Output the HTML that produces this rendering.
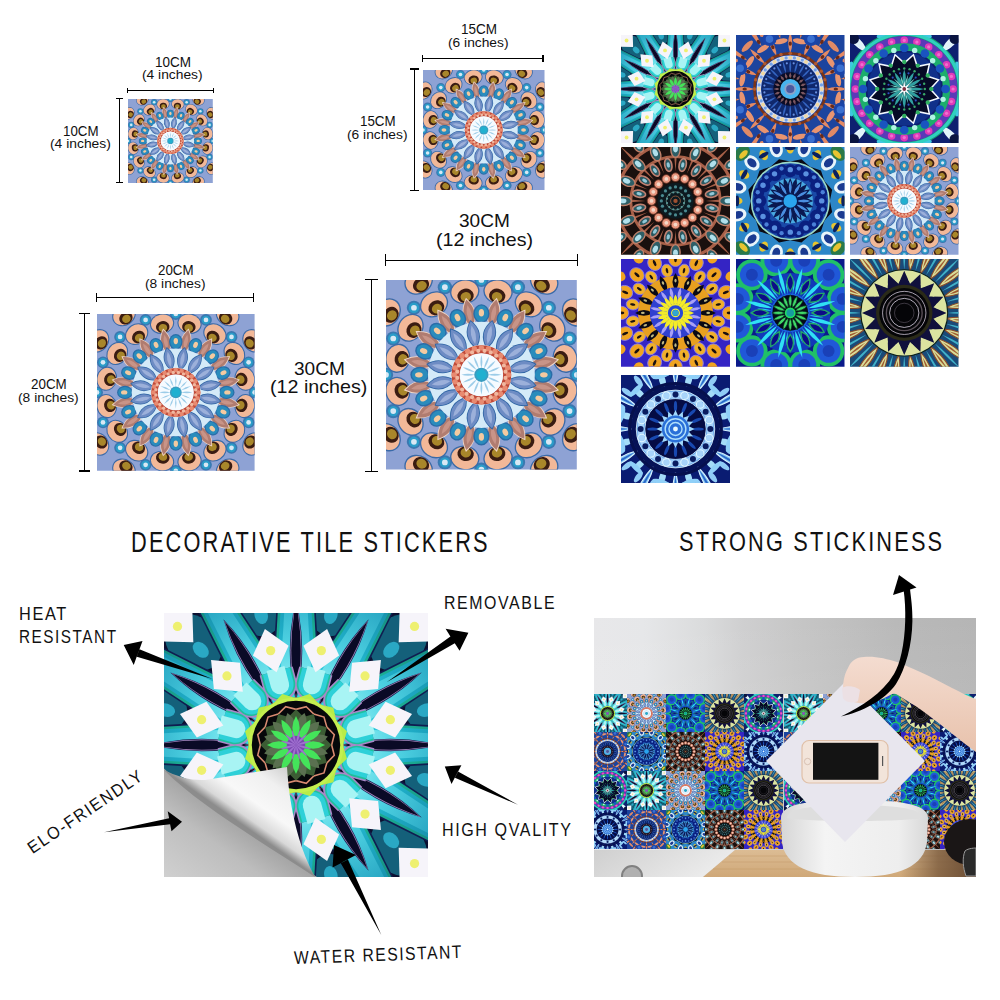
<!DOCTYPE html><html><head><meta charset="utf-8"><style>
*{margin:0;padding:0;box-sizing:border-box}
html,body{width:1000px;height:1000px;background:#fff;overflow:hidden}
body{position:relative;font-family:"Liberation Sans",sans-serif;color:#111}
.a{position:absolute}
svg.t{position:absolute;overflow:hidden;display:block}
.h{position:absolute;height:1.4px;background:#000}
.v{position:absolute;width:1.4px;background:#000}
.tx{position:absolute;white-space:nowrap;line-height:1;text-align:center}
</style></head><body>
<svg width="0" height="0" style="position:absolute"><defs><radialGradient id="gBgreen" gradientUnits="userSpaceOnUse" cx="0" cy="0" r="1.5"><stop offset="0.3" stop-color="#22c8a0"/><stop offset="0.6" stop-color="#1aa890"/><stop offset="1" stop-color="#147a78"/></radialGradient><radialGradient id="gBcyan" gradientUnits="userSpaceOnUse" cx="0" cy="0" r="1.5"><stop offset="0.3" stop-color="#34d4e4"/><stop offset="0.6" stop-color="#1eaac4"/><stop offset="1" stop-color="#15809c"/></radialGradient><radialGradient id="gBlight" gradientUnits="userSpaceOnUse" cx="0" cy="0" r="1.5"><stop offset="0.25" stop-color="#a0f4f6"/><stop offset="0.5" stop-color="#50d4e4"/><stop offset="0.8" stop-color="#2aa8c4"/><stop offset="1" stop-color="#1a8aa8"/></radialGradient><symbol id="mA" viewBox="-1 -1 2 2" overflow="hidden"><rect x="-1.5" y="-1.5" width="3" height="3" fill="#8ea2d4"/><circle cx="0" cy="-1" r="0.075" fill="#3a78b0"/><circle cx="0.383" cy="-0.924" r="0.075" fill="#3a78b0"/><circle cx="0.707" cy="-0.707" r="0.075" fill="#3a78b0"/><circle cx="0.924" cy="-0.383" r="0.075" fill="#3a78b0"/><circle cx="1" cy="0" r="0.075" fill="#3a78b0"/><circle cx="0.924" cy="0.383" r="0.075" fill="#3a78b0"/><circle cx="0.707" cy="0.707" r="0.075" fill="#3a78b0"/><circle cx="0.383" cy="0.924" r="0.075" fill="#3a78b0"/><circle cx="0" cy="1" r="0.075" fill="#3a78b0"/><circle cx="-0.383" cy="0.924" r="0.075" fill="#3a78b0"/><circle cx="-0.707" cy="0.707" r="0.075" fill="#3a78b0"/><circle cx="-0.924" cy="0.383" r="0.075" fill="#3a78b0"/><circle cx="-1" cy="0" r="0.075" fill="#3a78b0"/><circle cx="-0.924" cy="-0.383" r="0.075" fill="#3a78b0"/><circle cx="-0.707" cy="-0.707" r="0.075" fill="#3a78b0"/><circle cx="-0.383" cy="-0.924" r="0.075" fill="#3a78b0"/><circle cx="0" cy="-1" r="0.055" fill="#2a9cc8"/><circle cx="0.383" cy="-0.924" r="0.055" fill="#2a9cc8"/><circle cx="0.707" cy="-0.707" r="0.055" fill="#2a9cc8"/><circle cx="0.924" cy="-0.383" r="0.055" fill="#2a9cc8"/><circle cx="1" cy="0" r="0.055" fill="#2a9cc8"/><circle cx="0.924" cy="0.383" r="0.055" fill="#2a9cc8"/><circle cx="0.707" cy="0.707" r="0.055" fill="#2a9cc8"/><circle cx="0.383" cy="0.924" r="0.055" fill="#2a9cc8"/><circle cx="0" cy="1" r="0.055" fill="#2a9cc8"/><circle cx="-0.383" cy="0.924" r="0.055" fill="#2a9cc8"/><circle cx="-0.707" cy="0.707" r="0.055" fill="#2a9cc8"/><circle cx="-0.924" cy="0.383" r="0.055" fill="#2a9cc8"/><circle cx="-1" cy="0" r="0.055" fill="#2a9cc8"/><circle cx="-0.924" cy="-0.383" r="0.055" fill="#2a9cc8"/><circle cx="-0.707" cy="-0.707" r="0.055" fill="#2a9cc8"/><circle cx="-0.383" cy="-0.924" r="0.055" fill="#2a9cc8"/><circle cx="0" cy="-1" r="0.03" fill="#d8e8f4"/><circle cx="0.383" cy="-0.924" r="0.03" fill="#d8e8f4"/><circle cx="0.707" cy="-0.707" r="0.03" fill="#d8e8f4"/><circle cx="0.924" cy="-0.383" r="0.03" fill="#d8e8f4"/><circle cx="1" cy="0" r="0.03" fill="#d8e8f4"/><circle cx="0.924" cy="0.383" r="0.03" fill="#d8e8f4"/><circle cx="0.707" cy="0.707" r="0.03" fill="#d8e8f4"/><circle cx="0.383" cy="0.924" r="0.03" fill="#d8e8f4"/><circle cx="0" cy="1" r="0.03" fill="#d8e8f4"/><circle cx="-0.383" cy="0.924" r="0.03" fill="#d8e8f4"/><circle cx="-0.707" cy="0.707" r="0.03" fill="#d8e8f4"/><circle cx="-0.924" cy="0.383" r="0.03" fill="#d8e8f4"/><circle cx="-1" cy="0" r="0.03" fill="#d8e8f4"/><circle cx="-0.924" cy="-0.383" r="0.03" fill="#d8e8f4"/><circle cx="-0.707" cy="-0.707" r="0.03" fill="#d8e8f4"/><circle cx="-0.383" cy="-0.924" r="0.03" fill="#d8e8f4"/><g transform="rotate(-78.75)"><ellipse cx="1.184" cy="0" rx="0.133" ry="0.157" fill="#3a6aa8"/></g><g transform="rotate(-56.25)"><ellipse cx="1.184" cy="0" rx="0.133" ry="0.157" fill="#3a6aa8"/></g><g transform="rotate(-33.75)"><ellipse cx="1.184" cy="0" rx="0.133" ry="0.157" fill="#3a6aa8"/></g><g transform="rotate(-11.25)"><ellipse cx="1.184" cy="0" rx="0.133" ry="0.157" fill="#3a6aa8"/></g><g transform="rotate(11.25)"><ellipse cx="1.184" cy="0" rx="0.133" ry="0.157" fill="#3a6aa8"/></g><g transform="rotate(33.75)"><ellipse cx="1.184" cy="0" rx="0.133" ry="0.157" fill="#3a6aa8"/></g><g transform="rotate(56.25)"><ellipse cx="1.184" cy="0" rx="0.133" ry="0.157" fill="#3a6aa8"/></g><g transform="rotate(78.75)"><ellipse cx="1.184" cy="0" rx="0.133" ry="0.157" fill="#3a6aa8"/></g><g transform="rotate(101.25)"><ellipse cx="1.184" cy="0" rx="0.133" ry="0.157" fill="#3a6aa8"/></g><g transform="rotate(123.75)"><ellipse cx="1.184" cy="0" rx="0.133" ry="0.157" fill="#3a6aa8"/></g><g transform="rotate(146.25)"><ellipse cx="1.184" cy="0" rx="0.133" ry="0.157" fill="#3a6aa8"/></g><g transform="rotate(168.75)"><ellipse cx="1.184" cy="0" rx="0.133" ry="0.157" fill="#3a6aa8"/></g><g transform="rotate(191.25)"><ellipse cx="1.184" cy="0" rx="0.133" ry="0.157" fill="#3a6aa8"/></g><g transform="rotate(213.75)"><ellipse cx="1.184" cy="0" rx="0.133" ry="0.157" fill="#3a6aa8"/></g><g transform="rotate(236.25)"><ellipse cx="1.184" cy="0" rx="0.133" ry="0.157" fill="#3a6aa8"/></g><g transform="rotate(258.75)"><ellipse cx="1.184" cy="0" rx="0.133" ry="0.157" fill="#3a6aa8"/></g><g transform="rotate(-78.75)"><ellipse cx="1.184" cy="0" rx="0.119" ry="0.143" fill="#f2b898"/></g><g transform="rotate(-56.25)"><ellipse cx="1.184" cy="0" rx="0.119" ry="0.143" fill="#f2b898"/></g><g transform="rotate(-33.75)"><ellipse cx="1.184" cy="0" rx="0.119" ry="0.143" fill="#f2b898"/></g><g transform="rotate(-11.25)"><ellipse cx="1.184" cy="0" rx="0.119" ry="0.143" fill="#f2b898"/></g><g transform="rotate(11.25)"><ellipse cx="1.184" cy="0" rx="0.119" ry="0.143" fill="#f2b898"/></g><g transform="rotate(33.75)"><ellipse cx="1.184" cy="0" rx="0.119" ry="0.143" fill="#f2b898"/></g><g transform="rotate(56.25)"><ellipse cx="1.184" cy="0" rx="0.119" ry="0.143" fill="#f2b898"/></g><g transform="rotate(78.75)"><ellipse cx="1.184" cy="0" rx="0.119" ry="0.143" fill="#f2b898"/></g><g transform="rotate(101.25)"><ellipse cx="1.184" cy="0" rx="0.119" ry="0.143" fill="#f2b898"/></g><g transform="rotate(123.75)"><ellipse cx="1.184" cy="0" rx="0.119" ry="0.143" fill="#f2b898"/></g><g transform="rotate(146.25)"><ellipse cx="1.184" cy="0" rx="0.119" ry="0.143" fill="#f2b898"/></g><g transform="rotate(168.75)"><ellipse cx="1.184" cy="0" rx="0.119" ry="0.143" fill="#f2b898"/></g><g transform="rotate(191.25)"><ellipse cx="1.184" cy="0" rx="0.119" ry="0.143" fill="#f2b898"/></g><g transform="rotate(213.75)"><ellipse cx="1.184" cy="0" rx="0.119" ry="0.143" fill="#f2b898"/></g><g transform="rotate(236.25)"><ellipse cx="1.184" cy="0" rx="0.119" ry="0.143" fill="#f2b898"/></g><g transform="rotate(258.75)"><ellipse cx="1.184" cy="0" rx="0.119" ry="0.143" fill="#f2b898"/></g><g transform="rotate(-78.75)"><ellipse cx="1.139" cy="0" rx="0.077" ry="0.087" fill="#3a1c12"/></g><g transform="rotate(-56.25)"><ellipse cx="1.139" cy="0" rx="0.077" ry="0.087" fill="#3a1c12"/></g><g transform="rotate(-33.75)"><ellipse cx="1.139" cy="0" rx="0.077" ry="0.087" fill="#3a1c12"/></g><g transform="rotate(-11.25)"><ellipse cx="1.139" cy="0" rx="0.077" ry="0.087" fill="#3a1c12"/></g><g transform="rotate(11.25)"><ellipse cx="1.139" cy="0" rx="0.077" ry="0.087" fill="#3a1c12"/></g><g transform="rotate(33.75)"><ellipse cx="1.139" cy="0" rx="0.077" ry="0.087" fill="#3a1c12"/></g><g transform="rotate(56.25)"><ellipse cx="1.139" cy="0" rx="0.077" ry="0.087" fill="#3a1c12"/></g><g transform="rotate(78.75)"><ellipse cx="1.139" cy="0" rx="0.077" ry="0.087" fill="#3a1c12"/></g><g transform="rotate(101.25)"><ellipse cx="1.139" cy="0" rx="0.077" ry="0.087" fill="#3a1c12"/></g><g transform="rotate(123.75)"><ellipse cx="1.139" cy="0" rx="0.077" ry="0.087" fill="#3a1c12"/></g><g transform="rotate(146.25)"><ellipse cx="1.139" cy="0" rx="0.077" ry="0.087" fill="#3a1c12"/></g><g transform="rotate(168.75)"><ellipse cx="1.139" cy="0" rx="0.077" ry="0.087" fill="#3a1c12"/></g><g transform="rotate(191.25)"><ellipse cx="1.139" cy="0" rx="0.077" ry="0.087" fill="#3a1c12"/></g><g transform="rotate(213.75)"><ellipse cx="1.139" cy="0" rx="0.077" ry="0.087" fill="#3a1c12"/></g><g transform="rotate(236.25)"><ellipse cx="1.139" cy="0" rx="0.077" ry="0.087" fill="#3a1c12"/></g><g transform="rotate(258.75)"><ellipse cx="1.139" cy="0" rx="0.077" ry="0.087" fill="#3a1c12"/></g><g transform="rotate(-78.75)"><ellipse cx="1.128" cy="0" rx="0.05" ry="0.056" fill="#a8862a"/></g><g transform="rotate(-56.25)"><ellipse cx="1.128" cy="0" rx="0.05" ry="0.056" fill="#a8862a"/></g><g transform="rotate(-33.75)"><ellipse cx="1.128" cy="0" rx="0.05" ry="0.056" fill="#a8862a"/></g><g transform="rotate(-11.25)"><ellipse cx="1.128" cy="0" rx="0.05" ry="0.056" fill="#a8862a"/></g><g transform="rotate(11.25)"><ellipse cx="1.128" cy="0" rx="0.05" ry="0.056" fill="#a8862a"/></g><g transform="rotate(33.75)"><ellipse cx="1.128" cy="0" rx="0.05" ry="0.056" fill="#a8862a"/></g><g transform="rotate(56.25)"><ellipse cx="1.128" cy="0" rx="0.05" ry="0.056" fill="#a8862a"/></g><g transform="rotate(78.75)"><ellipse cx="1.128" cy="0" rx="0.05" ry="0.056" fill="#a8862a"/></g><g transform="rotate(101.25)"><ellipse cx="1.128" cy="0" rx="0.05" ry="0.056" fill="#a8862a"/></g><g transform="rotate(123.75)"><ellipse cx="1.128" cy="0" rx="0.05" ry="0.056" fill="#a8862a"/></g><g transform="rotate(146.25)"><ellipse cx="1.128" cy="0" rx="0.05" ry="0.056" fill="#a8862a"/></g><g transform="rotate(168.75)"><ellipse cx="1.128" cy="0" rx="0.05" ry="0.056" fill="#a8862a"/></g><g transform="rotate(191.25)"><ellipse cx="1.128" cy="0" rx="0.05" ry="0.056" fill="#a8862a"/></g><g transform="rotate(213.75)"><ellipse cx="1.128" cy="0" rx="0.05" ry="0.056" fill="#a8862a"/></g><g transform="rotate(236.25)"><ellipse cx="1.128" cy="0" rx="0.05" ry="0.056" fill="#a8862a"/></g><g transform="rotate(258.75)"><ellipse cx="1.128" cy="0" rx="0.05" ry="0.056" fill="#a8862a"/></g><g transform="rotate(-78.75)"><ellipse cx="0.894" cy="0" rx="0.131" ry="0.155" fill="#3a6aa8"/></g><g transform="rotate(-56.25)"><ellipse cx="0.894" cy="0" rx="0.131" ry="0.155" fill="#3a6aa8"/></g><g transform="rotate(-33.75)"><ellipse cx="0.894" cy="0" rx="0.131" ry="0.155" fill="#3a6aa8"/></g><g transform="rotate(-11.25)"><ellipse cx="0.894" cy="0" rx="0.131" ry="0.155" fill="#3a6aa8"/></g><g transform="rotate(11.25)"><ellipse cx="0.894" cy="0" rx="0.131" ry="0.155" fill="#3a6aa8"/></g><g transform="rotate(33.75)"><ellipse cx="0.894" cy="0" rx="0.131" ry="0.155" fill="#3a6aa8"/></g><g transform="rotate(56.25)"><ellipse cx="0.894" cy="0" rx="0.131" ry="0.155" fill="#3a6aa8"/></g><g transform="rotate(78.75)"><ellipse cx="0.894" cy="0" rx="0.131" ry="0.155" fill="#3a6aa8"/></g><g transform="rotate(101.25)"><ellipse cx="0.894" cy="0" rx="0.131" ry="0.155" fill="#3a6aa8"/></g><g transform="rotate(123.75)"><ellipse cx="0.894" cy="0" rx="0.131" ry="0.155" fill="#3a6aa8"/></g><g transform="rotate(146.25)"><ellipse cx="0.894" cy="0" rx="0.131" ry="0.155" fill="#3a6aa8"/></g><g transform="rotate(168.75)"><ellipse cx="0.894" cy="0" rx="0.131" ry="0.155" fill="#3a6aa8"/></g><g transform="rotate(191.25)"><ellipse cx="0.894" cy="0" rx="0.131" ry="0.155" fill="#3a6aa8"/></g><g transform="rotate(213.75)"><ellipse cx="0.894" cy="0" rx="0.131" ry="0.155" fill="#3a6aa8"/></g><g transform="rotate(236.25)"><ellipse cx="0.894" cy="0" rx="0.131" ry="0.155" fill="#3a6aa8"/></g><g transform="rotate(258.75)"><ellipse cx="0.894" cy="0" rx="0.131" ry="0.155" fill="#3a6aa8"/></g><g transform="rotate(-78.75)"><ellipse cx="0.894" cy="0" rx="0.117" ry="0.141" fill="#f2b898"/></g><g transform="rotate(-56.25)"><ellipse cx="0.894" cy="0" rx="0.117" ry="0.141" fill="#f2b898"/></g><g transform="rotate(-33.75)"><ellipse cx="0.894" cy="0" rx="0.117" ry="0.141" fill="#f2b898"/></g><g transform="rotate(-11.25)"><ellipse cx="0.894" cy="0" rx="0.117" ry="0.141" fill="#f2b898"/></g><g transform="rotate(11.25)"><ellipse cx="0.894" cy="0" rx="0.117" ry="0.141" fill="#f2b898"/></g><g transform="rotate(33.75)"><ellipse cx="0.894" cy="0" rx="0.117" ry="0.141" fill="#f2b898"/></g><g transform="rotate(56.25)"><ellipse cx="0.894" cy="0" rx="0.117" ry="0.141" fill="#f2b898"/></g><g transform="rotate(78.75)"><ellipse cx="0.894" cy="0" rx="0.117" ry="0.141" fill="#f2b898"/></g><g transform="rotate(101.25)"><ellipse cx="0.894" cy="0" rx="0.117" ry="0.141" fill="#f2b898"/></g><g transform="rotate(123.75)"><ellipse cx="0.894" cy="0" rx="0.117" ry="0.141" fill="#f2b898"/></g><g transform="rotate(146.25)"><ellipse cx="0.894" cy="0" rx="0.117" ry="0.141" fill="#f2b898"/></g><g transform="rotate(168.75)"><ellipse cx="0.894" cy="0" rx="0.117" ry="0.141" fill="#f2b898"/></g><g transform="rotate(191.25)"><ellipse cx="0.894" cy="0" rx="0.117" ry="0.141" fill="#f2b898"/></g><g transform="rotate(213.75)"><ellipse cx="0.894" cy="0" rx="0.117" ry="0.141" fill="#f2b898"/></g><g transform="rotate(236.25)"><ellipse cx="0.894" cy="0" rx="0.117" ry="0.141" fill="#f2b898"/></g><g transform="rotate(258.75)"><ellipse cx="0.894" cy="0" rx="0.117" ry="0.141" fill="#f2b898"/></g><g transform="rotate(-78.75)"><ellipse cx="0.85" cy="0" rx="0.076" ry="0.086" fill="#3a1c12"/></g><g transform="rotate(-56.25)"><ellipse cx="0.85" cy="0" rx="0.076" ry="0.086" fill="#3a1c12"/></g><g transform="rotate(-33.75)"><ellipse cx="0.85" cy="0" rx="0.076" ry="0.086" fill="#3a1c12"/></g><g transform="rotate(-11.25)"><ellipse cx="0.85" cy="0" rx="0.076" ry="0.086" fill="#3a1c12"/></g><g transform="rotate(11.25)"><ellipse cx="0.85" cy="0" rx="0.076" ry="0.086" fill="#3a1c12"/></g><g transform="rotate(33.75)"><ellipse cx="0.85" cy="0" rx="0.076" ry="0.086" fill="#3a1c12"/></g><g transform="rotate(56.25)"><ellipse cx="0.85" cy="0" rx="0.076" ry="0.086" fill="#3a1c12"/></g><g transform="rotate(78.75)"><ellipse cx="0.85" cy="0" rx="0.076" ry="0.086" fill="#3a1c12"/></g><g transform="rotate(101.25)"><ellipse cx="0.85" cy="0" rx="0.076" ry="0.086" fill="#3a1c12"/></g><g transform="rotate(123.75)"><ellipse cx="0.85" cy="0" rx="0.076" ry="0.086" fill="#3a1c12"/></g><g transform="rotate(146.25)"><ellipse cx="0.85" cy="0" rx="0.076" ry="0.086" fill="#3a1c12"/></g><g transform="rotate(168.75)"><ellipse cx="0.85" cy="0" rx="0.076" ry="0.086" fill="#3a1c12"/></g><g transform="rotate(191.25)"><ellipse cx="0.85" cy="0" rx="0.076" ry="0.086" fill="#3a1c12"/></g><g transform="rotate(213.75)"><ellipse cx="0.85" cy="0" rx="0.076" ry="0.086" fill="#3a1c12"/></g><g transform="rotate(236.25)"><ellipse cx="0.85" cy="0" rx="0.076" ry="0.086" fill="#3a1c12"/></g><g transform="rotate(258.75)"><ellipse cx="0.85" cy="0" rx="0.076" ry="0.086" fill="#3a1c12"/></g><g transform="rotate(-78.75)"><ellipse cx="0.839" cy="0" rx="0.05" ry="0.055" fill="#a8862a"/></g><g transform="rotate(-56.25)"><ellipse cx="0.839" cy="0" rx="0.05" ry="0.055" fill="#a8862a"/></g><g transform="rotate(-33.75)"><ellipse cx="0.839" cy="0" rx="0.05" ry="0.055" fill="#a8862a"/></g><g transform="rotate(-11.25)"><ellipse cx="0.839" cy="0" rx="0.05" ry="0.055" fill="#a8862a"/></g><g transform="rotate(11.25)"><ellipse cx="0.839" cy="0" rx="0.05" ry="0.055" fill="#a8862a"/></g><g transform="rotate(33.75)"><ellipse cx="0.839" cy="0" rx="0.05" ry="0.055" fill="#a8862a"/></g><g transform="rotate(56.25)"><ellipse cx="0.839" cy="0" rx="0.05" ry="0.055" fill="#a8862a"/></g><g transform="rotate(78.75)"><ellipse cx="0.839" cy="0" rx="0.05" ry="0.055" fill="#a8862a"/></g><g transform="rotate(101.25)"><ellipse cx="0.839" cy="0" rx="0.05" ry="0.055" fill="#a8862a"/></g><g transform="rotate(123.75)"><ellipse cx="0.839" cy="0" rx="0.05" ry="0.055" fill="#a8862a"/></g><g transform="rotate(146.25)"><ellipse cx="0.839" cy="0" rx="0.05" ry="0.055" fill="#a8862a"/></g><g transform="rotate(168.75)"><ellipse cx="0.839" cy="0" rx="0.05" ry="0.055" fill="#a8862a"/></g><g transform="rotate(191.25)"><ellipse cx="0.839" cy="0" rx="0.05" ry="0.055" fill="#a8862a"/></g><g transform="rotate(213.75)"><ellipse cx="0.839" cy="0" rx="0.05" ry="0.055" fill="#a8862a"/></g><g transform="rotate(236.25)"><ellipse cx="0.839" cy="0" rx="0.05" ry="0.055" fill="#a8862a"/></g><g transform="rotate(258.75)"><ellipse cx="0.839" cy="0" rx="0.05" ry="0.055" fill="#a8862a"/></g><g transform="rotate(-78.75)"><path d="M0.49 0Q0.66 0.13 0.83 0Q0.66 -0.13 0.49 0Z" fill="#f2d8c8"/></g><g transform="rotate(-56.25)"><path d="M0.49 0Q0.66 0.13 0.83 0Q0.66 -0.13 0.49 0Z" fill="#f2d8c8"/></g><g transform="rotate(-33.75)"><path d="M0.49 0Q0.66 0.13 0.83 0Q0.66 -0.13 0.49 0Z" fill="#f2d8c8"/></g><g transform="rotate(-11.25)"><path d="M0.49 0Q0.66 0.13 0.83 0Q0.66 -0.13 0.49 0Z" fill="#f2d8c8"/></g><g transform="rotate(11.25)"><path d="M0.49 0Q0.66 0.13 0.83 0Q0.66 -0.13 0.49 0Z" fill="#f2d8c8"/></g><g transform="rotate(33.75)"><path d="M0.49 0Q0.66 0.13 0.83 0Q0.66 -0.13 0.49 0Z" fill="#f2d8c8"/></g><g transform="rotate(56.25)"><path d="M0.49 0Q0.66 0.13 0.83 0Q0.66 -0.13 0.49 0Z" fill="#f2d8c8"/></g><g transform="rotate(78.75)"><path d="M0.49 0Q0.66 0.13 0.83 0Q0.66 -0.13 0.49 0Z" fill="#f2d8c8"/></g><g transform="rotate(101.25)"><path d="M0.49 0Q0.66 0.13 0.83 0Q0.66 -0.13 0.49 0Z" fill="#f2d8c8"/></g><g transform="rotate(123.75)"><path d="M0.49 0Q0.66 0.13 0.83 0Q0.66 -0.13 0.49 0Z" fill="#f2d8c8"/></g><g transform="rotate(146.25)"><path d="M0.49 0Q0.66 0.13 0.83 0Q0.66 -0.13 0.49 0Z" fill="#f2d8c8"/></g><g transform="rotate(168.75)"><path d="M0.49 0Q0.66 0.13 0.83 0Q0.66 -0.13 0.49 0Z" fill="#f2d8c8"/></g><g transform="rotate(191.25)"><path d="M0.49 0Q0.66 0.13 0.83 0Q0.66 -0.13 0.49 0Z" fill="#f2d8c8"/></g><g transform="rotate(213.75)"><path d="M0.49 0Q0.66 0.13 0.83 0Q0.66 -0.13 0.49 0Z" fill="#f2d8c8"/></g><g transform="rotate(236.25)"><path d="M0.49 0Q0.66 0.13 0.83 0Q0.66 -0.13 0.49 0Z" fill="#f2d8c8"/></g><g transform="rotate(258.75)"><path d="M0.49 0Q0.66 0.13 0.83 0Q0.66 -0.13 0.49 0Z" fill="#f2d8c8"/></g><g transform="rotate(-78.75)"><path d="M0.51 0Q0.66 0.115 0.81 0Q0.66 -0.115 0.51 0Z" fill="#b07c70"/></g><g transform="rotate(-56.25)"><path d="M0.51 0Q0.66 0.115 0.81 0Q0.66 -0.115 0.51 0Z" fill="#b07c70"/></g><g transform="rotate(-33.75)"><path d="M0.51 0Q0.66 0.115 0.81 0Q0.66 -0.115 0.51 0Z" fill="#b07c70"/></g><g transform="rotate(-11.25)"><path d="M0.51 0Q0.66 0.115 0.81 0Q0.66 -0.115 0.51 0Z" fill="#b07c70"/></g><g transform="rotate(11.25)"><path d="M0.51 0Q0.66 0.115 0.81 0Q0.66 -0.115 0.51 0Z" fill="#b07c70"/></g><g transform="rotate(33.75)"><path d="M0.51 0Q0.66 0.115 0.81 0Q0.66 -0.115 0.51 0Z" fill="#b07c70"/></g><g transform="rotate(56.25)"><path d="M0.51 0Q0.66 0.115 0.81 0Q0.66 -0.115 0.51 0Z" fill="#b07c70"/></g><g transform="rotate(78.75)"><path d="M0.51 0Q0.66 0.115 0.81 0Q0.66 -0.115 0.51 0Z" fill="#b07c70"/></g><g transform="rotate(101.25)"><path d="M0.51 0Q0.66 0.115 0.81 0Q0.66 -0.115 0.51 0Z" fill="#b07c70"/></g><g transform="rotate(123.75)"><path d="M0.51 0Q0.66 0.115 0.81 0Q0.66 -0.115 0.51 0Z" fill="#b07c70"/></g><g transform="rotate(146.25)"><path d="M0.51 0Q0.66 0.115 0.81 0Q0.66 -0.115 0.51 0Z" fill="#b07c70"/></g><g transform="rotate(168.75)"><path d="M0.51 0Q0.66 0.115 0.81 0Q0.66 -0.115 0.51 0Z" fill="#b07c70"/></g><g transform="rotate(191.25)"><path d="M0.51 0Q0.66 0.115 0.81 0Q0.66 -0.115 0.51 0Z" fill="#b07c70"/></g><g transform="rotate(213.75)"><path d="M0.51 0Q0.66 0.115 0.81 0Q0.66 -0.115 0.51 0Z" fill="#b07c70"/></g><g transform="rotate(236.25)"><path d="M0.51 0Q0.66 0.115 0.81 0Q0.66 -0.115 0.51 0Z" fill="#b07c70"/></g><g transform="rotate(258.75)"><path d="M0.51 0Q0.66 0.115 0.81 0Q0.66 -0.115 0.51 0Z" fill="#b07c70"/></g><g transform="rotate(-78.75)"><path d="M0.56 0Q0.655 0.05 0.75 0Q0.655 -0.05 0.56 0Z" fill="#c89488"/></g><g transform="rotate(-56.25)"><path d="M0.56 0Q0.655 0.05 0.75 0Q0.655 -0.05 0.56 0Z" fill="#c89488"/></g><g transform="rotate(-33.75)"><path d="M0.56 0Q0.655 0.05 0.75 0Q0.655 -0.05 0.56 0Z" fill="#c89488"/></g><g transform="rotate(-11.25)"><path d="M0.56 0Q0.655 0.05 0.75 0Q0.655 -0.05 0.56 0Z" fill="#c89488"/></g><g transform="rotate(11.25)"><path d="M0.56 0Q0.655 0.05 0.75 0Q0.655 -0.05 0.56 0Z" fill="#c89488"/></g><g transform="rotate(33.75)"><path d="M0.56 0Q0.655 0.05 0.75 0Q0.655 -0.05 0.56 0Z" fill="#c89488"/></g><g transform="rotate(56.25)"><path d="M0.56 0Q0.655 0.05 0.75 0Q0.655 -0.05 0.56 0Z" fill="#c89488"/></g><g transform="rotate(78.75)"><path d="M0.56 0Q0.655 0.05 0.75 0Q0.655 -0.05 0.56 0Z" fill="#c89488"/></g><g transform="rotate(101.25)"><path d="M0.56 0Q0.655 0.05 0.75 0Q0.655 -0.05 0.56 0Z" fill="#c89488"/></g><g transform="rotate(123.75)"><path d="M0.56 0Q0.655 0.05 0.75 0Q0.655 -0.05 0.56 0Z" fill="#c89488"/></g><g transform="rotate(146.25)"><path d="M0.56 0Q0.655 0.05 0.75 0Q0.655 -0.05 0.56 0Z" fill="#c89488"/></g><g transform="rotate(168.75)"><path d="M0.56 0Q0.655 0.05 0.75 0Q0.655 -0.05 0.56 0Z" fill="#c89488"/></g><g transform="rotate(191.25)"><path d="M0.56 0Q0.655 0.05 0.75 0Q0.655 -0.05 0.56 0Z" fill="#c89488"/></g><g transform="rotate(213.75)"><path d="M0.56 0Q0.655 0.05 0.75 0Q0.655 -0.05 0.56 0Z" fill="#c89488"/></g><g transform="rotate(236.25)"><path d="M0.56 0Q0.655 0.05 0.75 0Q0.655 -0.05 0.56 0Z" fill="#c89488"/></g><g transform="rotate(258.75)"><path d="M0.56 0Q0.655 0.05 0.75 0Q0.655 -0.05 0.56 0Z" fill="#c89488"/></g><g transform="rotate(-90)"><ellipse cx="0.645" cy="0" rx="0.1" ry="0.085" fill="#2a6ca8"/></g><g transform="rotate(-67.5)"><ellipse cx="0.645" cy="0" rx="0.1" ry="0.085" fill="#2a6ca8"/></g><g transform="rotate(-45)"><ellipse cx="0.645" cy="0" rx="0.1" ry="0.085" fill="#2a6ca8"/></g><g transform="rotate(-22.5)"><ellipse cx="0.645" cy="0" rx="0.1" ry="0.085" fill="#2a6ca8"/></g><g transform="rotate(0)"><ellipse cx="0.645" cy="0" rx="0.1" ry="0.085" fill="#2a6ca8"/></g><g transform="rotate(22.5)"><ellipse cx="0.645" cy="0" rx="0.1" ry="0.085" fill="#2a6ca8"/></g><g transform="rotate(45)"><ellipse cx="0.645" cy="0" rx="0.1" ry="0.085" fill="#2a6ca8"/></g><g transform="rotate(67.5)"><ellipse cx="0.645" cy="0" rx="0.1" ry="0.085" fill="#2a6ca8"/></g><g transform="rotate(90)"><ellipse cx="0.645" cy="0" rx="0.1" ry="0.085" fill="#2a6ca8"/></g><g transform="rotate(112.5)"><ellipse cx="0.645" cy="0" rx="0.1" ry="0.085" fill="#2a6ca8"/></g><g transform="rotate(135)"><ellipse cx="0.645" cy="0" rx="0.1" ry="0.085" fill="#2a6ca8"/></g><g transform="rotate(157.5)"><ellipse cx="0.645" cy="0" rx="0.1" ry="0.085" fill="#2a6ca8"/></g><g transform="rotate(180)"><ellipse cx="0.645" cy="0" rx="0.1" ry="0.085" fill="#2a6ca8"/></g><g transform="rotate(202.5)"><ellipse cx="0.645" cy="0" rx="0.1" ry="0.085" fill="#2a6ca8"/></g><g transform="rotate(225)"><ellipse cx="0.645" cy="0" rx="0.1" ry="0.085" fill="#2a6ca8"/></g><g transform="rotate(247.5)"><ellipse cx="0.645" cy="0" rx="0.1" ry="0.085" fill="#2a6ca8"/></g><g transform="rotate(-90)"><ellipse cx="0.645" cy="0" rx="0.085" ry="0.07" fill="#2a8cbc"/></g><g transform="rotate(-67.5)"><ellipse cx="0.645" cy="0" rx="0.085" ry="0.07" fill="#2a8cbc"/></g><g transform="rotate(-45)"><ellipse cx="0.645" cy="0" rx="0.085" ry="0.07" fill="#2a8cbc"/></g><g transform="rotate(-22.5)"><ellipse cx="0.645" cy="0" rx="0.085" ry="0.07" fill="#2a8cbc"/></g><g transform="rotate(0)"><ellipse cx="0.645" cy="0" rx="0.085" ry="0.07" fill="#2a8cbc"/></g><g transform="rotate(22.5)"><ellipse cx="0.645" cy="0" rx="0.085" ry="0.07" fill="#2a8cbc"/></g><g transform="rotate(45)"><ellipse cx="0.645" cy="0" rx="0.085" ry="0.07" fill="#2a8cbc"/></g><g transform="rotate(67.5)"><ellipse cx="0.645" cy="0" rx="0.085" ry="0.07" fill="#2a8cbc"/></g><g transform="rotate(90)"><ellipse cx="0.645" cy="0" rx="0.085" ry="0.07" fill="#2a8cbc"/></g><g transform="rotate(112.5)"><ellipse cx="0.645" cy="0" rx="0.085" ry="0.07" fill="#2a8cbc"/></g><g transform="rotate(135)"><ellipse cx="0.645" cy="0" rx="0.085" ry="0.07" fill="#2a8cbc"/></g><g transform="rotate(157.5)"><ellipse cx="0.645" cy="0" rx="0.085" ry="0.07" fill="#2a8cbc"/></g><g transform="rotate(180)"><ellipse cx="0.645" cy="0" rx="0.085" ry="0.07" fill="#2a8cbc"/></g><g transform="rotate(202.5)"><ellipse cx="0.645" cy="0" rx="0.085" ry="0.07" fill="#2a8cbc"/></g><g transform="rotate(225)"><ellipse cx="0.645" cy="0" rx="0.085" ry="0.07" fill="#2a8cbc"/></g><g transform="rotate(247.5)"><ellipse cx="0.645" cy="0" rx="0.085" ry="0.07" fill="#2a8cbc"/></g><g transform="rotate(-90)"><ellipse cx="0.655" cy="0" rx="0.04" ry="0.028" fill="#f4caa0"/></g><g transform="rotate(-67.5)"><ellipse cx="0.655" cy="0" rx="0.04" ry="0.028" fill="#f4caa0"/></g><g transform="rotate(-45)"><ellipse cx="0.655" cy="0" rx="0.04" ry="0.028" fill="#f4caa0"/></g><g transform="rotate(-22.5)"><ellipse cx="0.655" cy="0" rx="0.04" ry="0.028" fill="#f4caa0"/></g><g transform="rotate(0)"><ellipse cx="0.655" cy="0" rx="0.04" ry="0.028" fill="#f4caa0"/></g><g transform="rotate(22.5)"><ellipse cx="0.655" cy="0" rx="0.04" ry="0.028" fill="#f4caa0"/></g><g transform="rotate(45)"><ellipse cx="0.655" cy="0" rx="0.04" ry="0.028" fill="#f4caa0"/></g><g transform="rotate(67.5)"><ellipse cx="0.655" cy="0" rx="0.04" ry="0.028" fill="#f4caa0"/></g><g transform="rotate(90)"><ellipse cx="0.655" cy="0" rx="0.04" ry="0.028" fill="#f4caa0"/></g><g transform="rotate(112.5)"><ellipse cx="0.655" cy="0" rx="0.04" ry="0.028" fill="#f4caa0"/></g><g transform="rotate(135)"><ellipse cx="0.655" cy="0" rx="0.04" ry="0.028" fill="#f4caa0"/></g><g transform="rotate(157.5)"><ellipse cx="0.655" cy="0" rx="0.04" ry="0.028" fill="#f4caa0"/></g><g transform="rotate(180)"><ellipse cx="0.655" cy="0" rx="0.04" ry="0.028" fill="#f4caa0"/></g><g transform="rotate(202.5)"><ellipse cx="0.655" cy="0" rx="0.04" ry="0.028" fill="#f4caa0"/></g><g transform="rotate(225)"><ellipse cx="0.655" cy="0" rx="0.04" ry="0.028" fill="#f4caa0"/></g><g transform="rotate(247.5)"><ellipse cx="0.655" cy="0" rx="0.04" ry="0.028" fill="#f4caa0"/></g><circle r="0.56" fill="#d4eaf8"/><g transform="rotate(-78.75)"><path d="M0.28 0Q0.435 0.135 0.59 0Q0.435 -0.135 0.28 0Z" fill="#2e64a4"/></g><g transform="rotate(-56.25)"><path d="M0.28 0Q0.435 0.135 0.59 0Q0.435 -0.135 0.28 0Z" fill="#2e64a4"/></g><g transform="rotate(-33.75)"><path d="M0.28 0Q0.435 0.135 0.59 0Q0.435 -0.135 0.28 0Z" fill="#2e64a4"/></g><g transform="rotate(-11.25)"><path d="M0.28 0Q0.435 0.135 0.59 0Q0.435 -0.135 0.28 0Z" fill="#2e64a4"/></g><g transform="rotate(11.25)"><path d="M0.28 0Q0.435 0.135 0.59 0Q0.435 -0.135 0.28 0Z" fill="#2e64a4"/></g><g transform="rotate(33.75)"><path d="M0.28 0Q0.435 0.135 0.59 0Q0.435 -0.135 0.28 0Z" fill="#2e64a4"/></g><g transform="rotate(56.25)"><path d="M0.28 0Q0.435 0.135 0.59 0Q0.435 -0.135 0.28 0Z" fill="#2e64a4"/></g><g transform="rotate(78.75)"><path d="M0.28 0Q0.435 0.135 0.59 0Q0.435 -0.135 0.28 0Z" fill="#2e64a4"/></g><g transform="rotate(101.25)"><path d="M0.28 0Q0.435 0.135 0.59 0Q0.435 -0.135 0.28 0Z" fill="#2e64a4"/></g><g transform="rotate(123.75)"><path d="M0.28 0Q0.435 0.135 0.59 0Q0.435 -0.135 0.28 0Z" fill="#2e64a4"/></g><g transform="rotate(146.25)"><path d="M0.28 0Q0.435 0.135 0.59 0Q0.435 -0.135 0.28 0Z" fill="#2e64a4"/></g><g transform="rotate(168.75)"><path d="M0.28 0Q0.435 0.135 0.59 0Q0.435 -0.135 0.28 0Z" fill="#2e64a4"/></g><g transform="rotate(191.25)"><path d="M0.28 0Q0.435 0.135 0.59 0Q0.435 -0.135 0.28 0Z" fill="#2e64a4"/></g><g transform="rotate(213.75)"><path d="M0.28 0Q0.435 0.135 0.59 0Q0.435 -0.135 0.28 0Z" fill="#2e64a4"/></g><g transform="rotate(236.25)"><path d="M0.28 0Q0.435 0.135 0.59 0Q0.435 -0.135 0.28 0Z" fill="#2e64a4"/></g><g transform="rotate(258.75)"><path d="M0.28 0Q0.435 0.135 0.59 0Q0.435 -0.135 0.28 0Z" fill="#2e64a4"/></g><g transform="rotate(-78.75)"><path d="M0.295 0Q0.435 0.118 0.575 0Q0.435 -0.118 0.295 0Z" fill="#6e8cc4"/></g><g transform="rotate(-56.25)"><path d="M0.295 0Q0.435 0.118 0.575 0Q0.435 -0.118 0.295 0Z" fill="#6e8cc4"/></g><g transform="rotate(-33.75)"><path d="M0.295 0Q0.435 0.118 0.575 0Q0.435 -0.118 0.295 0Z" fill="#6e8cc4"/></g><g transform="rotate(-11.25)"><path d="M0.295 0Q0.435 0.118 0.575 0Q0.435 -0.118 0.295 0Z" fill="#6e8cc4"/></g><g transform="rotate(11.25)"><path d="M0.295 0Q0.435 0.118 0.575 0Q0.435 -0.118 0.295 0Z" fill="#6e8cc4"/></g><g transform="rotate(33.75)"><path d="M0.295 0Q0.435 0.118 0.575 0Q0.435 -0.118 0.295 0Z" fill="#6e8cc4"/></g><g transform="rotate(56.25)"><path d="M0.295 0Q0.435 0.118 0.575 0Q0.435 -0.118 0.295 0Z" fill="#6e8cc4"/></g><g transform="rotate(78.75)"><path d="M0.295 0Q0.435 0.118 0.575 0Q0.435 -0.118 0.295 0Z" fill="#6e8cc4"/></g><g transform="rotate(101.25)"><path d="M0.295 0Q0.435 0.118 0.575 0Q0.435 -0.118 0.295 0Z" fill="#6e8cc4"/></g><g transform="rotate(123.75)"><path d="M0.295 0Q0.435 0.118 0.575 0Q0.435 -0.118 0.295 0Z" fill="#6e8cc4"/></g><g transform="rotate(146.25)"><path d="M0.295 0Q0.435 0.118 0.575 0Q0.435 -0.118 0.295 0Z" fill="#6e8cc4"/></g><g transform="rotate(168.75)"><path d="M0.295 0Q0.435 0.118 0.575 0Q0.435 -0.118 0.295 0Z" fill="#6e8cc4"/></g><g transform="rotate(191.25)"><path d="M0.295 0Q0.435 0.118 0.575 0Q0.435 -0.118 0.295 0Z" fill="#6e8cc4"/></g><g transform="rotate(213.75)"><path d="M0.295 0Q0.435 0.118 0.575 0Q0.435 -0.118 0.295 0Z" fill="#6e8cc4"/></g><g transform="rotate(236.25)"><path d="M0.295 0Q0.435 0.118 0.575 0Q0.435 -0.118 0.295 0Z" fill="#6e8cc4"/></g><g transform="rotate(258.75)"><path d="M0.295 0Q0.435 0.118 0.575 0Q0.435 -0.118 0.295 0Z" fill="#6e8cc4"/></g><g transform="rotate(-78.75)"><path d="M0.33 0Q0.43 0.05 0.53 0Q0.43 -0.05 0.33 0Z" fill="#9cb0da"/></g><g transform="rotate(-56.25)"><path d="M0.33 0Q0.43 0.05 0.53 0Q0.43 -0.05 0.33 0Z" fill="#9cb0da"/></g><g transform="rotate(-33.75)"><path d="M0.33 0Q0.43 0.05 0.53 0Q0.43 -0.05 0.33 0Z" fill="#9cb0da"/></g><g transform="rotate(-11.25)"><path d="M0.33 0Q0.43 0.05 0.53 0Q0.43 -0.05 0.33 0Z" fill="#9cb0da"/></g><g transform="rotate(11.25)"><path d="M0.33 0Q0.43 0.05 0.53 0Q0.43 -0.05 0.33 0Z" fill="#9cb0da"/></g><g transform="rotate(33.75)"><path d="M0.33 0Q0.43 0.05 0.53 0Q0.43 -0.05 0.33 0Z" fill="#9cb0da"/></g><g transform="rotate(56.25)"><path d="M0.33 0Q0.43 0.05 0.53 0Q0.43 -0.05 0.33 0Z" fill="#9cb0da"/></g><g transform="rotate(78.75)"><path d="M0.33 0Q0.43 0.05 0.53 0Q0.43 -0.05 0.33 0Z" fill="#9cb0da"/></g><g transform="rotate(101.25)"><path d="M0.33 0Q0.43 0.05 0.53 0Q0.43 -0.05 0.33 0Z" fill="#9cb0da"/></g><g transform="rotate(123.75)"><path d="M0.33 0Q0.43 0.05 0.53 0Q0.43 -0.05 0.33 0Z" fill="#9cb0da"/></g><g transform="rotate(146.25)"><path d="M0.33 0Q0.43 0.05 0.53 0Q0.43 -0.05 0.33 0Z" fill="#9cb0da"/></g><g transform="rotate(168.75)"><path d="M0.33 0Q0.43 0.05 0.53 0Q0.43 -0.05 0.33 0Z" fill="#9cb0da"/></g><g transform="rotate(191.25)"><path d="M0.33 0Q0.43 0.05 0.53 0Q0.43 -0.05 0.33 0Z" fill="#9cb0da"/></g><g transform="rotate(213.75)"><path d="M0.33 0Q0.43 0.05 0.53 0Q0.43 -0.05 0.33 0Z" fill="#9cb0da"/></g><g transform="rotate(236.25)"><path d="M0.33 0Q0.43 0.05 0.53 0Q0.43 -0.05 0.33 0Z" fill="#9cb0da"/></g><g transform="rotate(258.75)"><path d="M0.33 0Q0.43 0.05 0.53 0Q0.43 -0.05 0.33 0Z" fill="#9cb0da"/></g><circle r="0.315" fill="#e8f4fc"/><circle r="0.27" fill="none" stroke="#c04a38" stroke-width="0.085"/><circle cx="0" cy="-0.285" r="0.028" fill="#e88a70"/><circle cx="0.074" cy="-0.275" r="0.028" fill="#e88a70"/><circle cx="0.143" cy="-0.247" r="0.028" fill="#e88a70"/><circle cx="0.202" cy="-0.202" r="0.028" fill="#e88a70"/><circle cx="0.247" cy="-0.142" r="0.028" fill="#e88a70"/><circle cx="0.275" cy="-0.074" r="0.028" fill="#e88a70"/><circle cx="0.285" cy="0" r="0.028" fill="#e88a70"/><circle cx="0.275" cy="0.074" r="0.028" fill="#e88a70"/><circle cx="0.247" cy="0.142" r="0.028" fill="#e88a70"/><circle cx="0.202" cy="0.202" r="0.028" fill="#e88a70"/><circle cx="0.143" cy="0.247" r="0.028" fill="#e88a70"/><circle cx="0.074" cy="0.275" r="0.028" fill="#e88a70"/><circle cx="0" cy="0.285" r="0.028" fill="#e88a70"/><circle cx="-0.074" cy="0.275" r="0.028" fill="#e88a70"/><circle cx="-0.142" cy="0.247" r="0.028" fill="#e88a70"/><circle cx="-0.202" cy="0.202" r="0.028" fill="#e88a70"/><circle cx="-0.247" cy="0.142" r="0.028" fill="#e88a70"/><circle cx="-0.275" cy="0.074" r="0.028" fill="#e88a70"/><circle cx="-0.285" cy="0" r="0.028" fill="#e88a70"/><circle cx="-0.275" cy="-0.074" r="0.028" fill="#e88a70"/><circle cx="-0.247" cy="-0.143" r="0.028" fill="#e88a70"/><circle cx="-0.202" cy="-0.202" r="0.028" fill="#e88a70"/><circle cx="-0.143" cy="-0.247" r="0.028" fill="#e88a70"/><circle cx="-0.074" cy="-0.275" r="0.028" fill="#e88a70"/><circle cx="0.033" cy="-0.253" r="0.022" fill="#f0b8a0"/><circle cx="0.098" cy="-0.236" r="0.022" fill="#f0b8a0"/><circle cx="0.155" cy="-0.202" r="0.022" fill="#f0b8a0"/><circle cx="0.202" cy="-0.155" r="0.022" fill="#f0b8a0"/><circle cx="0.236" cy="-0.098" r="0.022" fill="#f0b8a0"/><circle cx="0.253" cy="-0.033" r="0.022" fill="#f0b8a0"/><circle cx="0.253" cy="0.033" r="0.022" fill="#f0b8a0"/><circle cx="0.236" cy="0.098" r="0.022" fill="#f0b8a0"/><circle cx="0.202" cy="0.155" r="0.022" fill="#f0b8a0"/><circle cx="0.155" cy="0.202" r="0.022" fill="#f0b8a0"/><circle cx="0.098" cy="0.236" r="0.022" fill="#f0b8a0"/><circle cx="0.033" cy="0.253" r="0.022" fill="#f0b8a0"/><circle cx="-0.033" cy="0.253" r="0.022" fill="#f0b8a0"/><circle cx="-0.098" cy="0.236" r="0.022" fill="#f0b8a0"/><circle cx="-0.155" cy="0.202" r="0.022" fill="#f0b8a0"/><circle cx="-0.202" cy="0.155" r="0.022" fill="#f0b8a0"/><circle cx="-0.236" cy="0.098" r="0.022" fill="#f0b8a0"/><circle cx="-0.253" cy="0.033" r="0.022" fill="#f0b8a0"/><circle cx="-0.253" cy="-0.033" r="0.022" fill="#f0b8a0"/><circle cx="-0.236" cy="-0.098" r="0.022" fill="#f0b8a0"/><circle cx="-0.202" cy="-0.155" r="0.022" fill="#f0b8a0"/><circle cx="-0.155" cy="-0.202" r="0.022" fill="#f0b8a0"/><circle cx="-0.098" cy="-0.236" r="0.022" fill="#f0b8a0"/><circle cx="-0.033" cy="-0.253" r="0.022" fill="#f0b8a0"/><circle r="0.225" fill="#f6fbff"/><g transform="rotate(-90)"><path d="M0.07 0Q0.14 0.02 0.21 0Q0.14 -0.02 0.07 0Z" fill="#9ccce8"/></g><g transform="rotate(-67.5)"><path d="M0.07 0Q0.14 0.02 0.21 0Q0.14 -0.02 0.07 0Z" fill="#9ccce8"/></g><g transform="rotate(-45)"><path d="M0.07 0Q0.14 0.02 0.21 0Q0.14 -0.02 0.07 0Z" fill="#9ccce8"/></g><g transform="rotate(-22.5)"><path d="M0.07 0Q0.14 0.02 0.21 0Q0.14 -0.02 0.07 0Z" fill="#9ccce8"/></g><g transform="rotate(0)"><path d="M0.07 0Q0.14 0.02 0.21 0Q0.14 -0.02 0.07 0Z" fill="#9ccce8"/></g><g transform="rotate(22.5)"><path d="M0.07 0Q0.14 0.02 0.21 0Q0.14 -0.02 0.07 0Z" fill="#9ccce8"/></g><g transform="rotate(45)"><path d="M0.07 0Q0.14 0.02 0.21 0Q0.14 -0.02 0.07 0Z" fill="#9ccce8"/></g><g transform="rotate(67.5)"><path d="M0.07 0Q0.14 0.02 0.21 0Q0.14 -0.02 0.07 0Z" fill="#9ccce8"/></g><g transform="rotate(90)"><path d="M0.07 0Q0.14 0.02 0.21 0Q0.14 -0.02 0.07 0Z" fill="#9ccce8"/></g><g transform="rotate(112.5)"><path d="M0.07 0Q0.14 0.02 0.21 0Q0.14 -0.02 0.07 0Z" fill="#9ccce8"/></g><g transform="rotate(135)"><path d="M0.07 0Q0.14 0.02 0.21 0Q0.14 -0.02 0.07 0Z" fill="#9ccce8"/></g><g transform="rotate(157.5)"><path d="M0.07 0Q0.14 0.02 0.21 0Q0.14 -0.02 0.07 0Z" fill="#9ccce8"/></g><g transform="rotate(180)"><path d="M0.07 0Q0.14 0.02 0.21 0Q0.14 -0.02 0.07 0Z" fill="#9ccce8"/></g><g transform="rotate(202.5)"><path d="M0.07 0Q0.14 0.02 0.21 0Q0.14 -0.02 0.07 0Z" fill="#9ccce8"/></g><g transform="rotate(225)"><path d="M0.07 0Q0.14 0.02 0.21 0Q0.14 -0.02 0.07 0Z" fill="#9ccce8"/></g><g transform="rotate(247.5)"><path d="M0.07 0Q0.14 0.02 0.21 0Q0.14 -0.02 0.07 0Z" fill="#9ccce8"/></g><circle r="0.075" fill="#3a9cc0"/><circle r="0.055" fill="#20b0d0"/></symbol><symbol id="mB" viewBox="-1 -1 2 2" overflow="hidden"><rect x="-1.5" y="-1.5" width="3" height="3" fill="#0c1030"/><g transform="rotate(-75)"><ellipse cx="1.1" cy="0" rx="0.24" ry="0.19" fill="#14607a"/></g><g transform="rotate(-45)"><ellipse cx="1.1" cy="0" rx="0.24" ry="0.19" fill="#14607a"/></g><g transform="rotate(-15)"><ellipse cx="1.1" cy="0" rx="0.24" ry="0.19" fill="#14607a"/></g><g transform="rotate(15)"><ellipse cx="1.1" cy="0" rx="0.24" ry="0.19" fill="#14607a"/></g><g transform="rotate(45)"><ellipse cx="1.1" cy="0" rx="0.24" ry="0.19" fill="#14607a"/></g><g transform="rotate(75)"><ellipse cx="1.1" cy="0" rx="0.24" ry="0.19" fill="#14607a"/></g><g transform="rotate(105)"><ellipse cx="1.1" cy="0" rx="0.24" ry="0.19" fill="#14607a"/></g><g transform="rotate(135)"><ellipse cx="1.1" cy="0" rx="0.24" ry="0.19" fill="#14607a"/></g><g transform="rotate(165)"><ellipse cx="1.1" cy="0" rx="0.24" ry="0.19" fill="#14607a"/></g><g transform="rotate(195)"><ellipse cx="1.1" cy="0" rx="0.24" ry="0.19" fill="#14607a"/></g><g transform="rotate(225)"><ellipse cx="1.1" cy="0" rx="0.24" ry="0.19" fill="#14607a"/></g><g transform="rotate(255)"><ellipse cx="1.1" cy="0" rx="0.24" ry="0.19" fill="#14607a"/></g><g transform="rotate(-75)"><ellipse cx="1.02" cy="0" rx="0.07" ry="0.05" fill="#2aa8c4"/></g><g transform="rotate(-45)"><ellipse cx="1.02" cy="0" rx="0.07" ry="0.05" fill="#2aa8c4"/></g><g transform="rotate(-15)"><ellipse cx="1.02" cy="0" rx="0.07" ry="0.05" fill="#2aa8c4"/></g><g transform="rotate(15)"><ellipse cx="1.02" cy="0" rx="0.07" ry="0.05" fill="#2aa8c4"/></g><g transform="rotate(45)"><ellipse cx="1.02" cy="0" rx="0.07" ry="0.05" fill="#2aa8c4"/></g><g transform="rotate(75)"><ellipse cx="1.02" cy="0" rx="0.07" ry="0.05" fill="#2aa8c4"/></g><g transform="rotate(105)"><ellipse cx="1.02" cy="0" rx="0.07" ry="0.05" fill="#2aa8c4"/></g><g transform="rotate(135)"><ellipse cx="1.02" cy="0" rx="0.07" ry="0.05" fill="#2aa8c4"/></g><g transform="rotate(165)"><ellipse cx="1.02" cy="0" rx="0.07" ry="0.05" fill="#2aa8c4"/></g><g transform="rotate(195)"><ellipse cx="1.02" cy="0" rx="0.07" ry="0.05" fill="#2aa8c4"/></g><g transform="rotate(225)"><ellipse cx="1.02" cy="0" rx="0.07" ry="0.05" fill="#2aa8c4"/></g><g transform="rotate(255)"><ellipse cx="1.02" cy="0" rx="0.07" ry="0.05" fill="#2aa8c4"/></g><g transform="rotate(-75)"><ellipse cx="1.2" cy="0" rx="0.06" ry="0.05" fill="#2aa8c4"/></g><g transform="rotate(-45)"><ellipse cx="1.2" cy="0" rx="0.06" ry="0.05" fill="#2aa8c4"/></g><g transform="rotate(-15)"><ellipse cx="1.2" cy="0" rx="0.06" ry="0.05" fill="#2aa8c4"/></g><g transform="rotate(15)"><ellipse cx="1.2" cy="0" rx="0.06" ry="0.05" fill="#2aa8c4"/></g><g transform="rotate(45)"><ellipse cx="1.2" cy="0" rx="0.06" ry="0.05" fill="#2aa8c4"/></g><g transform="rotate(75)"><ellipse cx="1.2" cy="0" rx="0.06" ry="0.05" fill="#2aa8c4"/></g><g transform="rotate(105)"><ellipse cx="1.2" cy="0" rx="0.06" ry="0.05" fill="#2aa8c4"/></g><g transform="rotate(135)"><ellipse cx="1.2" cy="0" rx="0.06" ry="0.05" fill="#2aa8c4"/></g><g transform="rotate(165)"><ellipse cx="1.2" cy="0" rx="0.06" ry="0.05" fill="#2aa8c4"/></g><g transform="rotate(195)"><ellipse cx="1.2" cy="0" rx="0.06" ry="0.05" fill="#2aa8c4"/></g><g transform="rotate(225)"><ellipse cx="1.2" cy="0" rx="0.06" ry="0.05" fill="#2aa8c4"/></g><g transform="rotate(255)"><ellipse cx="1.2" cy="0" rx="0.06" ry="0.05" fill="#2aa8c4"/></g><g transform="rotate(-90)"><polygon points="0.36,-0.19 1.5,-0.12 1.5,0.12 0.36,0.19" fill="#101c50"/></g><g transform="rotate(-60)"><polygon points="0.36,-0.19 1.5,-0.12 1.5,0.12 0.36,0.19" fill="#101c50"/></g><g transform="rotate(-30)"><polygon points="0.36,-0.19 1.5,-0.12 1.5,0.12 0.36,0.19" fill="#101c50"/></g><g transform="rotate(0)"><polygon points="0.36,-0.19 1.5,-0.12 1.5,0.12 0.36,0.19" fill="#101c50"/></g><g transform="rotate(30)"><polygon points="0.36,-0.19 1.5,-0.12 1.5,0.12 0.36,0.19" fill="#101c50"/></g><g transform="rotate(60)"><polygon points="0.36,-0.19 1.5,-0.12 1.5,0.12 0.36,0.19" fill="#101c50"/></g><g transform="rotate(90)"><polygon points="0.36,-0.19 1.5,-0.12 1.5,0.12 0.36,0.19" fill="#101c50"/></g><g transform="rotate(120)"><polygon points="0.36,-0.19 1.5,-0.12 1.5,0.12 0.36,0.19" fill="#101c50"/></g><g transform="rotate(150)"><polygon points="0.36,-0.19 1.5,-0.12 1.5,0.12 0.36,0.19" fill="#101c50"/></g><g transform="rotate(180)"><polygon points="0.36,-0.19 1.5,-0.12 1.5,0.12 0.36,0.19" fill="#101c50"/></g><g transform="rotate(210)"><polygon points="0.36,-0.19 1.5,-0.12 1.5,0.12 0.36,0.19" fill="#101c50"/></g><g transform="rotate(240)"><polygon points="0.36,-0.19 1.5,-0.12 1.5,0.12 0.36,0.19" fill="#101c50"/></g><g transform="rotate(-90)"><polygon points="0.36,-0.175 1.5,-0.11 1.5,0.11 0.36,0.175" fill="url(#gBgreen)"/></g><g transform="rotate(-60)"><polygon points="0.36,-0.175 1.5,-0.11 1.5,0.11 0.36,0.175" fill="url(#gBgreen)"/></g><g transform="rotate(-30)"><polygon points="0.36,-0.175 1.5,-0.11 1.5,0.11 0.36,0.175" fill="url(#gBgreen)"/></g><g transform="rotate(0)"><polygon points="0.36,-0.175 1.5,-0.11 1.5,0.11 0.36,0.175" fill="url(#gBgreen)"/></g><g transform="rotate(30)"><polygon points="0.36,-0.175 1.5,-0.11 1.5,0.11 0.36,0.175" fill="url(#gBgreen)"/></g><g transform="rotate(60)"><polygon points="0.36,-0.175 1.5,-0.11 1.5,0.11 0.36,0.175" fill="url(#gBgreen)"/></g><g transform="rotate(90)"><polygon points="0.36,-0.175 1.5,-0.11 1.5,0.11 0.36,0.175" fill="url(#gBgreen)"/></g><g transform="rotate(120)"><polygon points="0.36,-0.175 1.5,-0.11 1.5,0.11 0.36,0.175" fill="url(#gBgreen)"/></g><g transform="rotate(150)"><polygon points="0.36,-0.175 1.5,-0.11 1.5,0.11 0.36,0.175" fill="url(#gBgreen)"/></g><g transform="rotate(180)"><polygon points="0.36,-0.175 1.5,-0.11 1.5,0.11 0.36,0.175" fill="url(#gBgreen)"/></g><g transform="rotate(210)"><polygon points="0.36,-0.175 1.5,-0.11 1.5,0.11 0.36,0.175" fill="url(#gBgreen)"/></g><g transform="rotate(240)"><polygon points="0.36,-0.175 1.5,-0.11 1.5,0.11 0.36,0.175" fill="url(#gBgreen)"/></g><g transform="rotate(-90)"><polygon points="0.36,-0.155 1.5,-0.09 1.5,0.09 0.36,0.155" fill="url(#gBcyan)"/></g><g transform="rotate(-60)"><polygon points="0.36,-0.155 1.5,-0.09 1.5,0.09 0.36,0.155" fill="url(#gBcyan)"/></g><g transform="rotate(-30)"><polygon points="0.36,-0.155 1.5,-0.09 1.5,0.09 0.36,0.155" fill="url(#gBcyan)"/></g><g transform="rotate(0)"><polygon points="0.36,-0.155 1.5,-0.09 1.5,0.09 0.36,0.155" fill="url(#gBcyan)"/></g><g transform="rotate(30)"><polygon points="0.36,-0.155 1.5,-0.09 1.5,0.09 0.36,0.155" fill="url(#gBcyan)"/></g><g transform="rotate(60)"><polygon points="0.36,-0.155 1.5,-0.09 1.5,0.09 0.36,0.155" fill="url(#gBcyan)"/></g><g transform="rotate(90)"><polygon points="0.36,-0.155 1.5,-0.09 1.5,0.09 0.36,0.155" fill="url(#gBcyan)"/></g><g transform="rotate(120)"><polygon points="0.36,-0.155 1.5,-0.09 1.5,0.09 0.36,0.155" fill="url(#gBcyan)"/></g><g transform="rotate(150)"><polygon points="0.36,-0.155 1.5,-0.09 1.5,0.09 0.36,0.155" fill="url(#gBcyan)"/></g><g transform="rotate(180)"><polygon points="0.36,-0.155 1.5,-0.09 1.5,0.09 0.36,0.155" fill="url(#gBcyan)"/></g><g transform="rotate(210)"><polygon points="0.36,-0.155 1.5,-0.09 1.5,0.09 0.36,0.155" fill="url(#gBcyan)"/></g><g transform="rotate(240)"><polygon points="0.36,-0.155 1.5,-0.09 1.5,0.09 0.36,0.155" fill="url(#gBcyan)"/></g><g transform="rotate(-90)"><polygon points="0.4,-0.125 1.5,-0.06 1.5,0.06 0.4,0.125" fill="url(#gBlight)"/></g><g transform="rotate(-60)"><polygon points="0.4,-0.125 1.5,-0.06 1.5,0.06 0.4,0.125" fill="url(#gBlight)"/></g><g transform="rotate(-30)"><polygon points="0.4,-0.125 1.5,-0.06 1.5,0.06 0.4,0.125" fill="url(#gBlight)"/></g><g transform="rotate(0)"><polygon points="0.4,-0.125 1.5,-0.06 1.5,0.06 0.4,0.125" fill="url(#gBlight)"/></g><g transform="rotate(30)"><polygon points="0.4,-0.125 1.5,-0.06 1.5,0.06 0.4,0.125" fill="url(#gBlight)"/></g><g transform="rotate(60)"><polygon points="0.4,-0.125 1.5,-0.06 1.5,0.06 0.4,0.125" fill="url(#gBlight)"/></g><g transform="rotate(90)"><polygon points="0.4,-0.125 1.5,-0.06 1.5,0.06 0.4,0.125" fill="url(#gBlight)"/></g><g transform="rotate(120)"><polygon points="0.4,-0.125 1.5,-0.06 1.5,0.06 0.4,0.125" fill="url(#gBlight)"/></g><g transform="rotate(150)"><polygon points="0.4,-0.125 1.5,-0.06 1.5,0.06 0.4,0.125" fill="url(#gBlight)"/></g><g transform="rotate(180)"><polygon points="0.4,-0.125 1.5,-0.06 1.5,0.06 0.4,0.125" fill="url(#gBlight)"/></g><g transform="rotate(210)"><polygon points="0.4,-0.125 1.5,-0.06 1.5,0.06 0.4,0.125" fill="url(#gBlight)"/></g><g transform="rotate(240)"><polygon points="0.4,-0.125 1.5,-0.06 1.5,0.06 0.4,0.125" fill="url(#gBlight)"/></g><g transform="rotate(-90)"><path d="M0.33 0Q0.715 0.095 1.1 0Q0.715 -0.095 0.33 0Z" fill="#1a2450"/></g><g transform="rotate(-60)"><path d="M0.33 0Q0.715 0.095 1.1 0Q0.715 -0.095 0.33 0Z" fill="#1a2450"/></g><g transform="rotate(-30)"><path d="M0.33 0Q0.715 0.095 1.1 0Q0.715 -0.095 0.33 0Z" fill="#1a2450"/></g><g transform="rotate(0)"><path d="M0.33 0Q0.715 0.095 1.1 0Q0.715 -0.095 0.33 0Z" fill="#1a2450"/></g><g transform="rotate(30)"><path d="M0.33 0Q0.715 0.095 1.1 0Q0.715 -0.095 0.33 0Z" fill="#1a2450"/></g><g transform="rotate(60)"><path d="M0.33 0Q0.715 0.095 1.1 0Q0.715 -0.095 0.33 0Z" fill="#1a2450"/></g><g transform="rotate(90)"><path d="M0.33 0Q0.715 0.095 1.1 0Q0.715 -0.095 0.33 0Z" fill="#1a2450"/></g><g transform="rotate(120)"><path d="M0.33 0Q0.715 0.095 1.1 0Q0.715 -0.095 0.33 0Z" fill="#1a2450"/></g><g transform="rotate(150)"><path d="M0.33 0Q0.715 0.095 1.1 0Q0.715 -0.095 0.33 0Z" fill="#1a2450"/></g><g transform="rotate(180)"><path d="M0.33 0Q0.715 0.095 1.1 0Q0.715 -0.095 0.33 0Z" fill="#1a2450"/></g><g transform="rotate(210)"><path d="M0.33 0Q0.715 0.095 1.1 0Q0.715 -0.095 0.33 0Z" fill="#1a2450"/></g><g transform="rotate(240)"><path d="M0.33 0Q0.715 0.095 1.1 0Q0.715 -0.095 0.33 0Z" fill="#1a2450"/></g><g transform="rotate(-90)"><path d="M0.34 0Q0.715 0.083 1.09 0Q0.715 -0.083 0.34 0Z" fill="#a888c0"/></g><g transform="rotate(-60)"><path d="M0.34 0Q0.715 0.083 1.09 0Q0.715 -0.083 0.34 0Z" fill="#a888c0"/></g><g transform="rotate(-30)"><path d="M0.34 0Q0.715 0.083 1.09 0Q0.715 -0.083 0.34 0Z" fill="#a888c0"/></g><g transform="rotate(0)"><path d="M0.34 0Q0.715 0.083 1.09 0Q0.715 -0.083 0.34 0Z" fill="#a888c0"/></g><g transform="rotate(30)"><path d="M0.34 0Q0.715 0.083 1.09 0Q0.715 -0.083 0.34 0Z" fill="#a888c0"/></g><g transform="rotate(60)"><path d="M0.34 0Q0.715 0.083 1.09 0Q0.715 -0.083 0.34 0Z" fill="#a888c0"/></g><g transform="rotate(90)"><path d="M0.34 0Q0.715 0.083 1.09 0Q0.715 -0.083 0.34 0Z" fill="#a888c0"/></g><g transform="rotate(120)"><path d="M0.34 0Q0.715 0.083 1.09 0Q0.715 -0.083 0.34 0Z" fill="#a888c0"/></g><g transform="rotate(150)"><path d="M0.34 0Q0.715 0.083 1.09 0Q0.715 -0.083 0.34 0Z" fill="#a888c0"/></g><g transform="rotate(180)"><path d="M0.34 0Q0.715 0.083 1.09 0Q0.715 -0.083 0.34 0Z" fill="#a888c0"/></g><g transform="rotate(210)"><path d="M0.34 0Q0.715 0.083 1.09 0Q0.715 -0.083 0.34 0Z" fill="#a888c0"/></g><g transform="rotate(240)"><path d="M0.34 0Q0.715 0.083 1.09 0Q0.715 -0.083 0.34 0Z" fill="#a888c0"/></g><g transform="rotate(-90)"><path d="M0.35 0Q0.715 0.072 1.08 0Q0.715 -0.072 0.35 0Z" fill="#0a0a26"/></g><g transform="rotate(-60)"><path d="M0.35 0Q0.715 0.072 1.08 0Q0.715 -0.072 0.35 0Z" fill="#0a0a26"/></g><g transform="rotate(-30)"><path d="M0.35 0Q0.715 0.072 1.08 0Q0.715 -0.072 0.35 0Z" fill="#0a0a26"/></g><g transform="rotate(0)"><path d="M0.35 0Q0.715 0.072 1.08 0Q0.715 -0.072 0.35 0Z" fill="#0a0a26"/></g><g transform="rotate(30)"><path d="M0.35 0Q0.715 0.072 1.08 0Q0.715 -0.072 0.35 0Z" fill="#0a0a26"/></g><g transform="rotate(60)"><path d="M0.35 0Q0.715 0.072 1.08 0Q0.715 -0.072 0.35 0Z" fill="#0a0a26"/></g><g transform="rotate(90)"><path d="M0.35 0Q0.715 0.072 1.08 0Q0.715 -0.072 0.35 0Z" fill="#0a0a26"/></g><g transform="rotate(120)"><path d="M0.35 0Q0.715 0.072 1.08 0Q0.715 -0.072 0.35 0Z" fill="#0a0a26"/></g><g transform="rotate(150)"><path d="M0.35 0Q0.715 0.072 1.08 0Q0.715 -0.072 0.35 0Z" fill="#0a0a26"/></g><g transform="rotate(180)"><path d="M0.35 0Q0.715 0.072 1.08 0Q0.715 -0.072 0.35 0Z" fill="#0a0a26"/></g><g transform="rotate(210)"><path d="M0.35 0Q0.715 0.072 1.08 0Q0.715 -0.072 0.35 0Z" fill="#0a0a26"/></g><g transform="rotate(240)"><path d="M0.35 0Q0.715 0.072 1.08 0Q0.715 -0.072 0.35 0Z" fill="#0a0a26"/></g><g transform="rotate(-75)"><path d="M0.58 -0.13 L0.475 -0.13 A0.13 0.13 0 0 0 0.475 0.13 L0.58 0.13 Z" fill="#a888c8"/></g><g transform="rotate(-45)"><path d="M0.58 -0.13 L0.475 -0.13 A0.13 0.13 0 0 0 0.475 0.13 L0.58 0.13 Z" fill="#a888c8"/></g><g transform="rotate(-15)"><path d="M0.58 -0.13 L0.475 -0.13 A0.13 0.13 0 0 0 0.475 0.13 L0.58 0.13 Z" fill="#a888c8"/></g><g transform="rotate(15)"><path d="M0.58 -0.13 L0.475 -0.13 A0.13 0.13 0 0 0 0.475 0.13 L0.58 0.13 Z" fill="#a888c8"/></g><g transform="rotate(45)"><path d="M0.58 -0.13 L0.475 -0.13 A0.13 0.13 0 0 0 0.475 0.13 L0.58 0.13 Z" fill="#a888c8"/></g><g transform="rotate(75)"><path d="M0.58 -0.13 L0.475 -0.13 A0.13 0.13 0 0 0 0.475 0.13 L0.58 0.13 Z" fill="#a888c8"/></g><g transform="rotate(105)"><path d="M0.58 -0.13 L0.475 -0.13 A0.13 0.13 0 0 0 0.475 0.13 L0.58 0.13 Z" fill="#a888c8"/></g><g transform="rotate(135)"><path d="M0.58 -0.13 L0.475 -0.13 A0.13 0.13 0 0 0 0.475 0.13 L0.58 0.13 Z" fill="#a888c8"/></g><g transform="rotate(165)"><path d="M0.58 -0.13 L0.475 -0.13 A0.13 0.13 0 0 0 0.475 0.13 L0.58 0.13 Z" fill="#a888c8"/></g><g transform="rotate(195)"><path d="M0.58 -0.13 L0.475 -0.13 A0.13 0.13 0 0 0 0.475 0.13 L0.58 0.13 Z" fill="#a888c8"/></g><g transform="rotate(225)"><path d="M0.58 -0.13 L0.475 -0.13 A0.13 0.13 0 0 0 0.475 0.13 L0.58 0.13 Z" fill="#a888c8"/></g><g transform="rotate(255)"><path d="M0.58 -0.13 L0.475 -0.13 A0.13 0.13 0 0 0 0.475 0.13 L0.58 0.13 Z" fill="#a888c8"/></g><g transform="rotate(-75)"><path d="M0.58 -0.118 L0.478 -0.118 A0.118 0.118 0 0 0 0.478 0.118 L0.58 0.118 Z" fill="#1fbf9c"/></g><g transform="rotate(-45)"><path d="M0.58 -0.118 L0.478 -0.118 A0.118 0.118 0 0 0 0.478 0.118 L0.58 0.118 Z" fill="#1fbf9c"/></g><g transform="rotate(-15)"><path d="M0.58 -0.118 L0.478 -0.118 A0.118 0.118 0 0 0 0.478 0.118 L0.58 0.118 Z" fill="#1fbf9c"/></g><g transform="rotate(15)"><path d="M0.58 -0.118 L0.478 -0.118 A0.118 0.118 0 0 0 0.478 0.118 L0.58 0.118 Z" fill="#1fbf9c"/></g><g transform="rotate(45)"><path d="M0.58 -0.118 L0.478 -0.118 A0.118 0.118 0 0 0 0.478 0.118 L0.58 0.118 Z" fill="#1fbf9c"/></g><g transform="rotate(75)"><path d="M0.58 -0.118 L0.478 -0.118 A0.118 0.118 0 0 0 0.478 0.118 L0.58 0.118 Z" fill="#1fbf9c"/></g><g transform="rotate(105)"><path d="M0.58 -0.118 L0.478 -0.118 A0.118 0.118 0 0 0 0.478 0.118 L0.58 0.118 Z" fill="#1fbf9c"/></g><g transform="rotate(135)"><path d="M0.58 -0.118 L0.478 -0.118 A0.118 0.118 0 0 0 0.478 0.118 L0.58 0.118 Z" fill="#1fbf9c"/></g><g transform="rotate(165)"><path d="M0.58 -0.118 L0.478 -0.118 A0.118 0.118 0 0 0 0.478 0.118 L0.58 0.118 Z" fill="#1fbf9c"/></g><g transform="rotate(195)"><path d="M0.58 -0.118 L0.478 -0.118 A0.118 0.118 0 0 0 0.478 0.118 L0.58 0.118 Z" fill="#1fbf9c"/></g><g transform="rotate(225)"><path d="M0.58 -0.118 L0.478 -0.118 A0.118 0.118 0 0 0 0.478 0.118 L0.58 0.118 Z" fill="#1fbf9c"/></g><g transform="rotate(255)"><path d="M0.58 -0.118 L0.478 -0.118 A0.118 0.118 0 0 0 0.478 0.118 L0.58 0.118 Z" fill="#1fbf9c"/></g><g transform="rotate(-75)"><path d="M0.58 -0.105 L0.475 -0.105 A0.105 0.105 0 0 0 0.475 0.105 L0.58 0.105 Z" fill="#2ed0d8"/></g><g transform="rotate(-45)"><path d="M0.58 -0.105 L0.475 -0.105 A0.105 0.105 0 0 0 0.475 0.105 L0.58 0.105 Z" fill="#2ed0d8"/></g><g transform="rotate(-15)"><path d="M0.58 -0.105 L0.475 -0.105 A0.105 0.105 0 0 0 0.475 0.105 L0.58 0.105 Z" fill="#2ed0d8"/></g><g transform="rotate(15)"><path d="M0.58 -0.105 L0.475 -0.105 A0.105 0.105 0 0 0 0.475 0.105 L0.58 0.105 Z" fill="#2ed0d8"/></g><g transform="rotate(45)"><path d="M0.58 -0.105 L0.475 -0.105 A0.105 0.105 0 0 0 0.475 0.105 L0.58 0.105 Z" fill="#2ed0d8"/></g><g transform="rotate(75)"><path d="M0.58 -0.105 L0.475 -0.105 A0.105 0.105 0 0 0 0.475 0.105 L0.58 0.105 Z" fill="#2ed0d8"/></g><g transform="rotate(105)"><path d="M0.58 -0.105 L0.475 -0.105 A0.105 0.105 0 0 0 0.475 0.105 L0.58 0.105 Z" fill="#2ed0d8"/></g><g transform="rotate(135)"><path d="M0.58 -0.105 L0.475 -0.105 A0.105 0.105 0 0 0 0.475 0.105 L0.58 0.105 Z" fill="#2ed0d8"/></g><g transform="rotate(165)"><path d="M0.58 -0.105 L0.475 -0.105 A0.105 0.105 0 0 0 0.475 0.105 L0.58 0.105 Z" fill="#2ed0d8"/></g><g transform="rotate(195)"><path d="M0.58 -0.105 L0.475 -0.105 A0.105 0.105 0 0 0 0.475 0.105 L0.58 0.105 Z" fill="#2ed0d8"/></g><g transform="rotate(225)"><path d="M0.58 -0.105 L0.475 -0.105 A0.105 0.105 0 0 0 0.475 0.105 L0.58 0.105 Z" fill="#2ed0d8"/></g><g transform="rotate(255)"><path d="M0.58 -0.105 L0.475 -0.105 A0.105 0.105 0 0 0 0.475 0.105 L0.58 0.105 Z" fill="#2ed0d8"/></g><g transform="rotate(-75)"><path d="M0.6 -0.07 L0.47 -0.07 A0.07 0.07 0 0 0 0.47 0.07 L0.6 0.07 Z" fill="#a8f4f4"/></g><g transform="rotate(-45)"><path d="M0.6 -0.07 L0.47 -0.07 A0.07 0.07 0 0 0 0.47 0.07 L0.6 0.07 Z" fill="#a8f4f4"/></g><g transform="rotate(-15)"><path d="M0.6 -0.07 L0.47 -0.07 A0.07 0.07 0 0 0 0.47 0.07 L0.6 0.07 Z" fill="#a8f4f4"/></g><g transform="rotate(15)"><path d="M0.6 -0.07 L0.47 -0.07 A0.07 0.07 0 0 0 0.47 0.07 L0.6 0.07 Z" fill="#a8f4f4"/></g><g transform="rotate(45)"><path d="M0.6 -0.07 L0.47 -0.07 A0.07 0.07 0 0 0 0.47 0.07 L0.6 0.07 Z" fill="#a8f4f4"/></g><g transform="rotate(75)"><path d="M0.6 -0.07 L0.47 -0.07 A0.07 0.07 0 0 0 0.47 0.07 L0.6 0.07 Z" fill="#a8f4f4"/></g><g transform="rotate(105)"><path d="M0.6 -0.07 L0.47 -0.07 A0.07 0.07 0 0 0 0.47 0.07 L0.6 0.07 Z" fill="#a8f4f4"/></g><g transform="rotate(135)"><path d="M0.6 -0.07 L0.47 -0.07 A0.07 0.07 0 0 0 0.47 0.07 L0.6 0.07 Z" fill="#a8f4f4"/></g><g transform="rotate(165)"><path d="M0.6 -0.07 L0.47 -0.07 A0.07 0.07 0 0 0 0.47 0.07 L0.6 0.07 Z" fill="#a8f4f4"/></g><g transform="rotate(195)"><path d="M0.6 -0.07 L0.47 -0.07 A0.07 0.07 0 0 0 0.47 0.07 L0.6 0.07 Z" fill="#a8f4f4"/></g><g transform="rotate(225)"><path d="M0.6 -0.07 L0.47 -0.07 A0.07 0.07 0 0 0 0.47 0.07 L0.6 0.07 Z" fill="#a8f4f4"/></g><g transform="rotate(255)"><path d="M0.6 -0.07 L0.47 -0.07 A0.07 0.07 0 0 0 0.47 0.07 L0.6 0.07 Z" fill="#a8f4f4"/></g><g transform="rotate(-75)"><polygon points="0.57,0 0.74,0.14 0.91,0 0.74,-0.14" fill="#f6f4fa"/></g><g transform="rotate(-45)"><polygon points="0.57,0 0.74,0.14 0.91,0 0.74,-0.14" fill="#f6f4fa"/></g><g transform="rotate(-15)"><polygon points="0.57,0 0.74,0.14 0.91,0 0.74,-0.14" fill="#f6f4fa"/></g><g transform="rotate(15)"><polygon points="0.57,0 0.74,0.14 0.91,0 0.74,-0.14" fill="#f6f4fa"/></g><g transform="rotate(45)"><polygon points="0.57,0 0.74,0.14 0.91,0 0.74,-0.14" fill="#f6f4fa"/></g><g transform="rotate(75)"><polygon points="0.57,0 0.74,0.14 0.91,0 0.74,-0.14" fill="#f6f4fa"/></g><g transform="rotate(105)"><polygon points="0.57,0 0.74,0.14 0.91,0 0.74,-0.14" fill="#f6f4fa"/></g><g transform="rotate(135)"><polygon points="0.57,0 0.74,0.14 0.91,0 0.74,-0.14" fill="#f6f4fa"/></g><g transform="rotate(165)"><polygon points="0.57,0 0.74,0.14 0.91,0 0.74,-0.14" fill="#f6f4fa"/></g><g transform="rotate(195)"><polygon points="0.57,0 0.74,0.14 0.91,0 0.74,-0.14" fill="#f6f4fa"/></g><g transform="rotate(225)"><polygon points="0.57,0 0.74,0.14 0.91,0 0.74,-0.14" fill="#f6f4fa"/></g><g transform="rotate(255)"><polygon points="0.57,0 0.74,0.14 0.91,0 0.74,-0.14" fill="#f6f4fa"/></g><g transform="rotate(-75)"><polygon points="1.1,0 1.27,0.16 1.44,0 1.27,-0.16" fill="#f6f4fa"/></g><g transform="rotate(-45)"><polygon points="1.1,0 1.27,0.16 1.44,0 1.27,-0.16" fill="#f6f4fa"/></g><g transform="rotate(-15)"><polygon points="1.1,0 1.27,0.16 1.44,0 1.27,-0.16" fill="#f6f4fa"/></g><g transform="rotate(15)"><polygon points="1.1,0 1.27,0.16 1.44,0 1.27,-0.16" fill="#f6f4fa"/></g><g transform="rotate(45)"><polygon points="1.1,0 1.27,0.16 1.44,0 1.27,-0.16" fill="#f6f4fa"/></g><g transform="rotate(75)"><polygon points="1.1,0 1.27,0.16 1.44,0 1.27,-0.16" fill="#f6f4fa"/></g><g transform="rotate(105)"><polygon points="1.1,0 1.27,0.16 1.44,0 1.27,-0.16" fill="#f6f4fa"/></g><g transform="rotate(135)"><polygon points="1.1,0 1.27,0.16 1.44,0 1.27,-0.16" fill="#f6f4fa"/></g><g transform="rotate(165)"><polygon points="1.1,0 1.27,0.16 1.44,0 1.27,-0.16" fill="#f6f4fa"/></g><g transform="rotate(195)"><polygon points="1.1,0 1.27,0.16 1.44,0 1.27,-0.16" fill="#f6f4fa"/></g><g transform="rotate(225)"><polygon points="1.1,0 1.27,0.16 1.44,0 1.27,-0.16" fill="#f6f4fa"/></g><g transform="rotate(255)"><polygon points="1.1,0 1.27,0.16 1.44,0 1.27,-0.16" fill="#f6f4fa"/></g><circle cx="0.192" cy="-0.715" r="0.035" fill="#eef070"/><circle cx="0.523" cy="-0.523" r="0.035" fill="#eef070"/><circle cx="0.715" cy="-0.192" r="0.035" fill="#eef070"/><circle cx="0.715" cy="0.192" r="0.035" fill="#eef070"/><circle cx="0.523" cy="0.523" r="0.035" fill="#eef070"/><circle cx="0.192" cy="0.715" r="0.035" fill="#eef070"/><circle cx="-0.192" cy="0.715" r="0.035" fill="#eef070"/><circle cx="-0.523" cy="0.523" r="0.035" fill="#eef070"/><circle cx="-0.715" cy="0.192" r="0.035" fill="#eef070"/><circle cx="-0.715" cy="-0.192" r="0.035" fill="#eef070"/><circle cx="-0.523" cy="-0.523" r="0.035" fill="#eef070"/><circle cx="-0.192" cy="-0.715" r="0.035" fill="#eef070"/><circle cx="0.329" cy="-1.227" r="0.035" fill="#eef070"/><circle cx="0.898" cy="-0.898" r="0.035" fill="#eef070"/><circle cx="1.227" cy="-0.329" r="0.035" fill="#eef070"/><circle cx="1.227" cy="0.329" r="0.035" fill="#eef070"/><circle cx="0.898" cy="0.898" r="0.035" fill="#eef070"/><circle cx="0.329" cy="1.227" r="0.035" fill="#eef070"/><circle cx="-0.329" cy="1.227" r="0.035" fill="#eef070"/><circle cx="-0.898" cy="0.898" r="0.035" fill="#eef070"/><circle cx="-1.227" cy="0.329" r="0.035" fill="#eef070"/><circle cx="-1.227" cy="-0.329" r="0.035" fill="#eef070"/><circle cx="-0.898" cy="-0.898" r="0.035" fill="#eef070"/><circle cx="-0.329" cy="-1.227" r="0.035" fill="#eef070"/><polygon points="0.104,-0.386 0.178,-0.307 0.283,-0.283 0.307,-0.177 0.386,-0.104 0.355,0 0.386,0.104 0.307,0.177 0.283,0.283 0.178,0.307 0.104,0.386 0,0.355 -0.104,0.386 -0.177,0.307 -0.283,0.283 -0.307,0.177 -0.386,0.104 -0.355,0 -0.386,-0.104 -0.307,-0.178 -0.283,-0.283 -0.178,-0.307 -0.104,-0.386 -0,-0.355" fill="#b8ec48"/><circle r="0.36" fill="#c4f050"/><circle r="0.335" fill="#06080a"/><polygon points="0.078,-0.29 0.135,-0.234 0.212,-0.212 0.234,-0.135 0.29,-0.078 0.27,0 0.29,0.078 0.234,0.135 0.212,0.212 0.135,0.234 0.078,0.29 0,0.27 -0.078,0.29 -0.135,0.234 -0.212,0.212 -0.234,0.135 -0.29,0.078 -0.27,0 -0.29,-0.078 -0.234,-0.135 -0.212,-0.212 -0.135,-0.234 -0.078,-0.29 -0,-0.27" fill="none" stroke="#d88a70" stroke-width="0.012"/><polygon points="0,-0.27 0.057,-0.213 0.135,-0.234 0.156,-0.156 0.234,-0.135 0.213,-0.057 0.27,0 0.213,0.057 0.234,0.135 0.156,0.156 0.135,0.234 0.057,0.213 0,0.27 -0.057,0.213 -0.135,0.234 -0.156,0.156 -0.234,0.135 -0.213,0.057 -0.27,0 -0.213,-0.057 -0.234,-0.135 -0.156,-0.156 -0.135,-0.234 -0.057,-0.213" fill="#3c5c34"/><g transform="rotate(-75)"><path d="M0.08 0Q0.165 0.07 0.25 0Q0.165 -0.07 0.08 0Z" fill="#5a7050"/></g><g transform="rotate(-45)"><path d="M0.08 0Q0.165 0.07 0.25 0Q0.165 -0.07 0.08 0Z" fill="#5a7050"/></g><g transform="rotate(-15)"><path d="M0.08 0Q0.165 0.07 0.25 0Q0.165 -0.07 0.08 0Z" fill="#5a7050"/></g><g transform="rotate(15)"><path d="M0.08 0Q0.165 0.07 0.25 0Q0.165 -0.07 0.08 0Z" fill="#5a7050"/></g><g transform="rotate(45)"><path d="M0.08 0Q0.165 0.07 0.25 0Q0.165 -0.07 0.08 0Z" fill="#5a7050"/></g><g transform="rotate(75)"><path d="M0.08 0Q0.165 0.07 0.25 0Q0.165 -0.07 0.08 0Z" fill="#5a7050"/></g><g transform="rotate(105)"><path d="M0.08 0Q0.165 0.07 0.25 0Q0.165 -0.07 0.08 0Z" fill="#5a7050"/></g><g transform="rotate(135)"><path d="M0.08 0Q0.165 0.07 0.25 0Q0.165 -0.07 0.08 0Z" fill="#5a7050"/></g><g transform="rotate(165)"><path d="M0.08 0Q0.165 0.07 0.25 0Q0.165 -0.07 0.08 0Z" fill="#5a7050"/></g><g transform="rotate(195)"><path d="M0.08 0Q0.165 0.07 0.25 0Q0.165 -0.07 0.08 0Z" fill="#5a7050"/></g><g transform="rotate(225)"><path d="M0.08 0Q0.165 0.07 0.25 0Q0.165 -0.07 0.08 0Z" fill="#5a7050"/></g><g transform="rotate(255)"><path d="M0.08 0Q0.165 0.07 0.25 0Q0.165 -0.07 0.08 0Z" fill="#5a7050"/></g><g transform="rotate(-90)"><path d="M0.04 0Q0.13 0.055 0.22 0Q0.13 -0.055 0.04 0Z" fill="#44e45a"/></g><g transform="rotate(-60)"><path d="M0.04 0Q0.13 0.055 0.22 0Q0.13 -0.055 0.04 0Z" fill="#44e45a"/></g><g transform="rotate(-30)"><path d="M0.04 0Q0.13 0.055 0.22 0Q0.13 -0.055 0.04 0Z" fill="#44e45a"/></g><g transform="rotate(0)"><path d="M0.04 0Q0.13 0.055 0.22 0Q0.13 -0.055 0.04 0Z" fill="#44e45a"/></g><g transform="rotate(30)"><path d="M0.04 0Q0.13 0.055 0.22 0Q0.13 -0.055 0.04 0Z" fill="#44e45a"/></g><g transform="rotate(60)"><path d="M0.04 0Q0.13 0.055 0.22 0Q0.13 -0.055 0.04 0Z" fill="#44e45a"/></g><g transform="rotate(90)"><path d="M0.04 0Q0.13 0.055 0.22 0Q0.13 -0.055 0.04 0Z" fill="#44e45a"/></g><g transform="rotate(120)"><path d="M0.04 0Q0.13 0.055 0.22 0Q0.13 -0.055 0.04 0Z" fill="#44e45a"/></g><g transform="rotate(150)"><path d="M0.04 0Q0.13 0.055 0.22 0Q0.13 -0.055 0.04 0Z" fill="#44e45a"/></g><g transform="rotate(180)"><path d="M0.04 0Q0.13 0.055 0.22 0Q0.13 -0.055 0.04 0Z" fill="#44e45a"/></g><g transform="rotate(210)"><path d="M0.04 0Q0.13 0.055 0.22 0Q0.13 -0.055 0.04 0Z" fill="#44e45a"/></g><g transform="rotate(240)"><path d="M0.04 0Q0.13 0.055 0.22 0Q0.13 -0.055 0.04 0Z" fill="#44e45a"/></g><circle r="0.07" fill="#7a48b0"/><g transform="rotate(-75)"><path d="M0 0Q0.06 0.015 0.12 0Q0.06 -0.015 0 0Z" fill="#a070d0"/></g><g transform="rotate(-45)"><path d="M0 0Q0.06 0.015 0.12 0Q0.06 -0.015 0 0Z" fill="#a070d0"/></g><g transform="rotate(-15)"><path d="M0 0Q0.06 0.015 0.12 0Q0.06 -0.015 0 0Z" fill="#a070d0"/></g><g transform="rotate(15)"><path d="M0 0Q0.06 0.015 0.12 0Q0.06 -0.015 0 0Z" fill="#a070d0"/></g><g transform="rotate(45)"><path d="M0 0Q0.06 0.015 0.12 0Q0.06 -0.015 0 0Z" fill="#a070d0"/></g><g transform="rotate(75)"><path d="M0 0Q0.06 0.015 0.12 0Q0.06 -0.015 0 0Z" fill="#a070d0"/></g><g transform="rotate(105)"><path d="M0 0Q0.06 0.015 0.12 0Q0.06 -0.015 0 0Z" fill="#a070d0"/></g><g transform="rotate(135)"><path d="M0 0Q0.06 0.015 0.12 0Q0.06 -0.015 0 0Z" fill="#a070d0"/></g><g transform="rotate(165)"><path d="M0 0Q0.06 0.015 0.12 0Q0.06 -0.015 0 0Z" fill="#a070d0"/></g><g transform="rotate(195)"><path d="M0 0Q0.06 0.015 0.12 0Q0.06 -0.015 0 0Z" fill="#a070d0"/></g><g transform="rotate(225)"><path d="M0 0Q0.06 0.015 0.12 0Q0.06 -0.015 0 0Z" fill="#a070d0"/></g><g transform="rotate(255)"><path d="M0 0Q0.06 0.015 0.12 0Q0.06 -0.015 0 0Z" fill="#a070d0"/></g></symbol><symbol id="mC" viewBox="-1 -1 2 2" overflow="hidden"><rect x="-1.5" y="-1.5" width="3" height="3" fill="#1c449e"/><g transform="rotate(-90)"><path d="M0.66 0Q0.855 0.075 1.05 0Q0.855 -0.075 0.66 0Z" fill="#e48a64"/></g><g transform="rotate(-67.5)"><path d="M0.66 0Q0.855 0.075 1.05 0Q0.855 -0.075 0.66 0Z" fill="#e48a64"/></g><g transform="rotate(-45)"><path d="M0.66 0Q0.855 0.075 1.05 0Q0.855 -0.075 0.66 0Z" fill="#e48a64"/></g><g transform="rotate(-22.5)"><path d="M0.66 0Q0.855 0.075 1.05 0Q0.855 -0.075 0.66 0Z" fill="#e48a64"/></g><g transform="rotate(0)"><path d="M0.66 0Q0.855 0.075 1.05 0Q0.855 -0.075 0.66 0Z" fill="#e48a64"/></g><g transform="rotate(22.5)"><path d="M0.66 0Q0.855 0.075 1.05 0Q0.855 -0.075 0.66 0Z" fill="#e48a64"/></g><g transform="rotate(45)"><path d="M0.66 0Q0.855 0.075 1.05 0Q0.855 -0.075 0.66 0Z" fill="#e48a64"/></g><g transform="rotate(67.5)"><path d="M0.66 0Q0.855 0.075 1.05 0Q0.855 -0.075 0.66 0Z" fill="#e48a64"/></g><g transform="rotate(90)"><path d="M0.66 0Q0.855 0.075 1.05 0Q0.855 -0.075 0.66 0Z" fill="#e48a64"/></g><g transform="rotate(112.5)"><path d="M0.66 0Q0.855 0.075 1.05 0Q0.855 -0.075 0.66 0Z" fill="#e48a64"/></g><g transform="rotate(135)"><path d="M0.66 0Q0.855 0.075 1.05 0Q0.855 -0.075 0.66 0Z" fill="#e48a64"/></g><g transform="rotate(157.5)"><path d="M0.66 0Q0.855 0.075 1.05 0Q0.855 -0.075 0.66 0Z" fill="#e48a64"/></g><g transform="rotate(180)"><path d="M0.66 0Q0.855 0.075 1.05 0Q0.855 -0.075 0.66 0Z" fill="#e48a64"/></g><g transform="rotate(202.5)"><path d="M0.66 0Q0.855 0.075 1.05 0Q0.855 -0.075 0.66 0Z" fill="#e48a64"/></g><g transform="rotate(225)"><path d="M0.66 0Q0.855 0.075 1.05 0Q0.855 -0.075 0.66 0Z" fill="#e48a64"/></g><g transform="rotate(247.5)"><path d="M0.66 0Q0.855 0.075 1.05 0Q0.855 -0.075 0.66 0Z" fill="#e48a64"/></g><g transform="rotate(-78.75)"><path d="M0.95 0Q1.2 0.075 1.45 0Q1.2 -0.075 0.95 0Z" fill="#e48a64"/></g><g transform="rotate(-56.25)"><path d="M0.95 0Q1.2 0.075 1.45 0Q1.2 -0.075 0.95 0Z" fill="#e48a64"/></g><g transform="rotate(-33.75)"><path d="M0.95 0Q1.2 0.075 1.45 0Q1.2 -0.075 0.95 0Z" fill="#e48a64"/></g><g transform="rotate(-11.25)"><path d="M0.95 0Q1.2 0.075 1.45 0Q1.2 -0.075 0.95 0Z" fill="#e48a64"/></g><g transform="rotate(11.25)"><path d="M0.95 0Q1.2 0.075 1.45 0Q1.2 -0.075 0.95 0Z" fill="#e48a64"/></g><g transform="rotate(33.75)"><path d="M0.95 0Q1.2 0.075 1.45 0Q1.2 -0.075 0.95 0Z" fill="#e48a64"/></g><g transform="rotate(56.25)"><path d="M0.95 0Q1.2 0.075 1.45 0Q1.2 -0.075 0.95 0Z" fill="#e48a64"/></g><g transform="rotate(78.75)"><path d="M0.95 0Q1.2 0.075 1.45 0Q1.2 -0.075 0.95 0Z" fill="#e48a64"/></g><g transform="rotate(101.25)"><path d="M0.95 0Q1.2 0.075 1.45 0Q1.2 -0.075 0.95 0Z" fill="#e48a64"/></g><g transform="rotate(123.75)"><path d="M0.95 0Q1.2 0.075 1.45 0Q1.2 -0.075 0.95 0Z" fill="#e48a64"/></g><g transform="rotate(146.25)"><path d="M0.95 0Q1.2 0.075 1.45 0Q1.2 -0.075 0.95 0Z" fill="#e48a64"/></g><g transform="rotate(168.75)"><path d="M0.95 0Q1.2 0.075 1.45 0Q1.2 -0.075 0.95 0Z" fill="#e48a64"/></g><g transform="rotate(191.25)"><path d="M0.95 0Q1.2 0.075 1.45 0Q1.2 -0.075 0.95 0Z" fill="#e48a64"/></g><g transform="rotate(213.75)"><path d="M0.95 0Q1.2 0.075 1.45 0Q1.2 -0.075 0.95 0Z" fill="#e48a64"/></g><g transform="rotate(236.25)"><path d="M0.95 0Q1.2 0.075 1.45 0Q1.2 -0.075 0.95 0Z" fill="#e48a64"/></g><g transform="rotate(258.75)"><path d="M0.95 0Q1.2 0.075 1.45 0Q1.2 -0.075 0.95 0Z" fill="#e48a64"/></g><g transform="rotate(-78.75)"><ellipse cx="0.9" cy="0" rx="0.05" ry="0.13" fill="#e89470"/></g><g transform="rotate(-56.25)"><ellipse cx="0.9" cy="0" rx="0.05" ry="0.13" fill="#e89470"/></g><g transform="rotate(-33.75)"><ellipse cx="0.9" cy="0" rx="0.05" ry="0.13" fill="#e89470"/></g><g transform="rotate(-11.25)"><ellipse cx="0.9" cy="0" rx="0.05" ry="0.13" fill="#e89470"/></g><g transform="rotate(11.25)"><ellipse cx="0.9" cy="0" rx="0.05" ry="0.13" fill="#e89470"/></g><g transform="rotate(33.75)"><ellipse cx="0.9" cy="0" rx="0.05" ry="0.13" fill="#e89470"/></g><g transform="rotate(56.25)"><ellipse cx="0.9" cy="0" rx="0.05" ry="0.13" fill="#e89470"/></g><g transform="rotate(78.75)"><ellipse cx="0.9" cy="0" rx="0.05" ry="0.13" fill="#e89470"/></g><g transform="rotate(101.25)"><ellipse cx="0.9" cy="0" rx="0.05" ry="0.13" fill="#e89470"/></g><g transform="rotate(123.75)"><ellipse cx="0.9" cy="0" rx="0.05" ry="0.13" fill="#e89470"/></g><g transform="rotate(146.25)"><ellipse cx="0.9" cy="0" rx="0.05" ry="0.13" fill="#e89470"/></g><g transform="rotate(168.75)"><ellipse cx="0.9" cy="0" rx="0.05" ry="0.13" fill="#e89470"/></g><g transform="rotate(191.25)"><ellipse cx="0.9" cy="0" rx="0.05" ry="0.13" fill="#e89470"/></g><g transform="rotate(213.75)"><ellipse cx="0.9" cy="0" rx="0.05" ry="0.13" fill="#e89470"/></g><g transform="rotate(236.25)"><ellipse cx="0.9" cy="0" rx="0.05" ry="0.13" fill="#e89470"/></g><g transform="rotate(258.75)"><ellipse cx="0.9" cy="0" rx="0.05" ry="0.13" fill="#e89470"/></g><g transform="rotate(-90)"><ellipse cx="1.12" cy="0" rx="0.05" ry="0.14" fill="#e08a66"/></g><g transform="rotate(-67.5)"><ellipse cx="1.12" cy="0" rx="0.05" ry="0.14" fill="#e08a66"/></g><g transform="rotate(-45)"><ellipse cx="1.12" cy="0" rx="0.05" ry="0.14" fill="#e08a66"/></g><g transform="rotate(-22.5)"><ellipse cx="1.12" cy="0" rx="0.05" ry="0.14" fill="#e08a66"/></g><g transform="rotate(0)"><ellipse cx="1.12" cy="0" rx="0.05" ry="0.14" fill="#e08a66"/></g><g transform="rotate(22.5)"><ellipse cx="1.12" cy="0" rx="0.05" ry="0.14" fill="#e08a66"/></g><g transform="rotate(45)"><ellipse cx="1.12" cy="0" rx="0.05" ry="0.14" fill="#e08a66"/></g><g transform="rotate(67.5)"><ellipse cx="1.12" cy="0" rx="0.05" ry="0.14" fill="#e08a66"/></g><g transform="rotate(90)"><ellipse cx="1.12" cy="0" rx="0.05" ry="0.14" fill="#e08a66"/></g><g transform="rotate(112.5)"><ellipse cx="1.12" cy="0" rx="0.05" ry="0.14" fill="#e08a66"/></g><g transform="rotate(135)"><ellipse cx="1.12" cy="0" rx="0.05" ry="0.14" fill="#e08a66"/></g><g transform="rotate(157.5)"><ellipse cx="1.12" cy="0" rx="0.05" ry="0.14" fill="#e08a66"/></g><g transform="rotate(180)"><ellipse cx="1.12" cy="0" rx="0.05" ry="0.14" fill="#e08a66"/></g><g transform="rotate(202.5)"><ellipse cx="1.12" cy="0" rx="0.05" ry="0.14" fill="#e08a66"/></g><g transform="rotate(225)"><ellipse cx="1.12" cy="0" rx="0.05" ry="0.14" fill="#e08a66"/></g><g transform="rotate(247.5)"><ellipse cx="1.12" cy="0" rx="0.05" ry="0.14" fill="#e08a66"/></g><g transform="rotate(-90)"><ellipse cx="0.84" cy="0" rx="0.04" ry="0.03" fill="#6a2a18"/></g><g transform="rotate(-67.5)"><ellipse cx="0.84" cy="0" rx="0.04" ry="0.03" fill="#6a2a18"/></g><g transform="rotate(-45)"><ellipse cx="0.84" cy="0" rx="0.04" ry="0.03" fill="#6a2a18"/></g><g transform="rotate(-22.5)"><ellipse cx="0.84" cy="0" rx="0.04" ry="0.03" fill="#6a2a18"/></g><g transform="rotate(0)"><ellipse cx="0.84" cy="0" rx="0.04" ry="0.03" fill="#6a2a18"/></g><g transform="rotate(22.5)"><ellipse cx="0.84" cy="0" rx="0.04" ry="0.03" fill="#6a2a18"/></g><g transform="rotate(45)"><ellipse cx="0.84" cy="0" rx="0.04" ry="0.03" fill="#6a2a18"/></g><g transform="rotate(67.5)"><ellipse cx="0.84" cy="0" rx="0.04" ry="0.03" fill="#6a2a18"/></g><g transform="rotate(90)"><ellipse cx="0.84" cy="0" rx="0.04" ry="0.03" fill="#6a2a18"/></g><g transform="rotate(112.5)"><ellipse cx="0.84" cy="0" rx="0.04" ry="0.03" fill="#6a2a18"/></g><g transform="rotate(135)"><ellipse cx="0.84" cy="0" rx="0.04" ry="0.03" fill="#6a2a18"/></g><g transform="rotate(157.5)"><ellipse cx="0.84" cy="0" rx="0.04" ry="0.03" fill="#6a2a18"/></g><g transform="rotate(180)"><ellipse cx="0.84" cy="0" rx="0.04" ry="0.03" fill="#6a2a18"/></g><g transform="rotate(202.5)"><ellipse cx="0.84" cy="0" rx="0.04" ry="0.03" fill="#6a2a18"/></g><g transform="rotate(225)"><ellipse cx="0.84" cy="0" rx="0.04" ry="0.03" fill="#6a2a18"/></g><g transform="rotate(247.5)"><ellipse cx="0.84" cy="0" rx="0.04" ry="0.03" fill="#6a2a18"/></g><g transform="rotate(-78.75)"><ellipse cx="1.05" cy="0" rx="0.04" ry="0.03" fill="#6a2a18"/></g><g transform="rotate(-56.25)"><ellipse cx="1.05" cy="0" rx="0.04" ry="0.03" fill="#6a2a18"/></g><g transform="rotate(-33.75)"><ellipse cx="1.05" cy="0" rx="0.04" ry="0.03" fill="#6a2a18"/></g><g transform="rotate(-11.25)"><ellipse cx="1.05" cy="0" rx="0.04" ry="0.03" fill="#6a2a18"/></g><g transform="rotate(11.25)"><ellipse cx="1.05" cy="0" rx="0.04" ry="0.03" fill="#6a2a18"/></g><g transform="rotate(33.75)"><ellipse cx="1.05" cy="0" rx="0.04" ry="0.03" fill="#6a2a18"/></g><g transform="rotate(56.25)"><ellipse cx="1.05" cy="0" rx="0.04" ry="0.03" fill="#6a2a18"/></g><g transform="rotate(78.75)"><ellipse cx="1.05" cy="0" rx="0.04" ry="0.03" fill="#6a2a18"/></g><g transform="rotate(101.25)"><ellipse cx="1.05" cy="0" rx="0.04" ry="0.03" fill="#6a2a18"/></g><g transform="rotate(123.75)"><ellipse cx="1.05" cy="0" rx="0.04" ry="0.03" fill="#6a2a18"/></g><g transform="rotate(146.25)"><ellipse cx="1.05" cy="0" rx="0.04" ry="0.03" fill="#6a2a18"/></g><g transform="rotate(168.75)"><ellipse cx="1.05" cy="0" rx="0.04" ry="0.03" fill="#6a2a18"/></g><g transform="rotate(191.25)"><ellipse cx="1.05" cy="0" rx="0.04" ry="0.03" fill="#6a2a18"/></g><g transform="rotate(213.75)"><ellipse cx="1.05" cy="0" rx="0.04" ry="0.03" fill="#6a2a18"/></g><g transform="rotate(236.25)"><ellipse cx="1.05" cy="0" rx="0.04" ry="0.03" fill="#6a2a18"/></g><g transform="rotate(258.75)"><ellipse cx="1.05" cy="0" rx="0.04" ry="0.03" fill="#6a2a18"/></g><circle cx="0.383" cy="-0.924" r="0.13" fill="#1a44a8"/><circle cx="0.924" cy="-0.383" r="0.13" fill="#1a44a8"/><circle cx="0.924" cy="0.383" r="0.13" fill="#1a44a8"/><circle cx="0.383" cy="0.924" r="0.13" fill="#1a44a8"/><circle cx="-0.383" cy="0.924" r="0.13" fill="#1a44a8"/><circle cx="-0.924" cy="0.383" r="0.13" fill="#1a44a8"/><circle cx="-0.924" cy="-0.383" r="0.13" fill="#1a44a8"/><circle cx="-0.383" cy="-0.924" r="0.13" fill="#1a44a8"/><circle cx="0.383" cy="-0.924" r="0.07" fill="#3a70d0"/><circle cx="0.924" cy="-0.383" r="0.07" fill="#3a70d0"/><circle cx="0.924" cy="0.383" r="0.07" fill="#3a70d0"/><circle cx="0.383" cy="0.924" r="0.07" fill="#3a70d0"/><circle cx="-0.383" cy="0.924" r="0.07" fill="#3a70d0"/><circle cx="-0.924" cy="0.383" r="0.07" fill="#3a70d0"/><circle cx="-0.924" cy="-0.383" r="0.07" fill="#3a70d0"/><circle cx="-0.383" cy="-0.924" r="0.07" fill="#3a70d0"/><circle r="0.66" fill="none" stroke="#7a3418" stroke-width="0.05"/><circle cx="0" cy="-0.66" r="0.032" fill="#b05a30"/><circle cx="0.171" cy="-0.638" r="0.032" fill="#b05a30"/><circle cx="0.33" cy="-0.572" r="0.032" fill="#b05a30"/><circle cx="0.467" cy="-0.467" r="0.032" fill="#b05a30"/><circle cx="0.572" cy="-0.33" r="0.032" fill="#b05a30"/><circle cx="0.638" cy="-0.171" r="0.032" fill="#b05a30"/><circle cx="0.66" cy="0" r="0.032" fill="#b05a30"/><circle cx="0.638" cy="0.171" r="0.032" fill="#b05a30"/><circle cx="0.572" cy="0.33" r="0.032" fill="#b05a30"/><circle cx="0.467" cy="0.467" r="0.032" fill="#b05a30"/><circle cx="0.33" cy="0.572" r="0.032" fill="#b05a30"/><circle cx="0.171" cy="0.638" r="0.032" fill="#b05a30"/><circle cx="0" cy="0.66" r="0.032" fill="#b05a30"/><circle cx="-0.171" cy="0.638" r="0.032" fill="#b05a30"/><circle cx="-0.33" cy="0.572" r="0.032" fill="#b05a30"/><circle cx="-0.467" cy="0.467" r="0.032" fill="#b05a30"/><circle cx="-0.572" cy="0.33" r="0.032" fill="#b05a30"/><circle cx="-0.638" cy="0.171" r="0.032" fill="#b05a30"/><circle cx="-0.66" cy="0" r="0.032" fill="#b05a30"/><circle cx="-0.638" cy="-0.171" r="0.032" fill="#b05a30"/><circle cx="-0.572" cy="-0.33" r="0.032" fill="#b05a30"/><circle cx="-0.467" cy="-0.467" r="0.032" fill="#b05a30"/><circle cx="-0.33" cy="-0.572" r="0.032" fill="#b05a30"/><circle cx="-0.171" cy="-0.638" r="0.032" fill="#b05a30"/><circle r="0.58" fill="none" stroke="#d8dcf0" stroke-width="0.08"/><circle cx="0" cy="-0.58" r="0.035" fill="#f0d8a0"/><circle cx="0.15" cy="-0.56" r="0.035" fill="#f0d8a0"/><circle cx="0.29" cy="-0.502" r="0.035" fill="#f0d8a0"/><circle cx="0.41" cy="-0.41" r="0.035" fill="#f0d8a0"/><circle cx="0.502" cy="-0.29" r="0.035" fill="#f0d8a0"/><circle cx="0.56" cy="-0.15" r="0.035" fill="#f0d8a0"/><circle cx="0.58" cy="0" r="0.035" fill="#f0d8a0"/><circle cx="0.56" cy="0.15" r="0.035" fill="#f0d8a0"/><circle cx="0.502" cy="0.29" r="0.035" fill="#f0d8a0"/><circle cx="0.41" cy="0.41" r="0.035" fill="#f0d8a0"/><circle cx="0.29" cy="0.502" r="0.035" fill="#f0d8a0"/><circle cx="0.15" cy="0.56" r="0.035" fill="#f0d8a0"/><circle cx="0" cy="0.58" r="0.035" fill="#f0d8a0"/><circle cx="-0.15" cy="0.56" r="0.035" fill="#f0d8a0"/><circle cx="-0.29" cy="0.502" r="0.035" fill="#f0d8a0"/><circle cx="-0.41" cy="0.41" r="0.035" fill="#f0d8a0"/><circle cx="-0.502" cy="0.29" r="0.035" fill="#f0d8a0"/><circle cx="-0.56" cy="0.15" r="0.035" fill="#f0d8a0"/><circle cx="-0.58" cy="0" r="0.035" fill="#f0d8a0"/><circle cx="-0.56" cy="-0.15" r="0.035" fill="#f0d8a0"/><circle cx="-0.502" cy="-0.29" r="0.035" fill="#f0d8a0"/><circle cx="-0.41" cy="-0.41" r="0.035" fill="#f0d8a0"/><circle cx="-0.29" cy="-0.502" r="0.035" fill="#f0d8a0"/><circle cx="-0.15" cy="-0.56" r="0.035" fill="#f0d8a0"/><circle cx="0.076" cy="-0.575" r="0.03" fill="#70a0e8"/><circle cx="0.222" cy="-0.536" r="0.03" fill="#70a0e8"/><circle cx="0.353" cy="-0.46" r="0.03" fill="#70a0e8"/><circle cx="0.46" cy="-0.353" r="0.03" fill="#70a0e8"/><circle cx="0.536" cy="-0.222" r="0.03" fill="#70a0e8"/><circle cx="0.575" cy="-0.076" r="0.03" fill="#70a0e8"/><circle cx="0.575" cy="0.076" r="0.03" fill="#70a0e8"/><circle cx="0.536" cy="0.222" r="0.03" fill="#70a0e8"/><circle cx="0.46" cy="0.353" r="0.03" fill="#70a0e8"/><circle cx="0.353" cy="0.46" r="0.03" fill="#70a0e8"/><circle cx="0.222" cy="0.536" r="0.03" fill="#70a0e8"/><circle cx="0.076" cy="0.575" r="0.03" fill="#70a0e8"/><circle cx="-0.076" cy="0.575" r="0.03" fill="#70a0e8"/><circle cx="-0.222" cy="0.536" r="0.03" fill="#70a0e8"/><circle cx="-0.353" cy="0.46" r="0.03" fill="#70a0e8"/><circle cx="-0.46" cy="0.353" r="0.03" fill="#70a0e8"/><circle cx="-0.536" cy="0.222" r="0.03" fill="#70a0e8"/><circle cx="-0.575" cy="0.076" r="0.03" fill="#70a0e8"/><circle cx="-0.575" cy="-0.076" r="0.03" fill="#70a0e8"/><circle cx="-0.536" cy="-0.222" r="0.03" fill="#70a0e8"/><circle cx="-0.46" cy="-0.353" r="0.03" fill="#70a0e8"/><circle cx="-0.353" cy="-0.46" r="0.03" fill="#70a0e8"/><circle cx="-0.222" cy="-0.536" r="0.03" fill="#70a0e8"/><circle cx="-0.076" cy="-0.575" r="0.03" fill="#70a0e8"/><circle r="0.53" fill="#10286c"/><g transform="rotate(-90)"><path d="M0.3 0Q0.415 0.035 0.53 0Q0.415 -0.035 0.3 0Z" fill="#3464c0"/></g><g transform="rotate(-75)"><path d="M0.3 0Q0.415 0.035 0.53 0Q0.415 -0.035 0.3 0Z" fill="#3464c0"/></g><g transform="rotate(-60)"><path d="M0.3 0Q0.415 0.035 0.53 0Q0.415 -0.035 0.3 0Z" fill="#3464c0"/></g><g transform="rotate(-45)"><path d="M0.3 0Q0.415 0.035 0.53 0Q0.415 -0.035 0.3 0Z" fill="#3464c0"/></g><g transform="rotate(-30)"><path d="M0.3 0Q0.415 0.035 0.53 0Q0.415 -0.035 0.3 0Z" fill="#3464c0"/></g><g transform="rotate(-15)"><path d="M0.3 0Q0.415 0.035 0.53 0Q0.415 -0.035 0.3 0Z" fill="#3464c0"/></g><g transform="rotate(0)"><path d="M0.3 0Q0.415 0.035 0.53 0Q0.415 -0.035 0.3 0Z" fill="#3464c0"/></g><g transform="rotate(15)"><path d="M0.3 0Q0.415 0.035 0.53 0Q0.415 -0.035 0.3 0Z" fill="#3464c0"/></g><g transform="rotate(30)"><path d="M0.3 0Q0.415 0.035 0.53 0Q0.415 -0.035 0.3 0Z" fill="#3464c0"/></g><g transform="rotate(45)"><path d="M0.3 0Q0.415 0.035 0.53 0Q0.415 -0.035 0.3 0Z" fill="#3464c0"/></g><g transform="rotate(60)"><path d="M0.3 0Q0.415 0.035 0.53 0Q0.415 -0.035 0.3 0Z" fill="#3464c0"/></g><g transform="rotate(75)"><path d="M0.3 0Q0.415 0.035 0.53 0Q0.415 -0.035 0.3 0Z" fill="#3464c0"/></g><g transform="rotate(90)"><path d="M0.3 0Q0.415 0.035 0.53 0Q0.415 -0.035 0.3 0Z" fill="#3464c0"/></g><g transform="rotate(105)"><path d="M0.3 0Q0.415 0.035 0.53 0Q0.415 -0.035 0.3 0Z" fill="#3464c0"/></g><g transform="rotate(120)"><path d="M0.3 0Q0.415 0.035 0.53 0Q0.415 -0.035 0.3 0Z" fill="#3464c0"/></g><g transform="rotate(135)"><path d="M0.3 0Q0.415 0.035 0.53 0Q0.415 -0.035 0.3 0Z" fill="#3464c0"/></g><g transform="rotate(150)"><path d="M0.3 0Q0.415 0.035 0.53 0Q0.415 -0.035 0.3 0Z" fill="#3464c0"/></g><g transform="rotate(165)"><path d="M0.3 0Q0.415 0.035 0.53 0Q0.415 -0.035 0.3 0Z" fill="#3464c0"/></g><g transform="rotate(180)"><path d="M0.3 0Q0.415 0.035 0.53 0Q0.415 -0.035 0.3 0Z" fill="#3464c0"/></g><g transform="rotate(195)"><path d="M0.3 0Q0.415 0.035 0.53 0Q0.415 -0.035 0.3 0Z" fill="#3464c0"/></g><g transform="rotate(210)"><path d="M0.3 0Q0.415 0.035 0.53 0Q0.415 -0.035 0.3 0Z" fill="#3464c0"/></g><g transform="rotate(225)"><path d="M0.3 0Q0.415 0.035 0.53 0Q0.415 -0.035 0.3 0Z" fill="#3464c0"/></g><g transform="rotate(240)"><path d="M0.3 0Q0.415 0.035 0.53 0Q0.415 -0.035 0.3 0Z" fill="#3464c0"/></g><g transform="rotate(255)"><path d="M0.3 0Q0.415 0.035 0.53 0Q0.415 -0.035 0.3 0Z" fill="#3464c0"/></g><circle cx="0.063" cy="-0.476" r="0.02" fill="#6a90e0"/><circle cx="0.184" cy="-0.443" r="0.02" fill="#6a90e0"/><circle cx="0.292" cy="-0.381" r="0.02" fill="#6a90e0"/><circle cx="0.381" cy="-0.292" r="0.02" fill="#6a90e0"/><circle cx="0.443" cy="-0.184" r="0.02" fill="#6a90e0"/><circle cx="0.476" cy="-0.063" r="0.02" fill="#6a90e0"/><circle cx="0.476" cy="0.063" r="0.02" fill="#6a90e0"/><circle cx="0.443" cy="0.184" r="0.02" fill="#6a90e0"/><circle cx="0.381" cy="0.292" r="0.02" fill="#6a90e0"/><circle cx="0.292" cy="0.381" r="0.02" fill="#6a90e0"/><circle cx="0.184" cy="0.443" r="0.02" fill="#6a90e0"/><circle cx="0.063" cy="0.476" r="0.02" fill="#6a90e0"/><circle cx="-0.063" cy="0.476" r="0.02" fill="#6a90e0"/><circle cx="-0.184" cy="0.443" r="0.02" fill="#6a90e0"/><circle cx="-0.292" cy="0.381" r="0.02" fill="#6a90e0"/><circle cx="-0.381" cy="0.292" r="0.02" fill="#6a90e0"/><circle cx="-0.443" cy="0.184" r="0.02" fill="#6a90e0"/><circle cx="-0.476" cy="0.063" r="0.02" fill="#6a90e0"/><circle cx="-0.476" cy="-0.063" r="0.02" fill="#6a90e0"/><circle cx="-0.443" cy="-0.184" r="0.02" fill="#6a90e0"/><circle cx="-0.381" cy="-0.292" r="0.02" fill="#6a90e0"/><circle cx="-0.292" cy="-0.381" r="0.02" fill="#6a90e0"/><circle cx="-0.184" cy="-0.443" r="0.02" fill="#6a90e0"/><circle cx="-0.063" cy="-0.476" r="0.02" fill="#6a90e0"/><circle r="0.31" fill="#0a0c28"/><polygon points="0,-0.31 0.034,-0.217 0.096,-0.295 0.1,-0.196 0.182,-0.251 0.156,-0.156 0.251,-0.182 0.196,-0.1 0.295,-0.096 0.217,-0.034 0.31,0 0.217,0.034 0.295,0.096 0.196,0.1 0.251,0.182 0.156,0.156 0.182,0.251 0.1,0.196 0.096,0.295 0.034,0.217 0,0.31 -0.034,0.217 -0.096,0.295 -0.1,0.196 -0.182,0.251 -0.156,0.156 -0.251,0.182 -0.196,0.1 -0.295,0.096 -0.217,0.034 -0.31,0 -0.217,-0.034 -0.295,-0.096 -0.196,-0.1 -0.251,-0.182 -0.156,-0.156 -0.182,-0.251 -0.1,-0.196 -0.096,-0.295 -0.034,-0.217" fill="#7a5660"/><polygon points="0.042,-0.267 0.062,-0.19 0.123,-0.241 0.118,-0.162 0.191,-0.191 0.162,-0.118 0.241,-0.123 0.19,-0.062 0.267,-0.042 0.2,0 0.267,0.042 0.19,0.062 0.241,0.123 0.162,0.118 0.191,0.191 0.118,0.162 0.123,0.241 0.062,0.19 0.042,0.267 0,0.2 -0.042,0.267 -0.062,0.19 -0.123,0.241 -0.118,0.162 -0.191,0.191 -0.162,0.118 -0.241,0.123 -0.19,0.062 -0.267,0.042 -0.2,0 -0.267,-0.042 -0.19,-0.062 -0.241,-0.123 -0.162,-0.118 -0.191,-0.191 -0.118,-0.162 -0.123,-0.241 -0.062,-0.19 -0.042,-0.267 -0,-0.2" fill="#0a0a1a"/><circle r="0.185" fill="#48b4ee"/><circle r="0.11" fill="#8aa2c8"/><circle r="0.075" fill="#4a5aa0"/></symbol><symbol id="mD" viewBox="-1 -1 2 2" overflow="hidden"><rect x="-1.5" y="-1.5" width="3" height="3" fill="#0e2070"/><circle r="1.02" fill="none" stroke="#18a070" stroke-width="0.1"/><g transform="rotate(-45)"><ellipse cx="1.22" cy="0" rx="0.2" ry="0.07" fill="#e8f6fc"/></g><g transform="rotate(45)"><ellipse cx="1.22" cy="0" rx="0.2" ry="0.07" fill="#e8f6fc"/></g><g transform="rotate(135)"><ellipse cx="1.22" cy="0" rx="0.2" ry="0.07" fill="#e8f6fc"/></g><g transform="rotate(225)"><ellipse cx="1.22" cy="0" rx="0.2" ry="0.07" fill="#e8f6fc"/></g><g transform="rotate(-45)"><ellipse cx="1.18" cy="0" rx="0.16" ry="0.045" fill="#e0f4fa"/></g><g transform="rotate(0)"><ellipse cx="1.18" cy="0" rx="0.16" ry="0.045" fill="#e0f4fa"/></g><g transform="rotate(45)"><ellipse cx="1.18" cy="0" rx="0.16" ry="0.045" fill="#e0f4fa"/></g><g transform="rotate(90)"><ellipse cx="1.18" cy="0" rx="0.16" ry="0.045" fill="#e0f4fa"/></g><g transform="rotate(135)"><ellipse cx="1.18" cy="0" rx="0.16" ry="0.045" fill="#e0f4fa"/></g><g transform="rotate(180)"><ellipse cx="1.18" cy="0" rx="0.16" ry="0.045" fill="#e0f4fa"/></g><g transform="rotate(225)"><ellipse cx="1.18" cy="0" rx="0.16" ry="0.045" fill="#e0f4fa"/></g><g transform="rotate(270)"><ellipse cx="1.18" cy="0" rx="0.16" ry="0.045" fill="#e0f4fa"/></g><g transform="rotate(-45)"><ellipse cx="1.32" cy="0" rx="0.1" ry="0.1" fill="#0a1440"/></g><g transform="rotate(45)"><ellipse cx="1.32" cy="0" rx="0.1" ry="0.1" fill="#0a1440"/></g><g transform="rotate(135)"><ellipse cx="1.32" cy="0" rx="0.1" ry="0.1" fill="#0a1440"/></g><g transform="rotate(225)"><ellipse cx="1.32" cy="0" rx="0.1" ry="0.1" fill="#0a1440"/></g><g transform="rotate(-67.5)"><ellipse cx="1.08" cy="0" rx="0.05" ry="0.1" fill="#40c8e0"/></g><g transform="rotate(-22.5)"><ellipse cx="1.08" cy="0" rx="0.05" ry="0.1" fill="#40c8e0"/></g><g transform="rotate(22.5)"><ellipse cx="1.08" cy="0" rx="0.05" ry="0.1" fill="#40c8e0"/></g><g transform="rotate(67.5)"><ellipse cx="1.08" cy="0" rx="0.05" ry="0.1" fill="#40c8e0"/></g><g transform="rotate(112.5)"><ellipse cx="1.08" cy="0" rx="0.05" ry="0.1" fill="#40c8e0"/></g><g transform="rotate(157.5)"><ellipse cx="1.08" cy="0" rx="0.05" ry="0.1" fill="#40c8e0"/></g><g transform="rotate(202.5)"><ellipse cx="1.08" cy="0" rx="0.05" ry="0.1" fill="#40c8e0"/></g><g transform="rotate(247.5)"><ellipse cx="1.08" cy="0" rx="0.05" ry="0.1" fill="#40c8e0"/></g><circle r="0.9" fill="none" stroke="#5a3ab8" stroke-width="0.16"/><circle cx="0" cy="-0.9" r="0.07" fill="#e03ab8"/><circle cx="0.233" cy="-0.869" r="0.07" fill="#e03ab8"/><circle cx="0.45" cy="-0.779" r="0.07" fill="#e03ab8"/><circle cx="0.636" cy="-0.636" r="0.07" fill="#e03ab8"/><circle cx="0.779" cy="-0.45" r="0.07" fill="#e03ab8"/><circle cx="0.869" cy="-0.233" r="0.07" fill="#e03ab8"/><circle cx="0.9" cy="0" r="0.07" fill="#e03ab8"/><circle cx="0.869" cy="0.233" r="0.07" fill="#e03ab8"/><circle cx="0.779" cy="0.45" r="0.07" fill="#e03ab8"/><circle cx="0.636" cy="0.636" r="0.07" fill="#e03ab8"/><circle cx="0.45" cy="0.779" r="0.07" fill="#e03ab8"/><circle cx="0.233" cy="0.869" r="0.07" fill="#e03ab8"/><circle cx="0" cy="0.9" r="0.07" fill="#e03ab8"/><circle cx="-0.233" cy="0.869" r="0.07" fill="#e03ab8"/><circle cx="-0.45" cy="0.779" r="0.07" fill="#e03ab8"/><circle cx="-0.636" cy="0.636" r="0.07" fill="#e03ab8"/><circle cx="-0.779" cy="0.45" r="0.07" fill="#e03ab8"/><circle cx="-0.869" cy="0.233" r="0.07" fill="#e03ab8"/><circle cx="-0.9" cy="0" r="0.07" fill="#e03ab8"/><circle cx="-0.869" cy="-0.233" r="0.07" fill="#e03ab8"/><circle cx="-0.779" cy="-0.45" r="0.07" fill="#e03ab8"/><circle cx="-0.636" cy="-0.636" r="0.07" fill="#e03ab8"/><circle cx="-0.45" cy="-0.779" r="0.07" fill="#e03ab8"/><circle cx="-0.233" cy="-0.869" r="0.07" fill="#e03ab8"/><circle cx="0" cy="-0.9" r="0.03" fill="#f070d0"/><circle cx="0.233" cy="-0.869" r="0.03" fill="#f070d0"/><circle cx="0.45" cy="-0.779" r="0.03" fill="#f070d0"/><circle cx="0.636" cy="-0.636" r="0.03" fill="#f070d0"/><circle cx="0.779" cy="-0.45" r="0.03" fill="#f070d0"/><circle cx="0.869" cy="-0.233" r="0.03" fill="#f070d0"/><circle cx="0.9" cy="0" r="0.03" fill="#f070d0"/><circle cx="0.869" cy="0.233" r="0.03" fill="#f070d0"/><circle cx="0.779" cy="0.45" r="0.03" fill="#f070d0"/><circle cx="0.636" cy="0.636" r="0.03" fill="#f070d0"/><circle cx="0.45" cy="0.779" r="0.03" fill="#f070d0"/><circle cx="0.233" cy="0.869" r="0.03" fill="#f070d0"/><circle cx="0" cy="0.9" r="0.03" fill="#f070d0"/><circle cx="-0.233" cy="0.869" r="0.03" fill="#f070d0"/><circle cx="-0.45" cy="0.779" r="0.03" fill="#f070d0"/><circle cx="-0.636" cy="0.636" r="0.03" fill="#f070d0"/><circle cx="-0.779" cy="0.45" r="0.03" fill="#f070d0"/><circle cx="-0.869" cy="0.233" r="0.03" fill="#f070d0"/><circle cx="-0.9" cy="0" r="0.03" fill="#f070d0"/><circle cx="-0.869" cy="-0.233" r="0.03" fill="#f070d0"/><circle cx="-0.779" cy="-0.45" r="0.03" fill="#f070d0"/><circle cx="-0.636" cy="-0.636" r="0.03" fill="#f070d0"/><circle cx="-0.45" cy="-0.779" r="0.03" fill="#f070d0"/><circle cx="-0.233" cy="-0.869" r="0.03" fill="#f070d0"/><circle r="0.78" fill="none" stroke="#1cae6c" stroke-width="0.13"/><circle r="1.02" fill="none" stroke="#30d0c0" stroke-width="0.06"/><circle cx="0" cy="-0.76" r="0.08" fill="#1a54c0"/><circle cx="0.38" cy="-0.658" r="0.08" fill="#1a54c0"/><circle cx="0.658" cy="-0.38" r="0.08" fill="#1a54c0"/><circle cx="0.76" cy="0" r="0.08" fill="#1a54c0"/><circle cx="0.658" cy="0.38" r="0.08" fill="#1a54c0"/><circle cx="0.38" cy="0.658" r="0.08" fill="#1a54c0"/><circle cx="0" cy="0.76" r="0.08" fill="#1a54c0"/><circle cx="-0.38" cy="0.658" r="0.08" fill="#1a54c0"/><circle cx="-0.658" cy="0.38" r="0.08" fill="#1a54c0"/><circle cx="-0.76" cy="0" r="0.08" fill="#1a54c0"/><circle cx="-0.658" cy="-0.38" r="0.08" fill="#1a54c0"/><circle cx="-0.38" cy="-0.658" r="0.08" fill="#1a54c0"/><circle cx="0.192" cy="-0.715" r="0.05" fill="#b0f4e4"/><circle cx="0.523" cy="-0.523" r="0.05" fill="#b0f4e4"/><circle cx="0.715" cy="-0.192" r="0.05" fill="#b0f4e4"/><circle cx="0.715" cy="0.192" r="0.05" fill="#b0f4e4"/><circle cx="0.523" cy="0.523" r="0.05" fill="#b0f4e4"/><circle cx="0.192" cy="0.715" r="0.05" fill="#b0f4e4"/><circle cx="-0.192" cy="0.715" r="0.05" fill="#b0f4e4"/><circle cx="-0.523" cy="0.523" r="0.05" fill="#b0f4e4"/><circle cx="-0.715" cy="0.192" r="0.05" fill="#b0f4e4"/><circle cx="-0.715" cy="-0.192" r="0.05" fill="#b0f4e4"/><circle cx="-0.523" cy="-0.523" r="0.05" fill="#b0f4e4"/><circle cx="-0.192" cy="-0.715" r="0.05" fill="#b0f4e4"/><circle r="0.68" fill="#10308a"/><polygon points="0.176,-0.657 0.25,-0.433 0.481,-0.481 0.433,-0.25 0.657,-0.176 0.5,0 0.657,0.176 0.433,0.25 0.481,0.481 0.25,0.433 0.176,0.657 0,0.5 -0.176,0.657 -0.25,0.433 -0.481,0.481 -0.433,0.25 -0.657,0.176 -0.5,0 -0.657,-0.176 -0.433,-0.25 -0.481,-0.481 -0.25,-0.433 -0.176,-0.657 -0,-0.5" fill="#f4f8ff"/><polygon points="0.163,-0.609 0.23,-0.398 0.445,-0.445 0.398,-0.23 0.609,-0.163 0.46,0 0.609,0.163 0.398,0.23 0.445,0.445 0.23,0.398 0.163,0.609 0,0.46 -0.163,0.609 -0.23,0.398 -0.445,0.445 -0.398,0.23 -0.609,0.163 -0.46,0 -0.609,-0.163 -0.398,-0.23 -0.445,-0.445 -0.23,-0.398 -0.163,-0.609 -0,-0.46" fill="#060a26"/><circle cx="0" cy="-0.5" r="0.04" fill="#30b060"/><circle cx="0.25" cy="-0.433" r="0.04" fill="#30b060"/><circle cx="0.433" cy="-0.25" r="0.04" fill="#30b060"/><circle cx="0.5" cy="0" r="0.04" fill="#30b060"/><circle cx="0.433" cy="0.25" r="0.04" fill="#30b060"/><circle cx="0.25" cy="0.433" r="0.04" fill="#30b060"/><circle cx="0" cy="0.5" r="0.04" fill="#30b060"/><circle cx="-0.25" cy="0.433" r="0.04" fill="#30b060"/><circle cx="-0.433" cy="0.25" r="0.04" fill="#30b060"/><circle cx="-0.5" cy="0" r="0.04" fill="#30b060"/><circle cx="-0.433" cy="-0.25" r="0.04" fill="#30b060"/><circle cx="-0.25" cy="-0.433" r="0.04" fill="#30b060"/><circle cx="0" cy="-0.38" r="0.022" fill="#38a868"/><circle cx="0.098" cy="-0.367" r="0.022" fill="#38a868"/><circle cx="0.19" cy="-0.329" r="0.022" fill="#38a868"/><circle cx="0.269" cy="-0.269" r="0.022" fill="#38a868"/><circle cx="0.329" cy="-0.19" r="0.022" fill="#38a868"/><circle cx="0.367" cy="-0.098" r="0.022" fill="#38a868"/><circle cx="0.38" cy="0" r="0.022" fill="#38a868"/><circle cx="0.367" cy="0.098" r="0.022" fill="#38a868"/><circle cx="0.329" cy="0.19" r="0.022" fill="#38a868"/><circle cx="0.269" cy="0.269" r="0.022" fill="#38a868"/><circle cx="0.19" cy="0.329" r="0.022" fill="#38a868"/><circle cx="0.098" cy="0.367" r="0.022" fill="#38a868"/><circle cx="0" cy="0.38" r="0.022" fill="#38a868"/><circle cx="-0.098" cy="0.367" r="0.022" fill="#38a868"/><circle cx="-0.19" cy="0.329" r="0.022" fill="#38a868"/><circle cx="-0.269" cy="0.269" r="0.022" fill="#38a868"/><circle cx="-0.329" cy="0.19" r="0.022" fill="#38a868"/><circle cx="-0.367" cy="0.098" r="0.022" fill="#38a868"/><circle cx="-0.38" cy="0" r="0.022" fill="#38a868"/><circle cx="-0.367" cy="-0.098" r="0.022" fill="#38a868"/><circle cx="-0.329" cy="-0.19" r="0.022" fill="#38a868"/><circle cx="-0.269" cy="-0.269" r="0.022" fill="#38a868"/><circle cx="-0.19" cy="-0.329" r="0.022" fill="#38a868"/><circle cx="-0.098" cy="-0.367" r="0.022" fill="#38a868"/><circle cx="0.078" cy="-0.29" r="0.02" fill="#3050c0"/><circle cx="0.212" cy="-0.212" r="0.02" fill="#3050c0"/><circle cx="0.29" cy="-0.078" r="0.02" fill="#3050c0"/><circle cx="0.29" cy="0.078" r="0.02" fill="#3050c0"/><circle cx="0.212" cy="0.212" r="0.02" fill="#3050c0"/><circle cx="0.078" cy="0.29" r="0.02" fill="#3050c0"/><circle cx="-0.078" cy="0.29" r="0.02" fill="#3050c0"/><circle cx="-0.212" cy="0.212" r="0.02" fill="#3050c0"/><circle cx="-0.29" cy="0.078" r="0.02" fill="#3050c0"/><circle cx="-0.29" cy="-0.078" r="0.02" fill="#3050c0"/><circle cx="-0.212" cy="-0.212" r="0.02" fill="#3050c0"/><circle cx="-0.078" cy="-0.29" r="0.02" fill="#3050c0"/><g transform="rotate(-90)"><path d="M0.04 0Q0.2 0.06 0.36 0Q0.2 -0.06 0.04 0Z" fill="#30a0a0"/></g><g transform="rotate(-60)"><path d="M0.04 0Q0.2 0.06 0.36 0Q0.2 -0.06 0.04 0Z" fill="#30a0a0"/></g><g transform="rotate(-30)"><path d="M0.04 0Q0.2 0.06 0.36 0Q0.2 -0.06 0.04 0Z" fill="#30a0a0"/></g><g transform="rotate(0)"><path d="M0.04 0Q0.2 0.06 0.36 0Q0.2 -0.06 0.04 0Z" fill="#30a0a0"/></g><g transform="rotate(30)"><path d="M0.04 0Q0.2 0.06 0.36 0Q0.2 -0.06 0.04 0Z" fill="#30a0a0"/></g><g transform="rotate(60)"><path d="M0.04 0Q0.2 0.06 0.36 0Q0.2 -0.06 0.04 0Z" fill="#30a0a0"/></g><g transform="rotate(90)"><path d="M0.04 0Q0.2 0.06 0.36 0Q0.2 -0.06 0.04 0Z" fill="#30a0a0"/></g><g transform="rotate(120)"><path d="M0.04 0Q0.2 0.06 0.36 0Q0.2 -0.06 0.04 0Z" fill="#30a0a0"/></g><g transform="rotate(150)"><path d="M0.04 0Q0.2 0.06 0.36 0Q0.2 -0.06 0.04 0Z" fill="#30a0a0"/></g><g transform="rotate(180)"><path d="M0.04 0Q0.2 0.06 0.36 0Q0.2 -0.06 0.04 0Z" fill="#30a0a0"/></g><g transform="rotate(210)"><path d="M0.04 0Q0.2 0.06 0.36 0Q0.2 -0.06 0.04 0Z" fill="#30a0a0"/></g><g transform="rotate(240)"><path d="M0.04 0Q0.2 0.06 0.36 0Q0.2 -0.06 0.04 0Z" fill="#30a0a0"/></g><g transform="rotate(-75)"><path d="M0.04 0Q0.16 0.03 0.28 0Q0.16 -0.03 0.04 0Z" fill="#70d0c0"/></g><g transform="rotate(-45)"><path d="M0.04 0Q0.16 0.03 0.28 0Q0.16 -0.03 0.04 0Z" fill="#70d0c0"/></g><g transform="rotate(-15)"><path d="M0.04 0Q0.16 0.03 0.28 0Q0.16 -0.03 0.04 0Z" fill="#70d0c0"/></g><g transform="rotate(15)"><path d="M0.04 0Q0.16 0.03 0.28 0Q0.16 -0.03 0.04 0Z" fill="#70d0c0"/></g><g transform="rotate(45)"><path d="M0.04 0Q0.16 0.03 0.28 0Q0.16 -0.03 0.04 0Z" fill="#70d0c0"/></g><g transform="rotate(75)"><path d="M0.04 0Q0.16 0.03 0.28 0Q0.16 -0.03 0.04 0Z" fill="#70d0c0"/></g><g transform="rotate(105)"><path d="M0.04 0Q0.16 0.03 0.28 0Q0.16 -0.03 0.04 0Z" fill="#70d0c0"/></g><g transform="rotate(135)"><path d="M0.04 0Q0.16 0.03 0.28 0Q0.16 -0.03 0.04 0Z" fill="#70d0c0"/></g><g transform="rotate(165)"><path d="M0.04 0Q0.16 0.03 0.28 0Q0.16 -0.03 0.04 0Z" fill="#70d0c0"/></g><g transform="rotate(195)"><path d="M0.04 0Q0.16 0.03 0.28 0Q0.16 -0.03 0.04 0Z" fill="#70d0c0"/></g><g transform="rotate(225)"><path d="M0.04 0Q0.16 0.03 0.28 0Q0.16 -0.03 0.04 0Z" fill="#70d0c0"/></g><g transform="rotate(255)"><path d="M0.04 0Q0.16 0.03 0.28 0Q0.16 -0.03 0.04 0Z" fill="#70d0c0"/></g><polygon points="0,-0.15 0.019,-0.046 0.106,-0.106 0.046,-0.019 0.15,0 0.046,0.019 0.106,0.106 0.019,0.046 0,0.15 -0.019,0.046 -0.106,0.106 -0.046,0.019 -0.15,0 -0.046,-0.019 -0.106,-0.106 -0.019,-0.046" fill="#ffffff"/><circle r="0.035" fill="#803040"/></symbol><symbol id="mE" viewBox="-1 -1 2 2" overflow="hidden"><rect x="-1.5" y="-1.5" width="3" height="3" fill="#1a100e"/><circle r="1.08" fill="none" stroke="#a86048" stroke-width="0.06"/><circle r="0.82" fill="none" stroke="#a86048" stroke-width="0.05"/><g transform="rotate(-90)"><path d="M0.55 0Q1 0.05 1.45 0Q1 -0.05 0.55 0Z" fill="#a86048"/></g><g transform="rotate(-67.5)"><path d="M0.55 0Q1 0.05 1.45 0Q1 -0.05 0.55 0Z" fill="#a86048"/></g><g transform="rotate(-45)"><path d="M0.55 0Q1 0.05 1.45 0Q1 -0.05 0.55 0Z" fill="#a86048"/></g><g transform="rotate(-22.5)"><path d="M0.55 0Q1 0.05 1.45 0Q1 -0.05 0.55 0Z" fill="#a86048"/></g><g transform="rotate(0)"><path d="M0.55 0Q1 0.05 1.45 0Q1 -0.05 0.55 0Z" fill="#a86048"/></g><g transform="rotate(22.5)"><path d="M0.55 0Q1 0.05 1.45 0Q1 -0.05 0.55 0Z" fill="#a86048"/></g><g transform="rotate(45)"><path d="M0.55 0Q1 0.05 1.45 0Q1 -0.05 0.55 0Z" fill="#a86048"/></g><g transform="rotate(67.5)"><path d="M0.55 0Q1 0.05 1.45 0Q1 -0.05 0.55 0Z" fill="#a86048"/></g><g transform="rotate(90)"><path d="M0.55 0Q1 0.05 1.45 0Q1 -0.05 0.55 0Z" fill="#a86048"/></g><g transform="rotate(112.5)"><path d="M0.55 0Q1 0.05 1.45 0Q1 -0.05 0.55 0Z" fill="#a86048"/></g><g transform="rotate(135)"><path d="M0.55 0Q1 0.05 1.45 0Q1 -0.05 0.55 0Z" fill="#a86048"/></g><g transform="rotate(157.5)"><path d="M0.55 0Q1 0.05 1.45 0Q1 -0.05 0.55 0Z" fill="#a86048"/></g><g transform="rotate(180)"><path d="M0.55 0Q1 0.05 1.45 0Q1 -0.05 0.55 0Z" fill="#a86048"/></g><g transform="rotate(202.5)"><path d="M0.55 0Q1 0.05 1.45 0Q1 -0.05 0.55 0Z" fill="#a86048"/></g><g transform="rotate(225)"><path d="M0.55 0Q1 0.05 1.45 0Q1 -0.05 0.55 0Z" fill="#a86048"/></g><g transform="rotate(247.5)"><path d="M0.55 0Q1 0.05 1.45 0Q1 -0.05 0.55 0Z" fill="#a86048"/></g><g transform="rotate(-90)"><ellipse cx="0.95" cy="0" rx="0.14" ry="0.085" fill="#2e5e66" stroke="#c0806a" stroke-width="0.025"/></g><g transform="rotate(-67.5)"><ellipse cx="0.95" cy="0" rx="0.14" ry="0.085" fill="#2e5e66" stroke="#c0806a" stroke-width="0.025"/></g><g transform="rotate(-45)"><ellipse cx="0.95" cy="0" rx="0.14" ry="0.085" fill="#2e5e66" stroke="#c0806a" stroke-width="0.025"/></g><g transform="rotate(-22.5)"><ellipse cx="0.95" cy="0" rx="0.14" ry="0.085" fill="#2e5e66" stroke="#c0806a" stroke-width="0.025"/></g><g transform="rotate(0)"><ellipse cx="0.95" cy="0" rx="0.14" ry="0.085" fill="#2e5e66" stroke="#c0806a" stroke-width="0.025"/></g><g transform="rotate(22.5)"><ellipse cx="0.95" cy="0" rx="0.14" ry="0.085" fill="#2e5e66" stroke="#c0806a" stroke-width="0.025"/></g><g transform="rotate(45)"><ellipse cx="0.95" cy="0" rx="0.14" ry="0.085" fill="#2e5e66" stroke="#c0806a" stroke-width="0.025"/></g><g transform="rotate(67.5)"><ellipse cx="0.95" cy="0" rx="0.14" ry="0.085" fill="#2e5e66" stroke="#c0806a" stroke-width="0.025"/></g><g transform="rotate(90)"><ellipse cx="0.95" cy="0" rx="0.14" ry="0.085" fill="#2e5e66" stroke="#c0806a" stroke-width="0.025"/></g><g transform="rotate(112.5)"><ellipse cx="0.95" cy="0" rx="0.14" ry="0.085" fill="#2e5e66" stroke="#c0806a" stroke-width="0.025"/></g><g transform="rotate(135)"><ellipse cx="0.95" cy="0" rx="0.14" ry="0.085" fill="#2e5e66" stroke="#c0806a" stroke-width="0.025"/></g><g transform="rotate(157.5)"><ellipse cx="0.95" cy="0" rx="0.14" ry="0.085" fill="#2e5e66" stroke="#c0806a" stroke-width="0.025"/></g><g transform="rotate(180)"><ellipse cx="0.95" cy="0" rx="0.14" ry="0.085" fill="#2e5e66" stroke="#c0806a" stroke-width="0.025"/></g><g transform="rotate(202.5)"><ellipse cx="0.95" cy="0" rx="0.14" ry="0.085" fill="#2e5e66" stroke="#c0806a" stroke-width="0.025"/></g><g transform="rotate(225)"><ellipse cx="0.95" cy="0" rx="0.14" ry="0.085" fill="#2e5e66" stroke="#c0806a" stroke-width="0.025"/></g><g transform="rotate(247.5)"><ellipse cx="0.95" cy="0" rx="0.14" ry="0.085" fill="#2e5e66" stroke="#c0806a" stroke-width="0.025"/></g><g transform="rotate(-90)"><ellipse cx="0.97" cy="0" rx="0.07" ry="0.045" fill="#b0e0ec"/></g><g transform="rotate(-67.5)"><ellipse cx="0.97" cy="0" rx="0.07" ry="0.045" fill="#b0e0ec"/></g><g transform="rotate(-45)"><ellipse cx="0.97" cy="0" rx="0.07" ry="0.045" fill="#b0e0ec"/></g><g transform="rotate(-22.5)"><ellipse cx="0.97" cy="0" rx="0.07" ry="0.045" fill="#b0e0ec"/></g><g transform="rotate(0)"><ellipse cx="0.97" cy="0" rx="0.07" ry="0.045" fill="#b0e0ec"/></g><g transform="rotate(22.5)"><ellipse cx="0.97" cy="0" rx="0.07" ry="0.045" fill="#b0e0ec"/></g><g transform="rotate(45)"><ellipse cx="0.97" cy="0" rx="0.07" ry="0.045" fill="#b0e0ec"/></g><g transform="rotate(67.5)"><ellipse cx="0.97" cy="0" rx="0.07" ry="0.045" fill="#b0e0ec"/></g><g transform="rotate(90)"><ellipse cx="0.97" cy="0" rx="0.07" ry="0.045" fill="#b0e0ec"/></g><g transform="rotate(112.5)"><ellipse cx="0.97" cy="0" rx="0.07" ry="0.045" fill="#b0e0ec"/></g><g transform="rotate(135)"><ellipse cx="0.97" cy="0" rx="0.07" ry="0.045" fill="#b0e0ec"/></g><g transform="rotate(157.5)"><ellipse cx="0.97" cy="0" rx="0.07" ry="0.045" fill="#b0e0ec"/></g><g transform="rotate(180)"><ellipse cx="0.97" cy="0" rx="0.07" ry="0.045" fill="#b0e0ec"/></g><g transform="rotate(202.5)"><ellipse cx="0.97" cy="0" rx="0.07" ry="0.045" fill="#b0e0ec"/></g><g transform="rotate(225)"><ellipse cx="0.97" cy="0" rx="0.07" ry="0.045" fill="#b0e0ec"/></g><g transform="rotate(247.5)"><ellipse cx="0.97" cy="0" rx="0.07" ry="0.045" fill="#b0e0ec"/></g><g transform="rotate(-78.75)"><ellipse cx="1.22" cy="0" rx="0.12" ry="0.08" fill="#2e5e66" stroke="#c0806a" stroke-width="0.025"/></g><g transform="rotate(-56.25)"><ellipse cx="1.22" cy="0" rx="0.12" ry="0.08" fill="#2e5e66" stroke="#c0806a" stroke-width="0.025"/></g><g transform="rotate(-33.75)"><ellipse cx="1.22" cy="0" rx="0.12" ry="0.08" fill="#2e5e66" stroke="#c0806a" stroke-width="0.025"/></g><g transform="rotate(-11.25)"><ellipse cx="1.22" cy="0" rx="0.12" ry="0.08" fill="#2e5e66" stroke="#c0806a" stroke-width="0.025"/></g><g transform="rotate(11.25)"><ellipse cx="1.22" cy="0" rx="0.12" ry="0.08" fill="#2e5e66" stroke="#c0806a" stroke-width="0.025"/></g><g transform="rotate(33.75)"><ellipse cx="1.22" cy="0" rx="0.12" ry="0.08" fill="#2e5e66" stroke="#c0806a" stroke-width="0.025"/></g><g transform="rotate(56.25)"><ellipse cx="1.22" cy="0" rx="0.12" ry="0.08" fill="#2e5e66" stroke="#c0806a" stroke-width="0.025"/></g><g transform="rotate(78.75)"><ellipse cx="1.22" cy="0" rx="0.12" ry="0.08" fill="#2e5e66" stroke="#c0806a" stroke-width="0.025"/></g><g transform="rotate(101.25)"><ellipse cx="1.22" cy="0" rx="0.12" ry="0.08" fill="#2e5e66" stroke="#c0806a" stroke-width="0.025"/></g><g transform="rotate(123.75)"><ellipse cx="1.22" cy="0" rx="0.12" ry="0.08" fill="#2e5e66" stroke="#c0806a" stroke-width="0.025"/></g><g transform="rotate(146.25)"><ellipse cx="1.22" cy="0" rx="0.12" ry="0.08" fill="#2e5e66" stroke="#c0806a" stroke-width="0.025"/></g><g transform="rotate(168.75)"><ellipse cx="1.22" cy="0" rx="0.12" ry="0.08" fill="#2e5e66" stroke="#c0806a" stroke-width="0.025"/></g><g transform="rotate(191.25)"><ellipse cx="1.22" cy="0" rx="0.12" ry="0.08" fill="#2e5e66" stroke="#c0806a" stroke-width="0.025"/></g><g transform="rotate(213.75)"><ellipse cx="1.22" cy="0" rx="0.12" ry="0.08" fill="#2e5e66" stroke="#c0806a" stroke-width="0.025"/></g><g transform="rotate(236.25)"><ellipse cx="1.22" cy="0" rx="0.12" ry="0.08" fill="#2e5e66" stroke="#c0806a" stroke-width="0.025"/></g><g transform="rotate(258.75)"><ellipse cx="1.22" cy="0" rx="0.12" ry="0.08" fill="#2e5e66" stroke="#c0806a" stroke-width="0.025"/></g><g transform="rotate(-78.75)"><ellipse cx="1.22" cy="0" rx="0.06" ry="0.04" fill="#a8d8e4"/></g><g transform="rotate(-56.25)"><ellipse cx="1.22" cy="0" rx="0.06" ry="0.04" fill="#a8d8e4"/></g><g transform="rotate(-33.75)"><ellipse cx="1.22" cy="0" rx="0.06" ry="0.04" fill="#a8d8e4"/></g><g transform="rotate(-11.25)"><ellipse cx="1.22" cy="0" rx="0.06" ry="0.04" fill="#a8d8e4"/></g><g transform="rotate(11.25)"><ellipse cx="1.22" cy="0" rx="0.06" ry="0.04" fill="#a8d8e4"/></g><g transform="rotate(33.75)"><ellipse cx="1.22" cy="0" rx="0.06" ry="0.04" fill="#a8d8e4"/></g><g transform="rotate(56.25)"><ellipse cx="1.22" cy="0" rx="0.06" ry="0.04" fill="#a8d8e4"/></g><g transform="rotate(78.75)"><ellipse cx="1.22" cy="0" rx="0.06" ry="0.04" fill="#a8d8e4"/></g><g transform="rotate(101.25)"><ellipse cx="1.22" cy="0" rx="0.06" ry="0.04" fill="#a8d8e4"/></g><g transform="rotate(123.75)"><ellipse cx="1.22" cy="0" rx="0.06" ry="0.04" fill="#a8d8e4"/></g><g transform="rotate(146.25)"><ellipse cx="1.22" cy="0" rx="0.06" ry="0.04" fill="#a8d8e4"/></g><g transform="rotate(168.75)"><ellipse cx="1.22" cy="0" rx="0.06" ry="0.04" fill="#a8d8e4"/></g><g transform="rotate(191.25)"><ellipse cx="1.22" cy="0" rx="0.06" ry="0.04" fill="#a8d8e4"/></g><g transform="rotate(213.75)"><ellipse cx="1.22" cy="0" rx="0.06" ry="0.04" fill="#a8d8e4"/></g><g transform="rotate(236.25)"><ellipse cx="1.22" cy="0" rx="0.06" ry="0.04" fill="#a8d8e4"/></g><g transform="rotate(258.75)"><ellipse cx="1.22" cy="0" rx="0.06" ry="0.04" fill="#a8d8e4"/></g><g transform="rotate(-78.75)"><ellipse cx="0.68" cy="0" rx="0.12" ry="0.065" fill="#2a5860" stroke="#c08070" stroke-width="0.03"/></g><g transform="rotate(-56.25)"><ellipse cx="0.68" cy="0" rx="0.12" ry="0.065" fill="#2a5860" stroke="#c08070" stroke-width="0.03"/></g><g transform="rotate(-33.75)"><ellipse cx="0.68" cy="0" rx="0.12" ry="0.065" fill="#2a5860" stroke="#c08070" stroke-width="0.03"/></g><g transform="rotate(-11.25)"><ellipse cx="0.68" cy="0" rx="0.12" ry="0.065" fill="#2a5860" stroke="#c08070" stroke-width="0.03"/></g><g transform="rotate(11.25)"><ellipse cx="0.68" cy="0" rx="0.12" ry="0.065" fill="#2a5860" stroke="#c08070" stroke-width="0.03"/></g><g transform="rotate(33.75)"><ellipse cx="0.68" cy="0" rx="0.12" ry="0.065" fill="#2a5860" stroke="#c08070" stroke-width="0.03"/></g><g transform="rotate(56.25)"><ellipse cx="0.68" cy="0" rx="0.12" ry="0.065" fill="#2a5860" stroke="#c08070" stroke-width="0.03"/></g><g transform="rotate(78.75)"><ellipse cx="0.68" cy="0" rx="0.12" ry="0.065" fill="#2a5860" stroke="#c08070" stroke-width="0.03"/></g><g transform="rotate(101.25)"><ellipse cx="0.68" cy="0" rx="0.12" ry="0.065" fill="#2a5860" stroke="#c08070" stroke-width="0.03"/></g><g transform="rotate(123.75)"><ellipse cx="0.68" cy="0" rx="0.12" ry="0.065" fill="#2a5860" stroke="#c08070" stroke-width="0.03"/></g><g transform="rotate(146.25)"><ellipse cx="0.68" cy="0" rx="0.12" ry="0.065" fill="#2a5860" stroke="#c08070" stroke-width="0.03"/></g><g transform="rotate(168.75)"><ellipse cx="0.68" cy="0" rx="0.12" ry="0.065" fill="#2a5860" stroke="#c08070" stroke-width="0.03"/></g><g transform="rotate(191.25)"><ellipse cx="0.68" cy="0" rx="0.12" ry="0.065" fill="#2a5860" stroke="#c08070" stroke-width="0.03"/></g><g transform="rotate(213.75)"><ellipse cx="0.68" cy="0" rx="0.12" ry="0.065" fill="#2a5860" stroke="#c08070" stroke-width="0.03"/></g><g transform="rotate(236.25)"><ellipse cx="0.68" cy="0" rx="0.12" ry="0.065" fill="#2a5860" stroke="#c08070" stroke-width="0.03"/></g><g transform="rotate(258.75)"><ellipse cx="0.68" cy="0" rx="0.12" ry="0.065" fill="#2a5860" stroke="#c08070" stroke-width="0.03"/></g><g transform="rotate(-78.75)"><ellipse cx="0.68" cy="0" rx="0.05" ry="0.03" fill="#90c8d8"/></g><g transform="rotate(-56.25)"><ellipse cx="0.68" cy="0" rx="0.05" ry="0.03" fill="#90c8d8"/></g><g transform="rotate(-33.75)"><ellipse cx="0.68" cy="0" rx="0.05" ry="0.03" fill="#90c8d8"/></g><g transform="rotate(-11.25)"><ellipse cx="0.68" cy="0" rx="0.05" ry="0.03" fill="#90c8d8"/></g><g transform="rotate(11.25)"><ellipse cx="0.68" cy="0" rx="0.05" ry="0.03" fill="#90c8d8"/></g><g transform="rotate(33.75)"><ellipse cx="0.68" cy="0" rx="0.05" ry="0.03" fill="#90c8d8"/></g><g transform="rotate(56.25)"><ellipse cx="0.68" cy="0" rx="0.05" ry="0.03" fill="#90c8d8"/></g><g transform="rotate(78.75)"><ellipse cx="0.68" cy="0" rx="0.05" ry="0.03" fill="#90c8d8"/></g><g transform="rotate(101.25)"><ellipse cx="0.68" cy="0" rx="0.05" ry="0.03" fill="#90c8d8"/></g><g transform="rotate(123.75)"><ellipse cx="0.68" cy="0" rx="0.05" ry="0.03" fill="#90c8d8"/></g><g transform="rotate(146.25)"><ellipse cx="0.68" cy="0" rx="0.05" ry="0.03" fill="#90c8d8"/></g><g transform="rotate(168.75)"><ellipse cx="0.68" cy="0" rx="0.05" ry="0.03" fill="#90c8d8"/></g><g transform="rotate(191.25)"><ellipse cx="0.68" cy="0" rx="0.05" ry="0.03" fill="#90c8d8"/></g><g transform="rotate(213.75)"><ellipse cx="0.68" cy="0" rx="0.05" ry="0.03" fill="#90c8d8"/></g><g transform="rotate(236.25)"><ellipse cx="0.68" cy="0" rx="0.05" ry="0.03" fill="#90c8d8"/></g><g transform="rotate(258.75)"><ellipse cx="0.68" cy="0" rx="0.05" ry="0.03" fill="#90c8d8"/></g><circle cx="0" cy="-0.44" r="0.08" fill="#e8967e" stroke="#6a3020" stroke-width="0.015"/><circle cx="0.168" cy="-0.407" r="0.08" fill="#e8967e" stroke="#6a3020" stroke-width="0.015"/><circle cx="0.311" cy="-0.311" r="0.08" fill="#e8967e" stroke="#6a3020" stroke-width="0.015"/><circle cx="0.407" cy="-0.168" r="0.08" fill="#e8967e" stroke="#6a3020" stroke-width="0.015"/><circle cx="0.44" cy="0" r="0.08" fill="#e8967e" stroke="#6a3020" stroke-width="0.015"/><circle cx="0.407" cy="0.168" r="0.08" fill="#e8967e" stroke="#6a3020" stroke-width="0.015"/><circle cx="0.311" cy="0.311" r="0.08" fill="#e8967e" stroke="#6a3020" stroke-width="0.015"/><circle cx="0.168" cy="0.407" r="0.08" fill="#e8967e" stroke="#6a3020" stroke-width="0.015"/><circle cx="0" cy="0.44" r="0.08" fill="#e8967e" stroke="#6a3020" stroke-width="0.015"/><circle cx="-0.168" cy="0.407" r="0.08" fill="#e8967e" stroke="#6a3020" stroke-width="0.015"/><circle cx="-0.311" cy="0.311" r="0.08" fill="#e8967e" stroke="#6a3020" stroke-width="0.015"/><circle cx="-0.407" cy="0.168" r="0.08" fill="#e8967e" stroke="#6a3020" stroke-width="0.015"/><circle cx="-0.44" cy="0" r="0.08" fill="#e8967e" stroke="#6a3020" stroke-width="0.015"/><circle cx="-0.407" cy="-0.168" r="0.08" fill="#e8967e" stroke="#6a3020" stroke-width="0.015"/><circle cx="-0.311" cy="-0.311" r="0.08" fill="#e8967e" stroke="#6a3020" stroke-width="0.015"/><circle cx="-0.168" cy="-0.407" r="0.08" fill="#e8967e" stroke="#6a3020" stroke-width="0.015"/><circle cx="0" cy="-0.44" r="0.035" fill="#f4d8c8"/><circle cx="0.168" cy="-0.407" r="0.035" fill="#f4d8c8"/><circle cx="0.311" cy="-0.311" r="0.035" fill="#f4d8c8"/><circle cx="0.407" cy="-0.168" r="0.035" fill="#f4d8c8"/><circle cx="0.44" cy="0" r="0.035" fill="#f4d8c8"/><circle cx="0.407" cy="0.168" r="0.035" fill="#f4d8c8"/><circle cx="0.311" cy="0.311" r="0.035" fill="#f4d8c8"/><circle cx="0.168" cy="0.407" r="0.035" fill="#f4d8c8"/><circle cx="0" cy="0.44" r="0.035" fill="#f4d8c8"/><circle cx="-0.168" cy="0.407" r="0.035" fill="#f4d8c8"/><circle cx="-0.311" cy="0.311" r="0.035" fill="#f4d8c8"/><circle cx="-0.407" cy="0.168" r="0.035" fill="#f4d8c8"/><circle cx="-0.44" cy="0" r="0.035" fill="#f4d8c8"/><circle cx="-0.407" cy="-0.168" r="0.035" fill="#f4d8c8"/><circle cx="-0.311" cy="-0.311" r="0.035" fill="#f4d8c8"/><circle cx="-0.168" cy="-0.407" r="0.035" fill="#f4d8c8"/><circle r="0.33" fill="#0c1a20"/><circle cx="0" cy="-0.26" r="0.03" fill="#4a8a90"/><circle cx="0.099" cy="-0.24" r="0.03" fill="#4a8a90"/><circle cx="0.184" cy="-0.184" r="0.03" fill="#4a8a90"/><circle cx="0.24" cy="-0.099" r="0.03" fill="#4a8a90"/><circle cx="0.26" cy="0" r="0.03" fill="#4a8a90"/><circle cx="0.24" cy="0.099" r="0.03" fill="#4a8a90"/><circle cx="0.184" cy="0.184" r="0.03" fill="#4a8a90"/><circle cx="0.099" cy="0.24" r="0.03" fill="#4a8a90"/><circle cx="0" cy="0.26" r="0.03" fill="#4a8a90"/><circle cx="-0.099" cy="0.24" r="0.03" fill="#4a8a90"/><circle cx="-0.184" cy="0.184" r="0.03" fill="#4a8a90"/><circle cx="-0.24" cy="0.099" r="0.03" fill="#4a8a90"/><circle cx="-0.26" cy="0" r="0.03" fill="#4a8a90"/><circle cx="-0.24" cy="-0.099" r="0.03" fill="#4a8a90"/><circle cx="-0.184" cy="-0.184" r="0.03" fill="#4a8a90"/><circle cx="-0.099" cy="-0.24" r="0.03" fill="#4a8a90"/><circle r="0.17" fill="none" stroke="#6a8a80" stroke-width="0.015"/><circle cx="0.041" cy="-0.155" r="0.02" fill="#5a9a9a"/><circle cx="0.113" cy="-0.113" r="0.02" fill="#5a9a9a"/><circle cx="0.155" cy="-0.041" r="0.02" fill="#5a9a9a"/><circle cx="0.155" cy="0.041" r="0.02" fill="#5a9a9a"/><circle cx="0.113" cy="0.113" r="0.02" fill="#5a9a9a"/><circle cx="0.041" cy="0.155" r="0.02" fill="#5a9a9a"/><circle cx="-0.041" cy="0.155" r="0.02" fill="#5a9a9a"/><circle cx="-0.113" cy="0.113" r="0.02" fill="#5a9a9a"/><circle cx="-0.155" cy="0.041" r="0.02" fill="#5a9a9a"/><circle cx="-0.155" cy="-0.041" r="0.02" fill="#5a9a9a"/><circle cx="-0.113" cy="-0.113" r="0.02" fill="#5a9a9a"/><circle cx="-0.041" cy="-0.155" r="0.02" fill="#5a9a9a"/><circle r="0.09" fill="none" stroke="#a06040" stroke-width="0.015"/><circle r="0.04" fill="#a05030"/></symbol><symbol id="mF" viewBox="-1 -1 2 2" overflow="hidden"><rect x="-1.5" y="-1.5" width="3" height="3" fill="#2c86c8"/><g transform="rotate(-75)"><ellipse cx="1" cy="0" rx="0.16" ry="0.12" fill="#e8f4fa"/></g><g transform="rotate(-45)"><ellipse cx="1" cy="0" rx="0.16" ry="0.12" fill="#e8f4fa"/></g><g transform="rotate(-15)"><ellipse cx="1" cy="0" rx="0.16" ry="0.12" fill="#e8f4fa"/></g><g transform="rotate(15)"><ellipse cx="1" cy="0" rx="0.16" ry="0.12" fill="#e8f4fa"/></g><g transform="rotate(45)"><ellipse cx="1" cy="0" rx="0.16" ry="0.12" fill="#e8f4fa"/></g><g transform="rotate(75)"><ellipse cx="1" cy="0" rx="0.16" ry="0.12" fill="#e8f4fa"/></g><g transform="rotate(105)"><ellipse cx="1" cy="0" rx="0.16" ry="0.12" fill="#e8f4fa"/></g><g transform="rotate(135)"><ellipse cx="1" cy="0" rx="0.16" ry="0.12" fill="#e8f4fa"/></g><g transform="rotate(165)"><ellipse cx="1" cy="0" rx="0.16" ry="0.12" fill="#e8f4fa"/></g><g transform="rotate(195)"><ellipse cx="1" cy="0" rx="0.16" ry="0.12" fill="#e8f4fa"/></g><g transform="rotate(225)"><ellipse cx="1" cy="0" rx="0.16" ry="0.12" fill="#e8f4fa"/></g><g transform="rotate(255)"><ellipse cx="1" cy="0" rx="0.16" ry="0.12" fill="#e8f4fa"/></g><g transform="rotate(-75)"><ellipse cx="1" cy="0" rx="0.1" ry="0.07" fill="#1a3a90"/></g><g transform="rotate(-45)"><ellipse cx="1" cy="0" rx="0.1" ry="0.07" fill="#1a3a90"/></g><g transform="rotate(-15)"><ellipse cx="1" cy="0" rx="0.1" ry="0.07" fill="#1a3a90"/></g><g transform="rotate(15)"><ellipse cx="1" cy="0" rx="0.1" ry="0.07" fill="#1a3a90"/></g><g transform="rotate(45)"><ellipse cx="1" cy="0" rx="0.1" ry="0.07" fill="#1a3a90"/></g><g transform="rotate(75)"><ellipse cx="1" cy="0" rx="0.1" ry="0.07" fill="#1a3a90"/></g><g transform="rotate(105)"><ellipse cx="1" cy="0" rx="0.1" ry="0.07" fill="#1a3a90"/></g><g transform="rotate(135)"><ellipse cx="1" cy="0" rx="0.1" ry="0.07" fill="#1a3a90"/></g><g transform="rotate(165)"><ellipse cx="1" cy="0" rx="0.1" ry="0.07" fill="#1a3a90"/></g><g transform="rotate(195)"><ellipse cx="1" cy="0" rx="0.1" ry="0.07" fill="#1a3a90"/></g><g transform="rotate(225)"><ellipse cx="1" cy="0" rx="0.1" ry="0.07" fill="#1a3a90"/></g><g transform="rotate(255)"><ellipse cx="1" cy="0" rx="0.1" ry="0.07" fill="#1a3a90"/></g><g transform="rotate(-90)"><ellipse cx="0.98" cy="0" rx="0.1" ry="0.07" fill="#e8c430"/></g><g transform="rotate(-60)"><ellipse cx="0.98" cy="0" rx="0.1" ry="0.07" fill="#e8c430"/></g><g transform="rotate(-30)"><ellipse cx="0.98" cy="0" rx="0.1" ry="0.07" fill="#e8c430"/></g><g transform="rotate(0)"><ellipse cx="0.98" cy="0" rx="0.1" ry="0.07" fill="#e8c430"/></g><g transform="rotate(30)"><ellipse cx="0.98" cy="0" rx="0.1" ry="0.07" fill="#e8c430"/></g><g transform="rotate(60)"><ellipse cx="0.98" cy="0" rx="0.1" ry="0.07" fill="#e8c430"/></g><g transform="rotate(90)"><ellipse cx="0.98" cy="0" rx="0.1" ry="0.07" fill="#e8c430"/></g><g transform="rotate(120)"><ellipse cx="0.98" cy="0" rx="0.1" ry="0.07" fill="#e8c430"/></g><g transform="rotate(150)"><ellipse cx="0.98" cy="0" rx="0.1" ry="0.07" fill="#e8c430"/></g><g transform="rotate(180)"><ellipse cx="0.98" cy="0" rx="0.1" ry="0.07" fill="#e8c430"/></g><g transform="rotate(210)"><ellipse cx="0.98" cy="0" rx="0.1" ry="0.07" fill="#e8c430"/></g><g transform="rotate(240)"><ellipse cx="0.98" cy="0" rx="0.1" ry="0.07" fill="#e8c430"/></g><g transform="rotate(-90)"><ellipse cx="0.98" cy="0" rx="0.04" ry="0.1" fill="#0a2060"/></g><g transform="rotate(-60)"><ellipse cx="0.98" cy="0" rx="0.04" ry="0.1" fill="#0a2060"/></g><g transform="rotate(-30)"><ellipse cx="0.98" cy="0" rx="0.04" ry="0.1" fill="#0a2060"/></g><g transform="rotate(0)"><ellipse cx="0.98" cy="0" rx="0.04" ry="0.1" fill="#0a2060"/></g><g transform="rotate(30)"><ellipse cx="0.98" cy="0" rx="0.04" ry="0.1" fill="#0a2060"/></g><g transform="rotate(60)"><ellipse cx="0.98" cy="0" rx="0.04" ry="0.1" fill="#0a2060"/></g><g transform="rotate(90)"><ellipse cx="0.98" cy="0" rx="0.04" ry="0.1" fill="#0a2060"/></g><g transform="rotate(120)"><ellipse cx="0.98" cy="0" rx="0.04" ry="0.1" fill="#0a2060"/></g><g transform="rotate(150)"><ellipse cx="0.98" cy="0" rx="0.04" ry="0.1" fill="#0a2060"/></g><g transform="rotate(180)"><ellipse cx="0.98" cy="0" rx="0.04" ry="0.1" fill="#0a2060"/></g><g transform="rotate(210)"><ellipse cx="0.98" cy="0" rx="0.04" ry="0.1" fill="#0a2060"/></g><g transform="rotate(240)"><ellipse cx="0.98" cy="0" rx="0.04" ry="0.1" fill="#0a2060"/></g><g transform="rotate(-75)"><ellipse cx="1.25" cy="0" rx="0.12" ry="0.16" fill="#2a7a48"/></g><g transform="rotate(-45)"><ellipse cx="1.25" cy="0" rx="0.12" ry="0.16" fill="#2a7a48"/></g><g transform="rotate(-15)"><ellipse cx="1.25" cy="0" rx="0.12" ry="0.16" fill="#2a7a48"/></g><g transform="rotate(15)"><ellipse cx="1.25" cy="0" rx="0.12" ry="0.16" fill="#2a7a48"/></g><g transform="rotate(45)"><ellipse cx="1.25" cy="0" rx="0.12" ry="0.16" fill="#2a7a48"/></g><g transform="rotate(75)"><ellipse cx="1.25" cy="0" rx="0.12" ry="0.16" fill="#2a7a48"/></g><g transform="rotate(105)"><ellipse cx="1.25" cy="0" rx="0.12" ry="0.16" fill="#2a7a48"/></g><g transform="rotate(135)"><ellipse cx="1.25" cy="0" rx="0.12" ry="0.16" fill="#2a7a48"/></g><g transform="rotate(165)"><ellipse cx="1.25" cy="0" rx="0.12" ry="0.16" fill="#2a7a48"/></g><g transform="rotate(195)"><ellipse cx="1.25" cy="0" rx="0.12" ry="0.16" fill="#2a7a48"/></g><g transform="rotate(225)"><ellipse cx="1.25" cy="0" rx="0.12" ry="0.16" fill="#2a7a48"/></g><g transform="rotate(255)"><ellipse cx="1.25" cy="0" rx="0.12" ry="0.16" fill="#2a7a48"/></g><g transform="rotate(-75)"><ellipse cx="1.22" cy="0" rx="0.05" ry="0.1" fill="#e8c430"/></g><g transform="rotate(-45)"><ellipse cx="1.22" cy="0" rx="0.05" ry="0.1" fill="#e8c430"/></g><g transform="rotate(-15)"><ellipse cx="1.22" cy="0" rx="0.05" ry="0.1" fill="#e8c430"/></g><g transform="rotate(15)"><ellipse cx="1.22" cy="0" rx="0.05" ry="0.1" fill="#e8c430"/></g><g transform="rotate(45)"><ellipse cx="1.22" cy="0" rx="0.05" ry="0.1" fill="#e8c430"/></g><g transform="rotate(75)"><ellipse cx="1.22" cy="0" rx="0.05" ry="0.1" fill="#e8c430"/></g><g transform="rotate(105)"><ellipse cx="1.22" cy="0" rx="0.05" ry="0.1" fill="#e8c430"/></g><g transform="rotate(135)"><ellipse cx="1.22" cy="0" rx="0.05" ry="0.1" fill="#e8c430"/></g><g transform="rotate(165)"><ellipse cx="1.22" cy="0" rx="0.05" ry="0.1" fill="#e8c430"/></g><g transform="rotate(195)"><ellipse cx="1.22" cy="0" rx="0.05" ry="0.1" fill="#e8c430"/></g><g transform="rotate(225)"><ellipse cx="1.22" cy="0" rx="0.05" ry="0.1" fill="#e8c430"/></g><g transform="rotate(255)"><ellipse cx="1.22" cy="0" rx="0.05" ry="0.1" fill="#e8c430"/></g><polygon points="0.207,-0.773 0.365,-0.632 0.566,-0.566 0.632,-0.365 0.773,-0.207 0.73,0 0.773,0.207 0.632,0.365 0.566,0.566 0.365,0.632 0.207,0.773 0,0.73 -0.207,0.773 -0.365,0.632 -0.566,0.566 -0.632,0.365 -0.773,0.207 -0.73,0 -0.773,-0.207 -0.632,-0.365 -0.566,-0.566 -0.365,-0.632 -0.207,-0.773 -0,-0.73" fill="#0a0a14"/><circle r="0.73" fill="#9ad8c8"/><circle r="0.7" fill="#1a4aa8"/><circle cx="0" cy="-0.56" r="0.12" fill="#0a2080"/><circle cx="0.28" cy="-0.485" r="0.12" fill="#0a2080"/><circle cx="0.485" cy="-0.28" r="0.12" fill="#0a2080"/><circle cx="0.56" cy="0" r="0.12" fill="#0a2080"/><circle cx="0.485" cy="0.28" r="0.12" fill="#0a2080"/><circle cx="0.28" cy="0.485" r="0.12" fill="#0a2080"/><circle cx="0" cy="0.56" r="0.12" fill="#0a2080"/><circle cx="-0.28" cy="0.485" r="0.12" fill="#0a2080"/><circle cx="-0.485" cy="0.28" r="0.12" fill="#0a2080"/><circle cx="-0.56" cy="0" r="0.12" fill="#0a2080"/><circle cx="-0.485" cy="-0.28" r="0.12" fill="#0a2080"/><circle cx="-0.28" cy="-0.485" r="0.12" fill="#0a2080"/><circle cx="0" cy="-0.58" r="0.05" fill="#5a90e0"/><circle cx="0.29" cy="-0.502" r="0.05" fill="#5a90e0"/><circle cx="0.502" cy="-0.29" r="0.05" fill="#5a90e0"/><circle cx="0.58" cy="0" r="0.05" fill="#5a90e0"/><circle cx="0.502" cy="0.29" r="0.05" fill="#5a90e0"/><circle cx="0.29" cy="0.502" r="0.05" fill="#5a90e0"/><circle cx="0" cy="0.58" r="0.05" fill="#5a90e0"/><circle cx="-0.29" cy="0.502" r="0.05" fill="#5a90e0"/><circle cx="-0.502" cy="0.29" r="0.05" fill="#5a90e0"/><circle cx="-0.58" cy="0" r="0.05" fill="#5a90e0"/><circle cx="-0.502" cy="-0.29" r="0.05" fill="#5a90e0"/><circle cx="-0.29" cy="-0.502" r="0.05" fill="#5a90e0"/><circle cx="0.155" cy="-0.58" r="0.1" fill="#0a2080"/><circle cx="0.424" cy="-0.424" r="0.1" fill="#0a2080"/><circle cx="0.58" cy="-0.155" r="0.1" fill="#0a2080"/><circle cx="0.58" cy="0.155" r="0.1" fill="#0a2080"/><circle cx="0.424" cy="0.424" r="0.1" fill="#0a2080"/><circle cx="0.155" cy="0.58" r="0.1" fill="#0a2080"/><circle cx="-0.155" cy="0.58" r="0.1" fill="#0a2080"/><circle cx="-0.424" cy="0.424" r="0.1" fill="#0a2080"/><circle cx="-0.58" cy="0.155" r="0.1" fill="#0a2080"/><circle cx="-0.58" cy="-0.155" r="0.1" fill="#0a2080"/><circle cx="-0.424" cy="-0.424" r="0.1" fill="#0a2080"/><circle cx="-0.155" cy="-0.58" r="0.1" fill="#0a2080"/><circle cx="0.16" cy="-0.599" r="0.04" fill="#4a80d8"/><circle cx="0.438" cy="-0.438" r="0.04" fill="#4a80d8"/><circle cx="0.599" cy="-0.16" r="0.04" fill="#4a80d8"/><circle cx="0.599" cy="0.16" r="0.04" fill="#4a80d8"/><circle cx="0.438" cy="0.438" r="0.04" fill="#4a80d8"/><circle cx="0.16" cy="0.599" r="0.04" fill="#4a80d8"/><circle cx="-0.16" cy="0.599" r="0.04" fill="#4a80d8"/><circle cx="-0.438" cy="0.438" r="0.04" fill="#4a80d8"/><circle cx="-0.599" cy="0.16" r="0.04" fill="#4a80d8"/><circle cx="-0.599" cy="-0.16" r="0.04" fill="#4a80d8"/><circle cx="-0.438" cy="-0.438" r="0.04" fill="#4a80d8"/><circle cx="-0.16" cy="-0.599" r="0.04" fill="#4a80d8"/><circle r="0.42" fill="#48a8e0"/><g transform="rotate(-75)"><path d="M0.1 0Q0.27 0.09 0.44 0Q0.27 -0.09 0.1 0Z" fill="#0a1850"/></g><g transform="rotate(-45)"><path d="M0.1 0Q0.27 0.09 0.44 0Q0.27 -0.09 0.1 0Z" fill="#0a1850"/></g><g transform="rotate(-15)"><path d="M0.1 0Q0.27 0.09 0.44 0Q0.27 -0.09 0.1 0Z" fill="#0a1850"/></g><g transform="rotate(15)"><path d="M0.1 0Q0.27 0.09 0.44 0Q0.27 -0.09 0.1 0Z" fill="#0a1850"/></g><g transform="rotate(45)"><path d="M0.1 0Q0.27 0.09 0.44 0Q0.27 -0.09 0.1 0Z" fill="#0a1850"/></g><g transform="rotate(75)"><path d="M0.1 0Q0.27 0.09 0.44 0Q0.27 -0.09 0.1 0Z" fill="#0a1850"/></g><g transform="rotate(105)"><path d="M0.1 0Q0.27 0.09 0.44 0Q0.27 -0.09 0.1 0Z" fill="#0a1850"/></g><g transform="rotate(135)"><path d="M0.1 0Q0.27 0.09 0.44 0Q0.27 -0.09 0.1 0Z" fill="#0a1850"/></g><g transform="rotate(165)"><path d="M0.1 0Q0.27 0.09 0.44 0Q0.27 -0.09 0.1 0Z" fill="#0a1850"/></g><g transform="rotate(195)"><path d="M0.1 0Q0.27 0.09 0.44 0Q0.27 -0.09 0.1 0Z" fill="#0a1850"/></g><g transform="rotate(225)"><path d="M0.1 0Q0.27 0.09 0.44 0Q0.27 -0.09 0.1 0Z" fill="#0a1850"/></g><g transform="rotate(255)"><path d="M0.1 0Q0.27 0.09 0.44 0Q0.27 -0.09 0.1 0Z" fill="#0a1850"/></g><g transform="rotate(-90)"><path d="M0.1 0Q0.25 0.075 0.4 0Q0.25 -0.075 0.1 0Z" fill="#4a8ee0" stroke="#0a1850" stroke-width="0.02"/></g><g transform="rotate(-60)"><path d="M0.1 0Q0.25 0.075 0.4 0Q0.25 -0.075 0.1 0Z" fill="#4a8ee0" stroke="#0a1850" stroke-width="0.02"/></g><g transform="rotate(-30)"><path d="M0.1 0Q0.25 0.075 0.4 0Q0.25 -0.075 0.1 0Z" fill="#4a8ee0" stroke="#0a1850" stroke-width="0.02"/></g><g transform="rotate(0)"><path d="M0.1 0Q0.25 0.075 0.4 0Q0.25 -0.075 0.1 0Z" fill="#4a8ee0" stroke="#0a1850" stroke-width="0.02"/></g><g transform="rotate(30)"><path d="M0.1 0Q0.25 0.075 0.4 0Q0.25 -0.075 0.1 0Z" fill="#4a8ee0" stroke="#0a1850" stroke-width="0.02"/></g><g transform="rotate(60)"><path d="M0.1 0Q0.25 0.075 0.4 0Q0.25 -0.075 0.1 0Z" fill="#4a8ee0" stroke="#0a1850" stroke-width="0.02"/></g><g transform="rotate(90)"><path d="M0.1 0Q0.25 0.075 0.4 0Q0.25 -0.075 0.1 0Z" fill="#4a8ee0" stroke="#0a1850" stroke-width="0.02"/></g><g transform="rotate(120)"><path d="M0.1 0Q0.25 0.075 0.4 0Q0.25 -0.075 0.1 0Z" fill="#4a8ee0" stroke="#0a1850" stroke-width="0.02"/></g><g transform="rotate(150)"><path d="M0.1 0Q0.25 0.075 0.4 0Q0.25 -0.075 0.1 0Z" fill="#4a8ee0" stroke="#0a1850" stroke-width="0.02"/></g><g transform="rotate(180)"><path d="M0.1 0Q0.25 0.075 0.4 0Q0.25 -0.075 0.1 0Z" fill="#4a8ee0" stroke="#0a1850" stroke-width="0.02"/></g><g transform="rotate(210)"><path d="M0.1 0Q0.25 0.075 0.4 0Q0.25 -0.075 0.1 0Z" fill="#4a8ee0" stroke="#0a1850" stroke-width="0.02"/></g><g transform="rotate(240)"><path d="M0.1 0Q0.25 0.075 0.4 0Q0.25 -0.075 0.1 0Z" fill="#4a8ee0" stroke="#0a1850" stroke-width="0.02"/></g><circle r="0.14" fill="#0a1a50"/><circle r="0.125" fill="#2aa4ee"/></symbol><symbol id="mG" viewBox="-1 -1 2 2" overflow="hidden"><rect x="-1.5" y="-1.5" width="3" height="3" fill="#3424c4"/><g transform="rotate(-90)"><ellipse cx="1" cy="0" rx="0.14" ry="0.125" fill="#f0a420" stroke="#8a80f0" stroke-width="0.015"/></g><g transform="rotate(-67.5)"><ellipse cx="1" cy="0" rx="0.14" ry="0.125" fill="#f0a420" stroke="#8a80f0" stroke-width="0.015"/></g><g transform="rotate(-45)"><ellipse cx="1" cy="0" rx="0.14" ry="0.125" fill="#f0a420" stroke="#8a80f0" stroke-width="0.015"/></g><g transform="rotate(-22.5)"><ellipse cx="1" cy="0" rx="0.14" ry="0.125" fill="#f0a420" stroke="#8a80f0" stroke-width="0.015"/></g><g transform="rotate(0)"><ellipse cx="1" cy="0" rx="0.14" ry="0.125" fill="#f0a420" stroke="#8a80f0" stroke-width="0.015"/></g><g transform="rotate(22.5)"><ellipse cx="1" cy="0" rx="0.14" ry="0.125" fill="#f0a420" stroke="#8a80f0" stroke-width="0.015"/></g><g transform="rotate(45)"><ellipse cx="1" cy="0" rx="0.14" ry="0.125" fill="#f0a420" stroke="#8a80f0" stroke-width="0.015"/></g><g transform="rotate(67.5)"><ellipse cx="1" cy="0" rx="0.14" ry="0.125" fill="#f0a420" stroke="#8a80f0" stroke-width="0.015"/></g><g transform="rotate(90)"><ellipse cx="1" cy="0" rx="0.14" ry="0.125" fill="#f0a420" stroke="#8a80f0" stroke-width="0.015"/></g><g transform="rotate(112.5)"><ellipse cx="1" cy="0" rx="0.14" ry="0.125" fill="#f0a420" stroke="#8a80f0" stroke-width="0.015"/></g><g transform="rotate(135)"><ellipse cx="1" cy="0" rx="0.14" ry="0.125" fill="#f0a420" stroke="#8a80f0" stroke-width="0.015"/></g><g transform="rotate(157.5)"><ellipse cx="1" cy="0" rx="0.14" ry="0.125" fill="#f0a420" stroke="#8a80f0" stroke-width="0.015"/></g><g transform="rotate(180)"><ellipse cx="1" cy="0" rx="0.14" ry="0.125" fill="#f0a420" stroke="#8a80f0" stroke-width="0.015"/></g><g transform="rotate(202.5)"><ellipse cx="1" cy="0" rx="0.14" ry="0.125" fill="#f0a420" stroke="#8a80f0" stroke-width="0.015"/></g><g transform="rotate(225)"><ellipse cx="1" cy="0" rx="0.14" ry="0.125" fill="#f0a420" stroke="#8a80f0" stroke-width="0.015"/></g><g transform="rotate(247.5)"><ellipse cx="1" cy="0" rx="0.14" ry="0.125" fill="#f0a420" stroke="#8a80f0" stroke-width="0.015"/></g><g transform="rotate(-78.75)"><ellipse cx="0.8" cy="0" rx="0.12" ry="0.1" fill="#f0b02a" stroke="#8a80f0" stroke-width="0.015"/></g><g transform="rotate(-56.25)"><ellipse cx="0.8" cy="0" rx="0.12" ry="0.1" fill="#f0b02a" stroke="#8a80f0" stroke-width="0.015"/></g><g transform="rotate(-33.75)"><ellipse cx="0.8" cy="0" rx="0.12" ry="0.1" fill="#f0b02a" stroke="#8a80f0" stroke-width="0.015"/></g><g transform="rotate(-11.25)"><ellipse cx="0.8" cy="0" rx="0.12" ry="0.1" fill="#f0b02a" stroke="#8a80f0" stroke-width="0.015"/></g><g transform="rotate(11.25)"><ellipse cx="0.8" cy="0" rx="0.12" ry="0.1" fill="#f0b02a" stroke="#8a80f0" stroke-width="0.015"/></g><g transform="rotate(33.75)"><ellipse cx="0.8" cy="0" rx="0.12" ry="0.1" fill="#f0b02a" stroke="#8a80f0" stroke-width="0.015"/></g><g transform="rotate(56.25)"><ellipse cx="0.8" cy="0" rx="0.12" ry="0.1" fill="#f0b02a" stroke="#8a80f0" stroke-width="0.015"/></g><g transform="rotate(78.75)"><ellipse cx="0.8" cy="0" rx="0.12" ry="0.1" fill="#f0b02a" stroke="#8a80f0" stroke-width="0.015"/></g><g transform="rotate(101.25)"><ellipse cx="0.8" cy="0" rx="0.12" ry="0.1" fill="#f0b02a" stroke="#8a80f0" stroke-width="0.015"/></g><g transform="rotate(123.75)"><ellipse cx="0.8" cy="0" rx="0.12" ry="0.1" fill="#f0b02a" stroke="#8a80f0" stroke-width="0.015"/></g><g transform="rotate(146.25)"><ellipse cx="0.8" cy="0" rx="0.12" ry="0.1" fill="#f0b02a" stroke="#8a80f0" stroke-width="0.015"/></g><g transform="rotate(168.75)"><ellipse cx="0.8" cy="0" rx="0.12" ry="0.1" fill="#f0b02a" stroke="#8a80f0" stroke-width="0.015"/></g><g transform="rotate(191.25)"><ellipse cx="0.8" cy="0" rx="0.12" ry="0.1" fill="#f0b02a" stroke="#8a80f0" stroke-width="0.015"/></g><g transform="rotate(213.75)"><ellipse cx="0.8" cy="0" rx="0.12" ry="0.1" fill="#f0b02a" stroke="#8a80f0" stroke-width="0.015"/></g><g transform="rotate(236.25)"><ellipse cx="0.8" cy="0" rx="0.12" ry="0.1" fill="#f0b02a" stroke="#8a80f0" stroke-width="0.015"/></g><g transform="rotate(258.75)"><ellipse cx="0.8" cy="0" rx="0.12" ry="0.1" fill="#f0b02a" stroke="#8a80f0" stroke-width="0.015"/></g><g transform="rotate(-78.75)"><ellipse cx="1.22" cy="0" rx="0.1" ry="0.09" fill="#f0a420"/></g><g transform="rotate(-56.25)"><ellipse cx="1.22" cy="0" rx="0.1" ry="0.09" fill="#f0a420"/></g><g transform="rotate(-33.75)"><ellipse cx="1.22" cy="0" rx="0.1" ry="0.09" fill="#f0a420"/></g><g transform="rotate(-11.25)"><ellipse cx="1.22" cy="0" rx="0.1" ry="0.09" fill="#f0a420"/></g><g transform="rotate(11.25)"><ellipse cx="1.22" cy="0" rx="0.1" ry="0.09" fill="#f0a420"/></g><g transform="rotate(33.75)"><ellipse cx="1.22" cy="0" rx="0.1" ry="0.09" fill="#f0a420"/></g><g transform="rotate(56.25)"><ellipse cx="1.22" cy="0" rx="0.1" ry="0.09" fill="#f0a420"/></g><g transform="rotate(78.75)"><ellipse cx="1.22" cy="0" rx="0.1" ry="0.09" fill="#f0a420"/></g><g transform="rotate(101.25)"><ellipse cx="1.22" cy="0" rx="0.1" ry="0.09" fill="#f0a420"/></g><g transform="rotate(123.75)"><ellipse cx="1.22" cy="0" rx="0.1" ry="0.09" fill="#f0a420"/></g><g transform="rotate(146.25)"><ellipse cx="1.22" cy="0" rx="0.1" ry="0.09" fill="#f0a420"/></g><g transform="rotate(168.75)"><ellipse cx="1.22" cy="0" rx="0.1" ry="0.09" fill="#f0a420"/></g><g transform="rotate(191.25)"><ellipse cx="1.22" cy="0" rx="0.1" ry="0.09" fill="#f0a420"/></g><g transform="rotate(213.75)"><ellipse cx="1.22" cy="0" rx="0.1" ry="0.09" fill="#f0a420"/></g><g transform="rotate(236.25)"><ellipse cx="1.22" cy="0" rx="0.1" ry="0.09" fill="#f0a420"/></g><g transform="rotate(258.75)"><ellipse cx="1.22" cy="0" rx="0.1" ry="0.09" fill="#f0a420"/></g><g transform="rotate(-90)"><ellipse cx="1" cy="0" rx="0.06" ry="0.025" fill="#1a1010"/></g><g transform="rotate(-67.5)"><ellipse cx="1" cy="0" rx="0.06" ry="0.025" fill="#1a1010"/></g><g transform="rotate(-45)"><ellipse cx="1" cy="0" rx="0.06" ry="0.025" fill="#1a1010"/></g><g transform="rotate(-22.5)"><ellipse cx="1" cy="0" rx="0.06" ry="0.025" fill="#1a1010"/></g><g transform="rotate(0)"><ellipse cx="1" cy="0" rx="0.06" ry="0.025" fill="#1a1010"/></g><g transform="rotate(22.5)"><ellipse cx="1" cy="0" rx="0.06" ry="0.025" fill="#1a1010"/></g><g transform="rotate(45)"><ellipse cx="1" cy="0" rx="0.06" ry="0.025" fill="#1a1010"/></g><g transform="rotate(67.5)"><ellipse cx="1" cy="0" rx="0.06" ry="0.025" fill="#1a1010"/></g><g transform="rotate(90)"><ellipse cx="1" cy="0" rx="0.06" ry="0.025" fill="#1a1010"/></g><g transform="rotate(112.5)"><ellipse cx="1" cy="0" rx="0.06" ry="0.025" fill="#1a1010"/></g><g transform="rotate(135)"><ellipse cx="1" cy="0" rx="0.06" ry="0.025" fill="#1a1010"/></g><g transform="rotate(157.5)"><ellipse cx="1" cy="0" rx="0.06" ry="0.025" fill="#1a1010"/></g><g transform="rotate(180)"><ellipse cx="1" cy="0" rx="0.06" ry="0.025" fill="#1a1010"/></g><g transform="rotate(202.5)"><ellipse cx="1" cy="0" rx="0.06" ry="0.025" fill="#1a1010"/></g><g transform="rotate(225)"><ellipse cx="1" cy="0" rx="0.06" ry="0.025" fill="#1a1010"/></g><g transform="rotate(247.5)"><ellipse cx="1" cy="0" rx="0.06" ry="0.025" fill="#1a1010"/></g><g transform="rotate(-78.75)"><ellipse cx="0.8" cy="0" rx="0.05" ry="0.022" fill="#1a1010"/></g><g transform="rotate(-56.25)"><ellipse cx="0.8" cy="0" rx="0.05" ry="0.022" fill="#1a1010"/></g><g transform="rotate(-33.75)"><ellipse cx="0.8" cy="0" rx="0.05" ry="0.022" fill="#1a1010"/></g><g transform="rotate(-11.25)"><ellipse cx="0.8" cy="0" rx="0.05" ry="0.022" fill="#1a1010"/></g><g transform="rotate(11.25)"><ellipse cx="0.8" cy="0" rx="0.05" ry="0.022" fill="#1a1010"/></g><g transform="rotate(33.75)"><ellipse cx="0.8" cy="0" rx="0.05" ry="0.022" fill="#1a1010"/></g><g transform="rotate(56.25)"><ellipse cx="0.8" cy="0" rx="0.05" ry="0.022" fill="#1a1010"/></g><g transform="rotate(78.75)"><ellipse cx="0.8" cy="0" rx="0.05" ry="0.022" fill="#1a1010"/></g><g transform="rotate(101.25)"><ellipse cx="0.8" cy="0" rx="0.05" ry="0.022" fill="#1a1010"/></g><g transform="rotate(123.75)"><ellipse cx="0.8" cy="0" rx="0.05" ry="0.022" fill="#1a1010"/></g><g transform="rotate(146.25)"><ellipse cx="0.8" cy="0" rx="0.05" ry="0.022" fill="#1a1010"/></g><g transform="rotate(168.75)"><ellipse cx="0.8" cy="0" rx="0.05" ry="0.022" fill="#1a1010"/></g><g transform="rotate(191.25)"><ellipse cx="0.8" cy="0" rx="0.05" ry="0.022" fill="#1a1010"/></g><g transform="rotate(213.75)"><ellipse cx="0.8" cy="0" rx="0.05" ry="0.022" fill="#1a1010"/></g><g transform="rotate(236.25)"><ellipse cx="0.8" cy="0" rx="0.05" ry="0.022" fill="#1a1010"/></g><g transform="rotate(258.75)"><ellipse cx="0.8" cy="0" rx="0.05" ry="0.022" fill="#1a1010"/></g><circle cx="0.429" cy="-1.035" r="0.05" fill="#7a70f0"/><circle cx="1.035" cy="-0.429" r="0.05" fill="#7a70f0"/><circle cx="1.035" cy="0.429" r="0.05" fill="#7a70f0"/><circle cx="0.429" cy="1.035" r="0.05" fill="#7a70f0"/><circle cx="-0.429" cy="1.035" r="0.05" fill="#7a70f0"/><circle cx="-1.035" cy="0.429" r="0.05" fill="#7a70f0"/><circle cx="-1.035" cy="-0.429" r="0.05" fill="#7a70f0"/><circle cx="-0.429" cy="-1.035" r="0.05" fill="#7a70f0"/><circle r="0.58" fill="none" stroke="#e8a020" stroke-width="0.22"/><g transform="rotate(-90)"><path d="M0.42 0Q0.58 0.11 0.74 0Q0.58 -0.11 0.42 0Z" fill="#0a0a14"/></g><g transform="rotate(-67.5)"><path d="M0.42 0Q0.58 0.11 0.74 0Q0.58 -0.11 0.42 0Z" fill="#0a0a14"/></g><g transform="rotate(-45)"><path d="M0.42 0Q0.58 0.11 0.74 0Q0.58 -0.11 0.42 0Z" fill="#0a0a14"/></g><g transform="rotate(-22.5)"><path d="M0.42 0Q0.58 0.11 0.74 0Q0.58 -0.11 0.42 0Z" fill="#0a0a14"/></g><g transform="rotate(0)"><path d="M0.42 0Q0.58 0.11 0.74 0Q0.58 -0.11 0.42 0Z" fill="#0a0a14"/></g><g transform="rotate(22.5)"><path d="M0.42 0Q0.58 0.11 0.74 0Q0.58 -0.11 0.42 0Z" fill="#0a0a14"/></g><g transform="rotate(45)"><path d="M0.42 0Q0.58 0.11 0.74 0Q0.58 -0.11 0.42 0Z" fill="#0a0a14"/></g><g transform="rotate(67.5)"><path d="M0.42 0Q0.58 0.11 0.74 0Q0.58 -0.11 0.42 0Z" fill="#0a0a14"/></g><g transform="rotate(90)"><path d="M0.42 0Q0.58 0.11 0.74 0Q0.58 -0.11 0.42 0Z" fill="#0a0a14"/></g><g transform="rotate(112.5)"><path d="M0.42 0Q0.58 0.11 0.74 0Q0.58 -0.11 0.42 0Z" fill="#0a0a14"/></g><g transform="rotate(135)"><path d="M0.42 0Q0.58 0.11 0.74 0Q0.58 -0.11 0.42 0Z" fill="#0a0a14"/></g><g transform="rotate(157.5)"><path d="M0.42 0Q0.58 0.11 0.74 0Q0.58 -0.11 0.42 0Z" fill="#0a0a14"/></g><g transform="rotate(180)"><path d="M0.42 0Q0.58 0.11 0.74 0Q0.58 -0.11 0.42 0Z" fill="#0a0a14"/></g><g transform="rotate(202.5)"><path d="M0.42 0Q0.58 0.11 0.74 0Q0.58 -0.11 0.42 0Z" fill="#0a0a14"/></g><g transform="rotate(225)"><path d="M0.42 0Q0.58 0.11 0.74 0Q0.58 -0.11 0.42 0Z" fill="#0a0a14"/></g><g transform="rotate(247.5)"><path d="M0.42 0Q0.58 0.11 0.74 0Q0.58 -0.11 0.42 0Z" fill="#0a0a14"/></g><g transform="rotate(-90)"><ellipse cx="0.6" cy="0" rx="0.035" ry="0.02" fill="#c0b880"/></g><g transform="rotate(-67.5)"><ellipse cx="0.6" cy="0" rx="0.035" ry="0.02" fill="#c0b880"/></g><g transform="rotate(-45)"><ellipse cx="0.6" cy="0" rx="0.035" ry="0.02" fill="#c0b880"/></g><g transform="rotate(-22.5)"><ellipse cx="0.6" cy="0" rx="0.035" ry="0.02" fill="#c0b880"/></g><g transform="rotate(0)"><ellipse cx="0.6" cy="0" rx="0.035" ry="0.02" fill="#c0b880"/></g><g transform="rotate(22.5)"><ellipse cx="0.6" cy="0" rx="0.035" ry="0.02" fill="#c0b880"/></g><g transform="rotate(45)"><ellipse cx="0.6" cy="0" rx="0.035" ry="0.02" fill="#c0b880"/></g><g transform="rotate(67.5)"><ellipse cx="0.6" cy="0" rx="0.035" ry="0.02" fill="#c0b880"/></g><g transform="rotate(90)"><ellipse cx="0.6" cy="0" rx="0.035" ry="0.02" fill="#c0b880"/></g><g transform="rotate(112.5)"><ellipse cx="0.6" cy="0" rx="0.035" ry="0.02" fill="#c0b880"/></g><g transform="rotate(135)"><ellipse cx="0.6" cy="0" rx="0.035" ry="0.02" fill="#c0b880"/></g><g transform="rotate(157.5)"><ellipse cx="0.6" cy="0" rx="0.035" ry="0.02" fill="#c0b880"/></g><g transform="rotate(180)"><ellipse cx="0.6" cy="0" rx="0.035" ry="0.02" fill="#c0b880"/></g><g transform="rotate(202.5)"><ellipse cx="0.6" cy="0" rx="0.035" ry="0.02" fill="#c0b880"/></g><g transform="rotate(225)"><ellipse cx="0.6" cy="0" rx="0.035" ry="0.02" fill="#c0b880"/></g><g transform="rotate(247.5)"><ellipse cx="0.6" cy="0" rx="0.035" ry="0.02" fill="#c0b880"/></g><circle r="0.47" fill="#3040d0"/><g transform="rotate(-78.75)"><path d="M0.26 0Q0.37 0.06 0.48 0Q0.37 -0.06 0.26 0Z" fill="#a8a0f8"/></g><g transform="rotate(-56.25)"><path d="M0.26 0Q0.37 0.06 0.48 0Q0.37 -0.06 0.26 0Z" fill="#a8a0f8"/></g><g transform="rotate(-33.75)"><path d="M0.26 0Q0.37 0.06 0.48 0Q0.37 -0.06 0.26 0Z" fill="#a8a0f8"/></g><g transform="rotate(-11.25)"><path d="M0.26 0Q0.37 0.06 0.48 0Q0.37 -0.06 0.26 0Z" fill="#a8a0f8"/></g><g transform="rotate(11.25)"><path d="M0.26 0Q0.37 0.06 0.48 0Q0.37 -0.06 0.26 0Z" fill="#a8a0f8"/></g><g transform="rotate(33.75)"><path d="M0.26 0Q0.37 0.06 0.48 0Q0.37 -0.06 0.26 0Z" fill="#a8a0f8"/></g><g transform="rotate(56.25)"><path d="M0.26 0Q0.37 0.06 0.48 0Q0.37 -0.06 0.26 0Z" fill="#a8a0f8"/></g><g transform="rotate(78.75)"><path d="M0.26 0Q0.37 0.06 0.48 0Q0.37 -0.06 0.26 0Z" fill="#a8a0f8"/></g><g transform="rotate(101.25)"><path d="M0.26 0Q0.37 0.06 0.48 0Q0.37 -0.06 0.26 0Z" fill="#a8a0f8"/></g><g transform="rotate(123.75)"><path d="M0.26 0Q0.37 0.06 0.48 0Q0.37 -0.06 0.26 0Z" fill="#a8a0f8"/></g><g transform="rotate(146.25)"><path d="M0.26 0Q0.37 0.06 0.48 0Q0.37 -0.06 0.26 0Z" fill="#a8a0f8"/></g><g transform="rotate(168.75)"><path d="M0.26 0Q0.37 0.06 0.48 0Q0.37 -0.06 0.26 0Z" fill="#a8a0f8"/></g><g transform="rotate(191.25)"><path d="M0.26 0Q0.37 0.06 0.48 0Q0.37 -0.06 0.26 0Z" fill="#a8a0f8"/></g><g transform="rotate(213.75)"><path d="M0.26 0Q0.37 0.06 0.48 0Q0.37 -0.06 0.26 0Z" fill="#a8a0f8"/></g><g transform="rotate(236.25)"><path d="M0.26 0Q0.37 0.06 0.48 0Q0.37 -0.06 0.26 0Z" fill="#a8a0f8"/></g><g transform="rotate(258.75)"><path d="M0.26 0Q0.37 0.06 0.48 0Q0.37 -0.06 0.26 0Z" fill="#a8a0f8"/></g><g transform="rotate(-90)"><path d="M0.12 0Q0.23 0.075 0.34 0Q0.23 -0.075 0.12 0Z" fill="#f4ec28"/></g><g transform="rotate(-72)"><path d="M0.12 0Q0.23 0.075 0.34 0Q0.23 -0.075 0.12 0Z" fill="#f4ec28"/></g><g transform="rotate(-54)"><path d="M0.12 0Q0.23 0.075 0.34 0Q0.23 -0.075 0.12 0Z" fill="#f4ec28"/></g><g transform="rotate(-36)"><path d="M0.12 0Q0.23 0.075 0.34 0Q0.23 -0.075 0.12 0Z" fill="#f4ec28"/></g><g transform="rotate(-18)"><path d="M0.12 0Q0.23 0.075 0.34 0Q0.23 -0.075 0.12 0Z" fill="#f4ec28"/></g><g transform="rotate(0)"><path d="M0.12 0Q0.23 0.075 0.34 0Q0.23 -0.075 0.12 0Z" fill="#f4ec28"/></g><g transform="rotate(18)"><path d="M0.12 0Q0.23 0.075 0.34 0Q0.23 -0.075 0.12 0Z" fill="#f4ec28"/></g><g transform="rotate(36)"><path d="M0.12 0Q0.23 0.075 0.34 0Q0.23 -0.075 0.12 0Z" fill="#f4ec28"/></g><g transform="rotate(54)"><path d="M0.12 0Q0.23 0.075 0.34 0Q0.23 -0.075 0.12 0Z" fill="#f4ec28"/></g><g transform="rotate(72)"><path d="M0.12 0Q0.23 0.075 0.34 0Q0.23 -0.075 0.12 0Z" fill="#f4ec28"/></g><g transform="rotate(90)"><path d="M0.12 0Q0.23 0.075 0.34 0Q0.23 -0.075 0.12 0Z" fill="#f4ec28"/></g><g transform="rotate(108)"><path d="M0.12 0Q0.23 0.075 0.34 0Q0.23 -0.075 0.12 0Z" fill="#f4ec28"/></g><g transform="rotate(126)"><path d="M0.12 0Q0.23 0.075 0.34 0Q0.23 -0.075 0.12 0Z" fill="#f4ec28"/></g><g transform="rotate(144)"><path d="M0.12 0Q0.23 0.075 0.34 0Q0.23 -0.075 0.12 0Z" fill="#f4ec28"/></g><g transform="rotate(162)"><path d="M0.12 0Q0.23 0.075 0.34 0Q0.23 -0.075 0.12 0Z" fill="#f4ec28"/></g><g transform="rotate(180)"><path d="M0.12 0Q0.23 0.075 0.34 0Q0.23 -0.075 0.12 0Z" fill="#f4ec28"/></g><g transform="rotate(198)"><path d="M0.12 0Q0.23 0.075 0.34 0Q0.23 -0.075 0.12 0Z" fill="#f4ec28"/></g><g transform="rotate(216)"><path d="M0.12 0Q0.23 0.075 0.34 0Q0.23 -0.075 0.12 0Z" fill="#f4ec28"/></g><g transform="rotate(234)"><path d="M0.12 0Q0.23 0.075 0.34 0Q0.23 -0.075 0.12 0Z" fill="#f4ec28"/></g><g transform="rotate(252)"><path d="M0.12 0Q0.23 0.075 0.34 0Q0.23 -0.075 0.12 0Z" fill="#f4ec28"/></g><circle r="0.17" fill="#f0e830"/><circle r="0.14" fill="#2848d8"/><circle r="0.07" fill="none" stroke="#e8f040" stroke-width="0.025"/><circle r="0.055" fill="#30a8d0"/></symbol><symbol id="mH" viewBox="-1 -1 2 2" overflow="hidden"><rect x="-1.5" y="-1.5" width="3" height="3" fill="#0a1a8a"/><circle cx="0.259" cy="-0.966" r="0.29" fill="#20c068"/><circle cx="0.707" cy="-0.707" r="0.29" fill="#20c068"/><circle cx="0.966" cy="-0.259" r="0.29" fill="#20c068"/><circle cx="0.966" cy="0.259" r="0.29" fill="#20c068"/><circle cx="0.707" cy="0.707" r="0.29" fill="#20c068"/><circle cx="0.259" cy="0.966" r="0.29" fill="#20c068"/><circle cx="-0.259" cy="0.966" r="0.29" fill="#20c068"/><circle cx="-0.707" cy="0.707" r="0.29" fill="#20c068"/><circle cx="-0.966" cy="0.259" r="0.29" fill="#20c068"/><circle cx="-0.966" cy="-0.259" r="0.29" fill="#20c068"/><circle cx="-0.707" cy="-0.707" r="0.29" fill="#20c068"/><circle cx="-0.259" cy="-0.966" r="0.29" fill="#20c068"/><circle cx="0.259" cy="-0.966" r="0.22" fill="#2058d8"/><circle cx="0.707" cy="-0.707" r="0.22" fill="#2058d8"/><circle cx="0.966" cy="-0.259" r="0.22" fill="#2058d8"/><circle cx="0.966" cy="0.259" r="0.22" fill="#2058d8"/><circle cx="0.707" cy="0.707" r="0.22" fill="#2058d8"/><circle cx="0.259" cy="0.966" r="0.22" fill="#2058d8"/><circle cx="-0.259" cy="0.966" r="0.22" fill="#2058d8"/><circle cx="-0.707" cy="0.707" r="0.22" fill="#2058d8"/><circle cx="-0.966" cy="0.259" r="0.22" fill="#2058d8"/><circle cx="-0.966" cy="-0.259" r="0.22" fill="#2058d8"/><circle cx="-0.707" cy="-0.707" r="0.22" fill="#2058d8"/><circle cx="-0.259" cy="-0.966" r="0.22" fill="#2058d8"/><circle cx="0.259" cy="-0.966" r="0.11" fill="#1a40b8"/><circle cx="0.707" cy="-0.707" r="0.11" fill="#1a40b8"/><circle cx="0.966" cy="-0.259" r="0.11" fill="#1a40b8"/><circle cx="0.966" cy="0.259" r="0.11" fill="#1a40b8"/><circle cx="0.707" cy="0.707" r="0.11" fill="#1a40b8"/><circle cx="0.259" cy="0.966" r="0.11" fill="#1a40b8"/><circle cx="-0.259" cy="0.966" r="0.11" fill="#1a40b8"/><circle cx="-0.707" cy="0.707" r="0.11" fill="#1a40b8"/><circle cx="-0.966" cy="0.259" r="0.11" fill="#1a40b8"/><circle cx="-0.966" cy="-0.259" r="0.11" fill="#1a40b8"/><circle cx="-0.707" cy="-0.707" r="0.11" fill="#1a40b8"/><circle cx="-0.259" cy="-0.966" r="0.11" fill="#1a40b8"/><circle r="0.74" fill="#1238b8"/><g transform="rotate(-75)"><path d="M0.34 0Q0.6 0.07 0.86 0Q0.6 -0.07 0.34 0Z" fill="#30e0f4"/></g><g transform="rotate(-45)"><path d="M0.34 0Q0.6 0.07 0.86 0Q0.6 -0.07 0.34 0Z" fill="#30e0f4"/></g><g transform="rotate(-15)"><path d="M0.34 0Q0.6 0.07 0.86 0Q0.6 -0.07 0.34 0Z" fill="#30e0f4"/></g><g transform="rotate(15)"><path d="M0.34 0Q0.6 0.07 0.86 0Q0.6 -0.07 0.34 0Z" fill="#30e0f4"/></g><g transform="rotate(45)"><path d="M0.34 0Q0.6 0.07 0.86 0Q0.6 -0.07 0.34 0Z" fill="#30e0f4"/></g><g transform="rotate(75)"><path d="M0.34 0Q0.6 0.07 0.86 0Q0.6 -0.07 0.34 0Z" fill="#30e0f4"/></g><g transform="rotate(105)"><path d="M0.34 0Q0.6 0.07 0.86 0Q0.6 -0.07 0.34 0Z" fill="#30e0f4"/></g><g transform="rotate(135)"><path d="M0.34 0Q0.6 0.07 0.86 0Q0.6 -0.07 0.34 0Z" fill="#30e0f4"/></g><g transform="rotate(165)"><path d="M0.34 0Q0.6 0.07 0.86 0Q0.6 -0.07 0.34 0Z" fill="#30e0f4"/></g><g transform="rotate(195)"><path d="M0.34 0Q0.6 0.07 0.86 0Q0.6 -0.07 0.34 0Z" fill="#30e0f4"/></g><g transform="rotate(225)"><path d="M0.34 0Q0.6 0.07 0.86 0Q0.6 -0.07 0.34 0Z" fill="#30e0f4"/></g><g transform="rotate(255)"><path d="M0.34 0Q0.6 0.07 0.86 0Q0.6 -0.07 0.34 0Z" fill="#30e0f4"/></g><g transform="rotate(-82.5)"><path d="M0.34 0Q0.48 0.03 0.62 0Q0.48 -0.03 0.34 0Z" fill="#28c8f0"/></g><g transform="rotate(-67.5)"><path d="M0.34 0Q0.48 0.03 0.62 0Q0.48 -0.03 0.34 0Z" fill="#28c8f0"/></g><g transform="rotate(-52.5)"><path d="M0.34 0Q0.48 0.03 0.62 0Q0.48 -0.03 0.34 0Z" fill="#28c8f0"/></g><g transform="rotate(-37.5)"><path d="M0.34 0Q0.48 0.03 0.62 0Q0.48 -0.03 0.34 0Z" fill="#28c8f0"/></g><g transform="rotate(-22.5)"><path d="M0.34 0Q0.48 0.03 0.62 0Q0.48 -0.03 0.34 0Z" fill="#28c8f0"/></g><g transform="rotate(-7.5)"><path d="M0.34 0Q0.48 0.03 0.62 0Q0.48 -0.03 0.34 0Z" fill="#28c8f0"/></g><g transform="rotate(7.5)"><path d="M0.34 0Q0.48 0.03 0.62 0Q0.48 -0.03 0.34 0Z" fill="#28c8f0"/></g><g transform="rotate(22.5)"><path d="M0.34 0Q0.48 0.03 0.62 0Q0.48 -0.03 0.34 0Z" fill="#28c8f0"/></g><g transform="rotate(37.5)"><path d="M0.34 0Q0.48 0.03 0.62 0Q0.48 -0.03 0.34 0Z" fill="#28c8f0"/></g><g transform="rotate(52.5)"><path d="M0.34 0Q0.48 0.03 0.62 0Q0.48 -0.03 0.34 0Z" fill="#28c8f0"/></g><g transform="rotate(67.5)"><path d="M0.34 0Q0.48 0.03 0.62 0Q0.48 -0.03 0.34 0Z" fill="#28c8f0"/></g><g transform="rotate(82.5)"><path d="M0.34 0Q0.48 0.03 0.62 0Q0.48 -0.03 0.34 0Z" fill="#28c8f0"/></g><g transform="rotate(97.5)"><path d="M0.34 0Q0.48 0.03 0.62 0Q0.48 -0.03 0.34 0Z" fill="#28c8f0"/></g><g transform="rotate(112.5)"><path d="M0.34 0Q0.48 0.03 0.62 0Q0.48 -0.03 0.34 0Z" fill="#28c8f0"/></g><g transform="rotate(127.5)"><path d="M0.34 0Q0.48 0.03 0.62 0Q0.48 -0.03 0.34 0Z" fill="#28c8f0"/></g><g transform="rotate(142.5)"><path d="M0.34 0Q0.48 0.03 0.62 0Q0.48 -0.03 0.34 0Z" fill="#28c8f0"/></g><g transform="rotate(157.5)"><path d="M0.34 0Q0.48 0.03 0.62 0Q0.48 -0.03 0.34 0Z" fill="#28c8f0"/></g><g transform="rotate(172.5)"><path d="M0.34 0Q0.48 0.03 0.62 0Q0.48 -0.03 0.34 0Z" fill="#28c8f0"/></g><g transform="rotate(187.5)"><path d="M0.34 0Q0.48 0.03 0.62 0Q0.48 -0.03 0.34 0Z" fill="#28c8f0"/></g><g transform="rotate(202.5)"><path d="M0.34 0Q0.48 0.03 0.62 0Q0.48 -0.03 0.34 0Z" fill="#28c8f0"/></g><g transform="rotate(217.5)"><path d="M0.34 0Q0.48 0.03 0.62 0Q0.48 -0.03 0.34 0Z" fill="#28c8f0"/></g><g transform="rotate(232.5)"><path d="M0.34 0Q0.48 0.03 0.62 0Q0.48 -0.03 0.34 0Z" fill="#28c8f0"/></g><g transform="rotate(247.5)"><path d="M0.34 0Q0.48 0.03 0.62 0Q0.48 -0.03 0.34 0Z" fill="#28c8f0"/></g><g transform="rotate(262.5)"><path d="M0.34 0Q0.48 0.03 0.62 0Q0.48 -0.03 0.34 0Z" fill="#28c8f0"/></g><g transform="rotate(-90)"><path d="M0.4 0Q0.56 0.12 0.72 0Q0.56 -0.12 0.4 0Z" fill="#0c0c88" stroke="#22a868" stroke-width="0.025"/></g><g transform="rotate(-60)"><path d="M0.4 0Q0.56 0.12 0.72 0Q0.56 -0.12 0.4 0Z" fill="#0c0c88" stroke="#22a868" stroke-width="0.025"/></g><g transform="rotate(-30)"><path d="M0.4 0Q0.56 0.12 0.72 0Q0.56 -0.12 0.4 0Z" fill="#0c0c88" stroke="#22a868" stroke-width="0.025"/></g><g transform="rotate(0)"><path d="M0.4 0Q0.56 0.12 0.72 0Q0.56 -0.12 0.4 0Z" fill="#0c0c88" stroke="#22a868" stroke-width="0.025"/></g><g transform="rotate(30)"><path d="M0.4 0Q0.56 0.12 0.72 0Q0.56 -0.12 0.4 0Z" fill="#0c0c88" stroke="#22a868" stroke-width="0.025"/></g><g transform="rotate(60)"><path d="M0.4 0Q0.56 0.12 0.72 0Q0.56 -0.12 0.4 0Z" fill="#0c0c88" stroke="#22a868" stroke-width="0.025"/></g><g transform="rotate(90)"><path d="M0.4 0Q0.56 0.12 0.72 0Q0.56 -0.12 0.4 0Z" fill="#0c0c88" stroke="#22a868" stroke-width="0.025"/></g><g transform="rotate(120)"><path d="M0.4 0Q0.56 0.12 0.72 0Q0.56 -0.12 0.4 0Z" fill="#0c0c88" stroke="#22a868" stroke-width="0.025"/></g><g transform="rotate(150)"><path d="M0.4 0Q0.56 0.12 0.72 0Q0.56 -0.12 0.4 0Z" fill="#0c0c88" stroke="#22a868" stroke-width="0.025"/></g><g transform="rotate(180)"><path d="M0.4 0Q0.56 0.12 0.72 0Q0.56 -0.12 0.4 0Z" fill="#0c0c88" stroke="#22a868" stroke-width="0.025"/></g><g transform="rotate(210)"><path d="M0.4 0Q0.56 0.12 0.72 0Q0.56 -0.12 0.4 0Z" fill="#0c0c88" stroke="#22a868" stroke-width="0.025"/></g><g transform="rotate(240)"><path d="M0.4 0Q0.56 0.12 0.72 0Q0.56 -0.12 0.4 0Z" fill="#0c0c88" stroke="#22a868" stroke-width="0.025"/></g><circle r="0.36" fill="#1a60e0"/><circle r="0.33" fill="#040a18"/><g transform="rotate(-90)"><path d="M0.1 0Q0.22 0.06 0.34 0Q0.22 -0.06 0.1 0Z" fill="#40d868" stroke="#0a3020" stroke-width="0.012"/></g><g transform="rotate(-67.5)"><path d="M0.1 0Q0.22 0.06 0.34 0Q0.22 -0.06 0.1 0Z" fill="#40d868" stroke="#0a3020" stroke-width="0.012"/></g><g transform="rotate(-45)"><path d="M0.1 0Q0.22 0.06 0.34 0Q0.22 -0.06 0.1 0Z" fill="#40d868" stroke="#0a3020" stroke-width="0.012"/></g><g transform="rotate(-22.5)"><path d="M0.1 0Q0.22 0.06 0.34 0Q0.22 -0.06 0.1 0Z" fill="#40d868" stroke="#0a3020" stroke-width="0.012"/></g><g transform="rotate(0)"><path d="M0.1 0Q0.22 0.06 0.34 0Q0.22 -0.06 0.1 0Z" fill="#40d868" stroke="#0a3020" stroke-width="0.012"/></g><g transform="rotate(22.5)"><path d="M0.1 0Q0.22 0.06 0.34 0Q0.22 -0.06 0.1 0Z" fill="#40d868" stroke="#0a3020" stroke-width="0.012"/></g><g transform="rotate(45)"><path d="M0.1 0Q0.22 0.06 0.34 0Q0.22 -0.06 0.1 0Z" fill="#40d868" stroke="#0a3020" stroke-width="0.012"/></g><g transform="rotate(67.5)"><path d="M0.1 0Q0.22 0.06 0.34 0Q0.22 -0.06 0.1 0Z" fill="#40d868" stroke="#0a3020" stroke-width="0.012"/></g><g transform="rotate(90)"><path d="M0.1 0Q0.22 0.06 0.34 0Q0.22 -0.06 0.1 0Z" fill="#40d868" stroke="#0a3020" stroke-width="0.012"/></g><g transform="rotate(112.5)"><path d="M0.1 0Q0.22 0.06 0.34 0Q0.22 -0.06 0.1 0Z" fill="#40d868" stroke="#0a3020" stroke-width="0.012"/></g><g transform="rotate(135)"><path d="M0.1 0Q0.22 0.06 0.34 0Q0.22 -0.06 0.1 0Z" fill="#40d868" stroke="#0a3020" stroke-width="0.012"/></g><g transform="rotate(157.5)"><path d="M0.1 0Q0.22 0.06 0.34 0Q0.22 -0.06 0.1 0Z" fill="#40d868" stroke="#0a3020" stroke-width="0.012"/></g><g transform="rotate(180)"><path d="M0.1 0Q0.22 0.06 0.34 0Q0.22 -0.06 0.1 0Z" fill="#40d868" stroke="#0a3020" stroke-width="0.012"/></g><g transform="rotate(202.5)"><path d="M0.1 0Q0.22 0.06 0.34 0Q0.22 -0.06 0.1 0Z" fill="#40d868" stroke="#0a3020" stroke-width="0.012"/></g><g transform="rotate(225)"><path d="M0.1 0Q0.22 0.06 0.34 0Q0.22 -0.06 0.1 0Z" fill="#40d868" stroke="#0a3020" stroke-width="0.012"/></g><g transform="rotate(247.5)"><path d="M0.1 0Q0.22 0.06 0.34 0Q0.22 -0.06 0.1 0Z" fill="#40d868" stroke="#0a3020" stroke-width="0.012"/></g><circle r="0.1" fill="#20e060"/><circle r="0.07" fill="#189aa0"/></symbol><symbol id="mI" viewBox="-1 -1 2 2" overflow="hidden"><rect x="-1.5" y="-1.5" width="3" height="3" fill="#1a4a78"/><g transform="rotate(-82.5)"><path d="M0.78 0Q1.14 0.12 1.5 0Q1.14 -0.12 0.78 0Z" fill="#d8dc98" stroke="#8a4a2a" stroke-width="0.02"/></g><g transform="rotate(-67.5)"><path d="M0.78 0Q1.14 0.12 1.5 0Q1.14 -0.12 0.78 0Z" fill="#d8dc98" stroke="#8a4a2a" stroke-width="0.02"/></g><g transform="rotate(-52.5)"><path d="M0.78 0Q1.14 0.12 1.5 0Q1.14 -0.12 0.78 0Z" fill="#d8dc98" stroke="#8a4a2a" stroke-width="0.02"/></g><g transform="rotate(-37.5)"><path d="M0.78 0Q1.14 0.12 1.5 0Q1.14 -0.12 0.78 0Z" fill="#d8dc98" stroke="#8a4a2a" stroke-width="0.02"/></g><g transform="rotate(-22.5)"><path d="M0.78 0Q1.14 0.12 1.5 0Q1.14 -0.12 0.78 0Z" fill="#d8dc98" stroke="#8a4a2a" stroke-width="0.02"/></g><g transform="rotate(-7.5)"><path d="M0.78 0Q1.14 0.12 1.5 0Q1.14 -0.12 0.78 0Z" fill="#d8dc98" stroke="#8a4a2a" stroke-width="0.02"/></g><g transform="rotate(7.5)"><path d="M0.78 0Q1.14 0.12 1.5 0Q1.14 -0.12 0.78 0Z" fill="#d8dc98" stroke="#8a4a2a" stroke-width="0.02"/></g><g transform="rotate(22.5)"><path d="M0.78 0Q1.14 0.12 1.5 0Q1.14 -0.12 0.78 0Z" fill="#d8dc98" stroke="#8a4a2a" stroke-width="0.02"/></g><g transform="rotate(37.5)"><path d="M0.78 0Q1.14 0.12 1.5 0Q1.14 -0.12 0.78 0Z" fill="#d8dc98" stroke="#8a4a2a" stroke-width="0.02"/></g><g transform="rotate(52.5)"><path d="M0.78 0Q1.14 0.12 1.5 0Q1.14 -0.12 0.78 0Z" fill="#d8dc98" stroke="#8a4a2a" stroke-width="0.02"/></g><g transform="rotate(67.5)"><path d="M0.78 0Q1.14 0.12 1.5 0Q1.14 -0.12 0.78 0Z" fill="#d8dc98" stroke="#8a4a2a" stroke-width="0.02"/></g><g transform="rotate(82.5)"><path d="M0.78 0Q1.14 0.12 1.5 0Q1.14 -0.12 0.78 0Z" fill="#d8dc98" stroke="#8a4a2a" stroke-width="0.02"/></g><g transform="rotate(97.5)"><path d="M0.78 0Q1.14 0.12 1.5 0Q1.14 -0.12 0.78 0Z" fill="#d8dc98" stroke="#8a4a2a" stroke-width="0.02"/></g><g transform="rotate(112.5)"><path d="M0.78 0Q1.14 0.12 1.5 0Q1.14 -0.12 0.78 0Z" fill="#d8dc98" stroke="#8a4a2a" stroke-width="0.02"/></g><g transform="rotate(127.5)"><path d="M0.78 0Q1.14 0.12 1.5 0Q1.14 -0.12 0.78 0Z" fill="#d8dc98" stroke="#8a4a2a" stroke-width="0.02"/></g><g transform="rotate(142.5)"><path d="M0.78 0Q1.14 0.12 1.5 0Q1.14 -0.12 0.78 0Z" fill="#d8dc98" stroke="#8a4a2a" stroke-width="0.02"/></g><g transform="rotate(157.5)"><path d="M0.78 0Q1.14 0.12 1.5 0Q1.14 -0.12 0.78 0Z" fill="#d8dc98" stroke="#8a4a2a" stroke-width="0.02"/></g><g transform="rotate(172.5)"><path d="M0.78 0Q1.14 0.12 1.5 0Q1.14 -0.12 0.78 0Z" fill="#d8dc98" stroke="#8a4a2a" stroke-width="0.02"/></g><g transform="rotate(187.5)"><path d="M0.78 0Q1.14 0.12 1.5 0Q1.14 -0.12 0.78 0Z" fill="#d8dc98" stroke="#8a4a2a" stroke-width="0.02"/></g><g transform="rotate(202.5)"><path d="M0.78 0Q1.14 0.12 1.5 0Q1.14 -0.12 0.78 0Z" fill="#d8dc98" stroke="#8a4a2a" stroke-width="0.02"/></g><g transform="rotate(217.5)"><path d="M0.78 0Q1.14 0.12 1.5 0Q1.14 -0.12 0.78 0Z" fill="#d8dc98" stroke="#8a4a2a" stroke-width="0.02"/></g><g transform="rotate(232.5)"><path d="M0.78 0Q1.14 0.12 1.5 0Q1.14 -0.12 0.78 0Z" fill="#d8dc98" stroke="#8a4a2a" stroke-width="0.02"/></g><g transform="rotate(247.5)"><path d="M0.78 0Q1.14 0.12 1.5 0Q1.14 -0.12 0.78 0Z" fill="#d8dc98" stroke="#8a4a2a" stroke-width="0.02"/></g><g transform="rotate(262.5)"><path d="M0.78 0Q1.14 0.12 1.5 0Q1.14 -0.12 0.78 0Z" fill="#d8dc98" stroke="#8a4a2a" stroke-width="0.02"/></g><g transform="rotate(-82.5)"><path d="M0.9 0Q1.1 0.035 1.3 0Q1.1 -0.035 0.9 0Z" fill="#a05a30"/></g><g transform="rotate(-67.5)"><path d="M0.9 0Q1.1 0.035 1.3 0Q1.1 -0.035 0.9 0Z" fill="#a05a30"/></g><g transform="rotate(-52.5)"><path d="M0.9 0Q1.1 0.035 1.3 0Q1.1 -0.035 0.9 0Z" fill="#a05a30"/></g><g transform="rotate(-37.5)"><path d="M0.9 0Q1.1 0.035 1.3 0Q1.1 -0.035 0.9 0Z" fill="#a05a30"/></g><g transform="rotate(-22.5)"><path d="M0.9 0Q1.1 0.035 1.3 0Q1.1 -0.035 0.9 0Z" fill="#a05a30"/></g><g transform="rotate(-7.5)"><path d="M0.9 0Q1.1 0.035 1.3 0Q1.1 -0.035 0.9 0Z" fill="#a05a30"/></g><g transform="rotate(7.5)"><path d="M0.9 0Q1.1 0.035 1.3 0Q1.1 -0.035 0.9 0Z" fill="#a05a30"/></g><g transform="rotate(22.5)"><path d="M0.9 0Q1.1 0.035 1.3 0Q1.1 -0.035 0.9 0Z" fill="#a05a30"/></g><g transform="rotate(37.5)"><path d="M0.9 0Q1.1 0.035 1.3 0Q1.1 -0.035 0.9 0Z" fill="#a05a30"/></g><g transform="rotate(52.5)"><path d="M0.9 0Q1.1 0.035 1.3 0Q1.1 -0.035 0.9 0Z" fill="#a05a30"/></g><g transform="rotate(67.5)"><path d="M0.9 0Q1.1 0.035 1.3 0Q1.1 -0.035 0.9 0Z" fill="#a05a30"/></g><g transform="rotate(82.5)"><path d="M0.9 0Q1.1 0.035 1.3 0Q1.1 -0.035 0.9 0Z" fill="#a05a30"/></g><g transform="rotate(97.5)"><path d="M0.9 0Q1.1 0.035 1.3 0Q1.1 -0.035 0.9 0Z" fill="#a05a30"/></g><g transform="rotate(112.5)"><path d="M0.9 0Q1.1 0.035 1.3 0Q1.1 -0.035 0.9 0Z" fill="#a05a30"/></g><g transform="rotate(127.5)"><path d="M0.9 0Q1.1 0.035 1.3 0Q1.1 -0.035 0.9 0Z" fill="#a05a30"/></g><g transform="rotate(142.5)"><path d="M0.9 0Q1.1 0.035 1.3 0Q1.1 -0.035 0.9 0Z" fill="#a05a30"/></g><g transform="rotate(157.5)"><path d="M0.9 0Q1.1 0.035 1.3 0Q1.1 -0.035 0.9 0Z" fill="#a05a30"/></g><g transform="rotate(172.5)"><path d="M0.9 0Q1.1 0.035 1.3 0Q1.1 -0.035 0.9 0Z" fill="#a05a30"/></g><g transform="rotate(187.5)"><path d="M0.9 0Q1.1 0.035 1.3 0Q1.1 -0.035 0.9 0Z" fill="#a05a30"/></g><g transform="rotate(202.5)"><path d="M0.9 0Q1.1 0.035 1.3 0Q1.1 -0.035 0.9 0Z" fill="#a05a30"/></g><g transform="rotate(217.5)"><path d="M0.9 0Q1.1 0.035 1.3 0Q1.1 -0.035 0.9 0Z" fill="#a05a30"/></g><g transform="rotate(232.5)"><path d="M0.9 0Q1.1 0.035 1.3 0Q1.1 -0.035 0.9 0Z" fill="#a05a30"/></g><g transform="rotate(247.5)"><path d="M0.9 0Q1.1 0.035 1.3 0Q1.1 -0.035 0.9 0Z" fill="#a05a30"/></g><g transform="rotate(262.5)"><path d="M0.9 0Q1.1 0.035 1.3 0Q1.1 -0.035 0.9 0Z" fill="#a05a30"/></g><g transform="rotate(-90)"><path d="M0.8 0Q1.125 0.04 1.45 0Q1.125 -0.04 0.8 0Z" fill="#40b0c8"/></g><g transform="rotate(-75)"><path d="M0.8 0Q1.125 0.04 1.45 0Q1.125 -0.04 0.8 0Z" fill="#40b0c8"/></g><g transform="rotate(-60)"><path d="M0.8 0Q1.125 0.04 1.45 0Q1.125 -0.04 0.8 0Z" fill="#40b0c8"/></g><g transform="rotate(-45)"><path d="M0.8 0Q1.125 0.04 1.45 0Q1.125 -0.04 0.8 0Z" fill="#40b0c8"/></g><g transform="rotate(-30)"><path d="M0.8 0Q1.125 0.04 1.45 0Q1.125 -0.04 0.8 0Z" fill="#40b0c8"/></g><g transform="rotate(-15)"><path d="M0.8 0Q1.125 0.04 1.45 0Q1.125 -0.04 0.8 0Z" fill="#40b0c8"/></g><g transform="rotate(0)"><path d="M0.8 0Q1.125 0.04 1.45 0Q1.125 -0.04 0.8 0Z" fill="#40b0c8"/></g><g transform="rotate(15)"><path d="M0.8 0Q1.125 0.04 1.45 0Q1.125 -0.04 0.8 0Z" fill="#40b0c8"/></g><g transform="rotate(30)"><path d="M0.8 0Q1.125 0.04 1.45 0Q1.125 -0.04 0.8 0Z" fill="#40b0c8"/></g><g transform="rotate(45)"><path d="M0.8 0Q1.125 0.04 1.45 0Q1.125 -0.04 0.8 0Z" fill="#40b0c8"/></g><g transform="rotate(60)"><path d="M0.8 0Q1.125 0.04 1.45 0Q1.125 -0.04 0.8 0Z" fill="#40b0c8"/></g><g transform="rotate(75)"><path d="M0.8 0Q1.125 0.04 1.45 0Q1.125 -0.04 0.8 0Z" fill="#40b0c8"/></g><g transform="rotate(90)"><path d="M0.8 0Q1.125 0.04 1.45 0Q1.125 -0.04 0.8 0Z" fill="#40b0c8"/></g><g transform="rotate(105)"><path d="M0.8 0Q1.125 0.04 1.45 0Q1.125 -0.04 0.8 0Z" fill="#40b0c8"/></g><g transform="rotate(120)"><path d="M0.8 0Q1.125 0.04 1.45 0Q1.125 -0.04 0.8 0Z" fill="#40b0c8"/></g><g transform="rotate(135)"><path d="M0.8 0Q1.125 0.04 1.45 0Q1.125 -0.04 0.8 0Z" fill="#40b0c8"/></g><g transform="rotate(150)"><path d="M0.8 0Q1.125 0.04 1.45 0Q1.125 -0.04 0.8 0Z" fill="#40b0c8"/></g><g transform="rotate(165)"><path d="M0.8 0Q1.125 0.04 1.45 0Q1.125 -0.04 0.8 0Z" fill="#40b0c8"/></g><g transform="rotate(180)"><path d="M0.8 0Q1.125 0.04 1.45 0Q1.125 -0.04 0.8 0Z" fill="#40b0c8"/></g><g transform="rotate(195)"><path d="M0.8 0Q1.125 0.04 1.45 0Q1.125 -0.04 0.8 0Z" fill="#40b0c8"/></g><g transform="rotate(210)"><path d="M0.8 0Q1.125 0.04 1.45 0Q1.125 -0.04 0.8 0Z" fill="#40b0c8"/></g><g transform="rotate(225)"><path d="M0.8 0Q1.125 0.04 1.45 0Q1.125 -0.04 0.8 0Z" fill="#40b0c8"/></g><g transform="rotate(240)"><path d="M0.8 0Q1.125 0.04 1.45 0Q1.125 -0.04 0.8 0Z" fill="#40b0c8"/></g><g transform="rotate(255)"><path d="M0.8 0Q1.125 0.04 1.45 0Q1.125 -0.04 0.8 0Z" fill="#40b0c8"/></g><circle r="0.8" fill="none" stroke="#102010" stroke-width="0.02"/><circle r="0.79" fill="#dce4a0"/><polygon points="0,-0.78 0.107,-0.539 0.298,-0.721 0.306,-0.457 0.552,-0.552 0.457,-0.306 0.721,-0.298 0.539,-0.107 0.78,0 0.539,0.107 0.721,0.298 0.457,0.306 0.552,0.552 0.306,0.457 0.298,0.721 0.107,0.539 0,0.78 -0.107,0.539 -0.298,0.721 -0.306,0.457 -0.552,0.552 -0.457,0.306 -0.721,0.298 -0.539,0.107 -0.78,0 -0.539,-0.107 -0.721,-0.298 -0.457,-0.306 -0.552,-0.552 -0.306,-0.457 -0.298,-0.721 -0.107,-0.539" fill="#10103c"/><g transform="rotate(-78.75)"><ellipse cx="0.64" cy="0" rx="0.045" ry="0.05" fill="#dce4a0"/></g><g transform="rotate(-56.25)"><ellipse cx="0.64" cy="0" rx="0.045" ry="0.05" fill="#dce4a0"/></g><g transform="rotate(-33.75)"><ellipse cx="0.64" cy="0" rx="0.045" ry="0.05" fill="#dce4a0"/></g><g transform="rotate(-11.25)"><ellipse cx="0.64" cy="0" rx="0.045" ry="0.05" fill="#dce4a0"/></g><g transform="rotate(11.25)"><ellipse cx="0.64" cy="0" rx="0.045" ry="0.05" fill="#dce4a0"/></g><g transform="rotate(33.75)"><ellipse cx="0.64" cy="0" rx="0.045" ry="0.05" fill="#dce4a0"/></g><g transform="rotate(56.25)"><ellipse cx="0.64" cy="0" rx="0.045" ry="0.05" fill="#dce4a0"/></g><g transform="rotate(78.75)"><ellipse cx="0.64" cy="0" rx="0.045" ry="0.05" fill="#dce4a0"/></g><g transform="rotate(101.25)"><ellipse cx="0.64" cy="0" rx="0.045" ry="0.05" fill="#dce4a0"/></g><g transform="rotate(123.75)"><ellipse cx="0.64" cy="0" rx="0.045" ry="0.05" fill="#dce4a0"/></g><g transform="rotate(146.25)"><ellipse cx="0.64" cy="0" rx="0.045" ry="0.05" fill="#dce4a0"/></g><g transform="rotate(168.75)"><ellipse cx="0.64" cy="0" rx="0.045" ry="0.05" fill="#dce4a0"/></g><g transform="rotate(191.25)"><ellipse cx="0.64" cy="0" rx="0.045" ry="0.05" fill="#dce4a0"/></g><g transform="rotate(213.75)"><ellipse cx="0.64" cy="0" rx="0.045" ry="0.05" fill="#dce4a0"/></g><g transform="rotate(236.25)"><ellipse cx="0.64" cy="0" rx="0.045" ry="0.05" fill="#dce4a0"/></g><g transform="rotate(258.75)"><ellipse cx="0.64" cy="0" rx="0.045" ry="0.05" fill="#dce4a0"/></g><circle r="0.52" fill="#2a2a18"/><circle r="0.46" fill="#050508"/><circle r="0.4" fill="none" stroke="#c8c0d0" stroke-width="0.015"/><circle r="0.33" fill="none" stroke="#5a5058" stroke-width="0.025"/><circle r="0.27" fill="none" stroke="#d8d0e0" stroke-width="0.015"/><circle r="0.18" fill="none" stroke="#6a6070" stroke-width="0.01"/></symbol><symbol id="mJ" viewBox="-1 -1 2 2" overflow="hidden"><rect x="-1.5" y="-1.5" width="3" height="3" fill="#0a1c72"/><g transform="rotate(-82.5)"><ellipse cx="1.12" cy="0" rx="0.12" ry="0.05" fill="#90ccf6"/></g><g transform="rotate(-67.5)"><ellipse cx="1.12" cy="0" rx="0.12" ry="0.05" fill="#90ccf6"/></g><g transform="rotate(-52.5)"><ellipse cx="1.12" cy="0" rx="0.12" ry="0.05" fill="#90ccf6"/></g><g transform="rotate(-37.5)"><ellipse cx="1.12" cy="0" rx="0.12" ry="0.05" fill="#90ccf6"/></g><g transform="rotate(-22.5)"><ellipse cx="1.12" cy="0" rx="0.12" ry="0.05" fill="#90ccf6"/></g><g transform="rotate(-7.5)"><ellipse cx="1.12" cy="0" rx="0.12" ry="0.05" fill="#90ccf6"/></g><g transform="rotate(7.5)"><ellipse cx="1.12" cy="0" rx="0.12" ry="0.05" fill="#90ccf6"/></g><g transform="rotate(22.5)"><ellipse cx="1.12" cy="0" rx="0.12" ry="0.05" fill="#90ccf6"/></g><g transform="rotate(37.5)"><ellipse cx="1.12" cy="0" rx="0.12" ry="0.05" fill="#90ccf6"/></g><g transform="rotate(52.5)"><ellipse cx="1.12" cy="0" rx="0.12" ry="0.05" fill="#90ccf6"/></g><g transform="rotate(67.5)"><ellipse cx="1.12" cy="0" rx="0.12" ry="0.05" fill="#90ccf6"/></g><g transform="rotate(82.5)"><ellipse cx="1.12" cy="0" rx="0.12" ry="0.05" fill="#90ccf6"/></g><g transform="rotate(97.5)"><ellipse cx="1.12" cy="0" rx="0.12" ry="0.05" fill="#90ccf6"/></g><g transform="rotate(112.5)"><ellipse cx="1.12" cy="0" rx="0.12" ry="0.05" fill="#90ccf6"/></g><g transform="rotate(127.5)"><ellipse cx="1.12" cy="0" rx="0.12" ry="0.05" fill="#90ccf6"/></g><g transform="rotate(142.5)"><ellipse cx="1.12" cy="0" rx="0.12" ry="0.05" fill="#90ccf6"/></g><g transform="rotate(157.5)"><ellipse cx="1.12" cy="0" rx="0.12" ry="0.05" fill="#90ccf6"/></g><g transform="rotate(172.5)"><ellipse cx="1.12" cy="0" rx="0.12" ry="0.05" fill="#90ccf6"/></g><g transform="rotate(187.5)"><ellipse cx="1.12" cy="0" rx="0.12" ry="0.05" fill="#90ccf6"/></g><g transform="rotate(202.5)"><ellipse cx="1.12" cy="0" rx="0.12" ry="0.05" fill="#90ccf6"/></g><g transform="rotate(217.5)"><ellipse cx="1.12" cy="0" rx="0.12" ry="0.05" fill="#90ccf6"/></g><g transform="rotate(232.5)"><ellipse cx="1.12" cy="0" rx="0.12" ry="0.05" fill="#90ccf6"/></g><g transform="rotate(247.5)"><ellipse cx="1.12" cy="0" rx="0.12" ry="0.05" fill="#90ccf6"/></g><g transform="rotate(262.5)"><ellipse cx="1.12" cy="0" rx="0.12" ry="0.05" fill="#90ccf6"/></g><g transform="rotate(-75)"><ellipse cx="0.93" cy="0" rx="0.12" ry="0.06" fill="#a4dcf8"/></g><g transform="rotate(-45)"><ellipse cx="0.93" cy="0" rx="0.12" ry="0.06" fill="#a4dcf8"/></g><g transform="rotate(-15)"><ellipse cx="0.93" cy="0" rx="0.12" ry="0.06" fill="#a4dcf8"/></g><g transform="rotate(15)"><ellipse cx="0.93" cy="0" rx="0.12" ry="0.06" fill="#a4dcf8"/></g><g transform="rotate(45)"><ellipse cx="0.93" cy="0" rx="0.12" ry="0.06" fill="#a4dcf8"/></g><g transform="rotate(75)"><ellipse cx="0.93" cy="0" rx="0.12" ry="0.06" fill="#a4dcf8"/></g><g transform="rotate(105)"><ellipse cx="0.93" cy="0" rx="0.12" ry="0.06" fill="#a4dcf8"/></g><g transform="rotate(135)"><ellipse cx="0.93" cy="0" rx="0.12" ry="0.06" fill="#a4dcf8"/></g><g transform="rotate(165)"><ellipse cx="0.93" cy="0" rx="0.12" ry="0.06" fill="#a4dcf8"/></g><g transform="rotate(195)"><ellipse cx="0.93" cy="0" rx="0.12" ry="0.06" fill="#a4dcf8"/></g><g transform="rotate(225)"><ellipse cx="0.93" cy="0" rx="0.12" ry="0.06" fill="#a4dcf8"/></g><g transform="rotate(255)"><ellipse cx="0.93" cy="0" rx="0.12" ry="0.06" fill="#a4dcf8"/></g><g transform="rotate(-90)"><path d="M0.8 0Q1.15 0.1 1.5 0Q1.15 -0.1 0.8 0Z" fill="#80c4f4" stroke="#d8f4ff" stroke-width="0.02"/></g><g transform="rotate(-60)"><path d="M0.8 0Q1.15 0.1 1.5 0Q1.15 -0.1 0.8 0Z" fill="#80c4f4" stroke="#d8f4ff" stroke-width="0.02"/></g><g transform="rotate(-30)"><path d="M0.8 0Q1.15 0.1 1.5 0Q1.15 -0.1 0.8 0Z" fill="#80c4f4" stroke="#d8f4ff" stroke-width="0.02"/></g><g transform="rotate(0)"><path d="M0.8 0Q1.15 0.1 1.5 0Q1.15 -0.1 0.8 0Z" fill="#80c4f4" stroke="#d8f4ff" stroke-width="0.02"/></g><g transform="rotate(30)"><path d="M0.8 0Q1.15 0.1 1.5 0Q1.15 -0.1 0.8 0Z" fill="#80c4f4" stroke="#d8f4ff" stroke-width="0.02"/></g><g transform="rotate(60)"><path d="M0.8 0Q1.15 0.1 1.5 0Q1.15 -0.1 0.8 0Z" fill="#80c4f4" stroke="#d8f4ff" stroke-width="0.02"/></g><g transform="rotate(90)"><path d="M0.8 0Q1.15 0.1 1.5 0Q1.15 -0.1 0.8 0Z" fill="#80c4f4" stroke="#d8f4ff" stroke-width="0.02"/></g><g transform="rotate(120)"><path d="M0.8 0Q1.15 0.1 1.5 0Q1.15 -0.1 0.8 0Z" fill="#80c4f4" stroke="#d8f4ff" stroke-width="0.02"/></g><g transform="rotate(150)"><path d="M0.8 0Q1.15 0.1 1.5 0Q1.15 -0.1 0.8 0Z" fill="#80c4f4" stroke="#d8f4ff" stroke-width="0.02"/></g><g transform="rotate(180)"><path d="M0.8 0Q1.15 0.1 1.5 0Q1.15 -0.1 0.8 0Z" fill="#80c4f4" stroke="#d8f4ff" stroke-width="0.02"/></g><g transform="rotate(210)"><path d="M0.8 0Q1.15 0.1 1.5 0Q1.15 -0.1 0.8 0Z" fill="#80c4f4" stroke="#d8f4ff" stroke-width="0.02"/></g><g transform="rotate(240)"><path d="M0.8 0Q1.15 0.1 1.5 0Q1.15 -0.1 0.8 0Z" fill="#80c4f4" stroke="#d8f4ff" stroke-width="0.02"/></g><g transform="rotate(-90)"><path d="M0.86 0Q1.13 0.04 1.4 0Q1.13 -0.04 0.86 0Z" fill="#2a68c8"/></g><g transform="rotate(-60)"><path d="M0.86 0Q1.13 0.04 1.4 0Q1.13 -0.04 0.86 0Z" fill="#2a68c8"/></g><g transform="rotate(-30)"><path d="M0.86 0Q1.13 0.04 1.4 0Q1.13 -0.04 0.86 0Z" fill="#2a68c8"/></g><g transform="rotate(0)"><path d="M0.86 0Q1.13 0.04 1.4 0Q1.13 -0.04 0.86 0Z" fill="#2a68c8"/></g><g transform="rotate(30)"><path d="M0.86 0Q1.13 0.04 1.4 0Q1.13 -0.04 0.86 0Z" fill="#2a68c8"/></g><g transform="rotate(60)"><path d="M0.86 0Q1.13 0.04 1.4 0Q1.13 -0.04 0.86 0Z" fill="#2a68c8"/></g><g transform="rotate(90)"><path d="M0.86 0Q1.13 0.04 1.4 0Q1.13 -0.04 0.86 0Z" fill="#2a68c8"/></g><g transform="rotate(120)"><path d="M0.86 0Q1.13 0.04 1.4 0Q1.13 -0.04 0.86 0Z" fill="#2a68c8"/></g><g transform="rotate(150)"><path d="M0.86 0Q1.13 0.04 1.4 0Q1.13 -0.04 0.86 0Z" fill="#2a68c8"/></g><g transform="rotate(180)"><path d="M0.86 0Q1.13 0.04 1.4 0Q1.13 -0.04 0.86 0Z" fill="#2a68c8"/></g><g transform="rotate(210)"><path d="M0.86 0Q1.13 0.04 1.4 0Q1.13 -0.04 0.86 0Z" fill="#2a68c8"/></g><g transform="rotate(240)"><path d="M0.86 0Q1.13 0.04 1.4 0Q1.13 -0.04 0.86 0Z" fill="#2a68c8"/></g><g transform="rotate(-75)"><ellipse cx="1.02" cy="0" rx="0.05" ry="0.16" fill="#90d0f8"/></g><g transform="rotate(-45)"><ellipse cx="1.02" cy="0" rx="0.05" ry="0.16" fill="#90d0f8"/></g><g transform="rotate(-15)"><ellipse cx="1.02" cy="0" rx="0.05" ry="0.16" fill="#90d0f8"/></g><g transform="rotate(15)"><ellipse cx="1.02" cy="0" rx="0.05" ry="0.16" fill="#90d0f8"/></g><g transform="rotate(45)"><ellipse cx="1.02" cy="0" rx="0.05" ry="0.16" fill="#90d0f8"/></g><g transform="rotate(75)"><ellipse cx="1.02" cy="0" rx="0.05" ry="0.16" fill="#90d0f8"/></g><g transform="rotate(105)"><ellipse cx="1.02" cy="0" rx="0.05" ry="0.16" fill="#90d0f8"/></g><g transform="rotate(135)"><ellipse cx="1.02" cy="0" rx="0.05" ry="0.16" fill="#90d0f8"/></g><g transform="rotate(165)"><ellipse cx="1.02" cy="0" rx="0.05" ry="0.16" fill="#90d0f8"/></g><g transform="rotate(195)"><ellipse cx="1.02" cy="0" rx="0.05" ry="0.16" fill="#90d0f8"/></g><g transform="rotate(225)"><ellipse cx="1.02" cy="0" rx="0.05" ry="0.16" fill="#90d0f8"/></g><g transform="rotate(255)"><ellipse cx="1.02" cy="0" rx="0.05" ry="0.16" fill="#90d0f8"/></g><g transform="rotate(-67.5)"><ellipse cx="1.27" cy="0" rx="0.14" ry="0.14" fill="#c8f0fc"/></g><g transform="rotate(-22.5)"><ellipse cx="1.27" cy="0" rx="0.14" ry="0.14" fill="#c8f0fc"/></g><g transform="rotate(22.5)"><ellipse cx="1.27" cy="0" rx="0.14" ry="0.14" fill="#c8f0fc"/></g><g transform="rotate(67.5)"><ellipse cx="1.27" cy="0" rx="0.14" ry="0.14" fill="#c8f0fc"/></g><g transform="rotate(112.5)"><ellipse cx="1.27" cy="0" rx="0.14" ry="0.14" fill="#c8f0fc"/></g><g transform="rotate(157.5)"><ellipse cx="1.27" cy="0" rx="0.14" ry="0.14" fill="#c8f0fc"/></g><g transform="rotate(202.5)"><ellipse cx="1.27" cy="0" rx="0.14" ry="0.14" fill="#c8f0fc"/></g><g transform="rotate(247.5)"><ellipse cx="1.27" cy="0" rx="0.14" ry="0.14" fill="#c8f0fc"/></g><g transform="rotate(-67.5)"><ellipse cx="1.27" cy="0" rx="0.07" ry="0.07" fill="#60b0f0"/></g><g transform="rotate(-22.5)"><ellipse cx="1.27" cy="0" rx="0.07" ry="0.07" fill="#60b0f0"/></g><g transform="rotate(22.5)"><ellipse cx="1.27" cy="0" rx="0.07" ry="0.07" fill="#60b0f0"/></g><g transform="rotate(67.5)"><ellipse cx="1.27" cy="0" rx="0.07" ry="0.07" fill="#60b0f0"/></g><g transform="rotate(112.5)"><ellipse cx="1.27" cy="0" rx="0.07" ry="0.07" fill="#60b0f0"/></g><g transform="rotate(157.5)"><ellipse cx="1.27" cy="0" rx="0.07" ry="0.07" fill="#60b0f0"/></g><g transform="rotate(202.5)"><ellipse cx="1.27" cy="0" rx="0.07" ry="0.07" fill="#60b0f0"/></g><g transform="rotate(247.5)"><ellipse cx="1.27" cy="0" rx="0.07" ry="0.07" fill="#60b0f0"/></g><circle r="0.84" fill="none" stroke="#06104e" stroke-width="0.06"/><circle r="0.81" fill="#061256"/><circle r="0.64" fill="none" stroke="#6aa8ec" stroke-width="0.16"/><circle r="0.64" fill="none" stroke="#a8d4fa" stroke-width="0.11"/><circle cx="0" cy="-0.64" r="0.055" fill="#0a1c60"/><circle cx="0.32" cy="-0.554" r="0.055" fill="#0a1c60"/><circle cx="0.554" cy="-0.32" r="0.055" fill="#0a1c60"/><circle cx="0.64" cy="0" r="0.055" fill="#0a1c60"/><circle cx="0.554" cy="0.32" r="0.055" fill="#0a1c60"/><circle cx="0.32" cy="0.554" r="0.055" fill="#0a1c60"/><circle cx="0" cy="0.64" r="0.055" fill="#0a1c60"/><circle cx="-0.32" cy="0.554" r="0.055" fill="#0a1c60"/><circle cx="-0.554" cy="0.32" r="0.055" fill="#0a1c60"/><circle cx="-0.64" cy="0" r="0.055" fill="#0a1c60"/><circle cx="-0.554" cy="-0.32" r="0.055" fill="#0a1c60"/><circle cx="-0.32" cy="-0.554" r="0.055" fill="#0a1c60"/><circle cx="0.166" cy="-0.618" r="0.07" fill="none" stroke="#e0f6ff" stroke-width="0.02"/><circle cx="0.453" cy="-0.453" r="0.07" fill="none" stroke="#e0f6ff" stroke-width="0.02"/><circle cx="0.618" cy="-0.166" r="0.07" fill="none" stroke="#e0f6ff" stroke-width="0.02"/><circle cx="0.618" cy="0.166" r="0.07" fill="none" stroke="#e0f6ff" stroke-width="0.02"/><circle cx="0.453" cy="0.453" r="0.07" fill="none" stroke="#e0f6ff" stroke-width="0.02"/><circle cx="0.166" cy="0.618" r="0.07" fill="none" stroke="#e0f6ff" stroke-width="0.02"/><circle cx="-0.166" cy="0.618" r="0.07" fill="none" stroke="#e0f6ff" stroke-width="0.02"/><circle cx="-0.453" cy="0.453" r="0.07" fill="none" stroke="#e0f6ff" stroke-width="0.02"/><circle cx="-0.618" cy="0.166" r="0.07" fill="none" stroke="#e0f6ff" stroke-width="0.02"/><circle cx="-0.618" cy="-0.166" r="0.07" fill="none" stroke="#e0f6ff" stroke-width="0.02"/><circle cx="-0.453" cy="-0.453" r="0.07" fill="none" stroke="#e0f6ff" stroke-width="0.02"/><circle cx="-0.166" cy="-0.618" r="0.07" fill="none" stroke="#e0f6ff" stroke-width="0.02"/><circle r="0.72" fill="none" stroke="#e0f6ff" stroke-width="0.015"/><circle r="0.56" fill="none" stroke="#e0f6ff" stroke-width="0.015"/><circle r="0.55" fill="#050c44"/><g transform="rotate(-90)"><ellipse cx="0.42" cy="0" rx="0.1" ry="0.03" fill="#1848b0"/></g><g transform="rotate(-67.5)"><ellipse cx="0.42" cy="0" rx="0.1" ry="0.03" fill="#1848b0"/></g><g transform="rotate(-45)"><ellipse cx="0.42" cy="0" rx="0.1" ry="0.03" fill="#1848b0"/></g><g transform="rotate(-22.5)"><ellipse cx="0.42" cy="0" rx="0.1" ry="0.03" fill="#1848b0"/></g><g transform="rotate(0)"><ellipse cx="0.42" cy="0" rx="0.1" ry="0.03" fill="#1848b0"/></g><g transform="rotate(22.5)"><ellipse cx="0.42" cy="0" rx="0.1" ry="0.03" fill="#1848b0"/></g><g transform="rotate(45)"><ellipse cx="0.42" cy="0" rx="0.1" ry="0.03" fill="#1848b0"/></g><g transform="rotate(67.5)"><ellipse cx="0.42" cy="0" rx="0.1" ry="0.03" fill="#1848b0"/></g><g transform="rotate(90)"><ellipse cx="0.42" cy="0" rx="0.1" ry="0.03" fill="#1848b0"/></g><g transform="rotate(112.5)"><ellipse cx="0.42" cy="0" rx="0.1" ry="0.03" fill="#1848b0"/></g><g transform="rotate(135)"><ellipse cx="0.42" cy="0" rx="0.1" ry="0.03" fill="#1848b0"/></g><g transform="rotate(157.5)"><ellipse cx="0.42" cy="0" rx="0.1" ry="0.03" fill="#1848b0"/></g><g transform="rotate(180)"><ellipse cx="0.42" cy="0" rx="0.1" ry="0.03" fill="#1848b0"/></g><g transform="rotate(202.5)"><ellipse cx="0.42" cy="0" rx="0.1" ry="0.03" fill="#1848b0"/></g><g transform="rotate(225)"><ellipse cx="0.42" cy="0" rx="0.1" ry="0.03" fill="#1848b0"/></g><g transform="rotate(247.5)"><ellipse cx="0.42" cy="0" rx="0.1" ry="0.03" fill="#1848b0"/></g><polygon points="0,-0.35 0.049,-0.245 0.134,-0.323 0.139,-0.208 0.247,-0.247 0.208,-0.139 0.323,-0.134 0.245,-0.049 0.35,0 0.245,0.049 0.323,0.134 0.208,0.139 0.247,0.247 0.139,0.208 0.134,0.323 0.049,0.245 0,0.35 -0.049,0.245 -0.134,0.323 -0.139,0.208 -0.247,0.247 -0.208,0.139 -0.323,0.134 -0.245,0.049 -0.35,0 -0.245,-0.049 -0.323,-0.134 -0.208,-0.139 -0.247,-0.247 -0.139,-0.208 -0.134,-0.323 -0.049,-0.245" fill="#a0d8fc"/><circle r="0.25" fill="#2a70d8"/><circle r="0.19" fill="none" stroke="#b0e0fc" stroke-width="0.025"/><circle r="0.12" fill="none" stroke="#b0e0fc" stroke-width="0.025"/><circle r="0.045" fill="#e8faff"/></symbol></defs></svg>
<svg class="t" style="left:128px;top:99px;width:84.8px;height:83.9px" viewBox="-1 -1 2 2" preserveAspectRatio="none"><use href="#mA" x="-1" y="-1" width="2" height="2"/></svg>
<div class="h" style="left:127.5px;top:89.7px;width:86px"></div><div class="v" style="left:126.8px;top:87.95px;height:4.9px"></div><div class="v" style="left:212.8px;top:87.95px;height:4.9px"></div>
<div class="v" style="left:118.7px;top:98.3px;height:84.1px"></div><div class="h" style="left:115.9px;top:97.6px;width:7px"></div><div class="h" style="left:115.9px;top:181.7px;width:7px"></div>
<svg class="t" style="left:423px;top:69.5px;width:121.5px;height:120px" viewBox="-1 -1 2 2" preserveAspectRatio="none"><use href="#mA" x="-1" y="-1" width="2" height="2"/></svg>
<div class="h" style="left:422.4px;top:57.7px;width:120.6px"></div><div class="v" style="left:421.7px;top:54.5px;height:7.8px"></div><div class="v" style="left:542.3px;top:54.5px;height:7.8px"></div>
<div class="v" style="left:413.9px;top:69px;height:121.2px"></div><div class="h" style="left:410.2px;top:68.3px;width:8.8px"></div><div class="h" style="left:410.2px;top:189.5px;width:8.8px"></div>
<svg class="t" style="left:97.2px;top:313.8px;width:157.6px;height:156.8px" viewBox="-1 -1 2 2" preserveAspectRatio="none"><use href="#mA" x="-1" y="-1" width="2" height="2"/></svg>
<div class="h" style="left:96.5px;top:296.8px;width:156.7px"></div><div class="v" style="left:95.8px;top:292.6px;height:9.8px"></div><div class="v" style="left:252.5px;top:292.6px;height:9.8px"></div>
<div class="v" style="left:83.8px;top:313.2px;height:157.8px"></div><div class="h" style="left:79.2px;top:312.5px;width:10.6px"></div><div class="h" style="left:79.2px;top:470.3px;width:10.6px"></div>
<svg class="t" style="left:386.1px;top:280.2px;width:190.8px;height:189.6px" viewBox="-1 -1 2 2" preserveAspectRatio="none"><use href="#mA" x="-1" y="-1" width="2" height="2"/></svg>
<div class="h" style="left:385.4px;top:259.7px;width:191.8px"></div><div class="v" style="left:384.7px;top:254.4px;height:12px"></div><div class="v" style="left:576.5px;top:254.4px;height:12px"></div>
<div class="v" style="left:370.7px;top:279.3px;height:191.9px"></div><div class="h" style="left:364.9px;top:278.6px;width:13px"></div><div class="h" style="left:364.9px;top:470.5px;width:13px"></div>
<div class="tx" style="left:154.881px;top:54.687px;font-size:14.085px;letter-spacing:0em;transform:scaleX(0.9572);transform-origin:0 0">10CM</div>
<div class="tx" style="left:142.171px;top:69.468px;font-size:12.766px;letter-spacing:0em;transform:scaleX(1.0824);transform-origin:0 0">(4 inches)</div>
<div class="tx" style="left:62.835px;top:123.587px;font-size:14.085px;letter-spacing:0em;transform:scaleX(0.9448);transform-origin:0 0">10CM</div>
<div class="tx" style="left:50.068px;top:138.381px;font-size:12.66px;letter-spacing:0em;transform:scaleX(1.0952);transform-origin:0 0">(4 inches)</div>
<div class="tx" style="left:460.72px;top:22.658px;font-size:13.944px;letter-spacing:0em;transform:scaleX(0.9686);transform-origin:0 0">15CM</div>
<div class="tx" style="left:448.172px;top:37.299px;font-size:12.926px;letter-spacing:0em;transform:scaleX(1.0672);transform-origin:0 0">(6 inches)</div>
<div class="tx" style="left:359.832px;top:114.658px;font-size:13.944px;letter-spacing:0em;transform:scaleX(0.9572);transform-origin:0 0">15CM</div>
<div class="tx" style="left:347.072px;top:129.468px;font-size:12.766px;letter-spacing:0em;transform:scaleX(1.0805);transform-origin:0 0">(6 inches)</div>
<div class="tx" style="left:157.733px;top:263.456px;font-size:14.296px;letter-spacing:0em;transform:scaleX(0.9336);transform-origin:0 0">20CM</div>
<div class="tx" style="left:145.172px;top:278.368px;font-size:12.766px;letter-spacing:0em;transform:scaleX(1.0805);transform-origin:0 0">(8 inches)</div>
<div class="tx" style="left:30.68px;top:377.366px;font-size:14.225px;letter-spacing:0em;transform:scaleX(0.9424);transform-origin:0 0">20CM</div>
<div class="tx" style="left:18.07px;top:392.199px;font-size:12.926px;letter-spacing:0em;transform:scaleX(1.0708);transform-origin:0 0">(8 inches)</div>
<div class="tx" style="left:459.038px;top:211.569px;font-size:18.873px;letter-spacing:0em;transform:scaleX(1.0098);transform-origin:0 0">30CM</div>
<div class="tx" style="left:435.622px;top:232.255px;font-size:17.872px;letter-spacing:0em;transform:scaleX(1.0982);transform-origin:0 0">(12 inches)</div>
<div class="tx" style="left:294.038px;top:358.527px;font-size:19.155px;letter-spacing:0em;transform:scaleX(0.9950);transform-origin:0 0">30CM</div>
<div class="tx" style="left:270.42px;top:379.281px;font-size:17.66px;letter-spacing:0em;transform:scaleX(1.1138);transform-origin:0 0">(12 inches)</div>
<svg class="t" style="left:621px;top:35px;width:109px;height:108px" viewBox="-1 -1 2 2" preserveAspectRatio="none"><use href="#mB" x="-1" y="-1" width="2" height="2"/></svg>
<svg class="t" style="left:736px;top:35px;width:108.5px;height:108px" viewBox="-1 -1 2 2" preserveAspectRatio="none"><use href="#mC" x="-1" y="-1" width="2" height="2"/></svg>
<svg class="t" style="left:850px;top:35px;width:108.5px;height:108px" viewBox="-1 -1 2 2" preserveAspectRatio="none"><use href="#mD" x="-1" y="-1" width="2" height="2"/></svg>
<svg class="t" style="left:621px;top:146.8px;width:109px;height:107.8px" viewBox="-1 -1 2 2" preserveAspectRatio="none"><use href="#mE" x="-1" y="-1" width="2" height="2"/></svg>
<svg class="t" style="left:736px;top:146.8px;width:108.5px;height:107.8px" viewBox="-1 -1 2 2" preserveAspectRatio="none"><use href="#mF" x="-1" y="-1" width="2" height="2"/></svg>
<svg class="t" style="left:850px;top:146.8px;width:108.5px;height:107.8px" viewBox="-1 -1 2 2" preserveAspectRatio="none"><use href="#mA" x="-1" y="-1" width="2" height="2"/></svg>
<svg class="t" style="left:621px;top:258.8px;width:109px;height:107.8px" viewBox="-1 -1 2 2" preserveAspectRatio="none"><use href="#mG" x="-1" y="-1" width="2" height="2"/></svg>
<svg class="t" style="left:736px;top:258.8px;width:108.5px;height:107.8px" viewBox="-1 -1 2 2" preserveAspectRatio="none"><use href="#mH" x="-1" y="-1" width="2" height="2"/></svg>
<svg class="t" style="left:850px;top:258.8px;width:108.5px;height:107.8px" viewBox="-1 -1 2 2" preserveAspectRatio="none"><use href="#mI" x="-1" y="-1" width="2" height="2"/></svg>
<svg class="t" style="left:621px;top:375px;width:109px;height:108px" viewBox="-1 -1 2 2" preserveAspectRatio="none"><use href="#mJ" x="-1" y="-1" width="2" height="2"/></svg>
<svg class="t" style="left:164px;top:613px;width:264px;height:264px" viewBox="-1 -1 2 2" preserveAspectRatio="none"><use href="#mB" x="-1" y="-1" width="2" height="2"/></svg>
<div class="a" style="left:594px;top:618px;width:382px;height:259px;overflow:hidden;background:linear-gradient(180deg,rgba(255,255,255,0) 0px,rgba(255,255,255,0.06) 75px),linear-gradient(90deg,#e8e8ea 0%,#e6e7e9 13%,#dadbdc 29%,#cfcfd0 39%,#c6c6c6 53%,#b9b9b9 79%,#b5b5b5 100%)"><svg class="t" style="left:-6px;top:75.5px;width:39.1px;height:38.9px" viewBox="-1 -1 2 2" preserveAspectRatio="none"><use href="#mB" x="-1" y="-1" width="2" height="2"/></svg><svg class="t" style="left:33.1px;top:75.5px;width:39.1px;height:38.9px" viewBox="-1 -1 2 2" preserveAspectRatio="none"><use href="#mA" x="-1" y="-1" width="2" height="2"/></svg><svg class="t" style="left:72.2px;top:75.5px;width:39.1px;height:38.9px" viewBox="-1 -1 2 2" preserveAspectRatio="none"><use href="#mH" x="-1" y="-1" width="2" height="2"/></svg><svg class="t" style="left:111.3px;top:75.5px;width:39.1px;height:38.9px" viewBox="-1 -1 2 2" preserveAspectRatio="none"><use href="#mI" x="-1" y="-1" width="2" height="2"/></svg><svg class="t" style="left:150.4px;top:75.5px;width:39.1px;height:38.9px" viewBox="-1 -1 2 2" preserveAspectRatio="none"><use href="#mD" x="-1" y="-1" width="2" height="2"/></svg><svg class="t" style="left:189.5px;top:75.5px;width:39.1px;height:38.9px" viewBox="-1 -1 2 2" preserveAspectRatio="none"><use href="#mB" x="-1" y="-1" width="2" height="2"/></svg><svg class="t" style="left:228.6px;top:75.5px;width:39.1px;height:38.9px" viewBox="-1 -1 2 2" preserveAspectRatio="none"><use href="#mA" x="-1" y="-1" width="2" height="2"/></svg><svg class="t" style="left:267.7px;top:75.5px;width:39.1px;height:38.9px" viewBox="-1 -1 2 2" preserveAspectRatio="none"><use href="#mH" x="-1" y="-1" width="2" height="2"/></svg><svg class="t" style="left:306.8px;top:75.5px;width:39.1px;height:38.9px" viewBox="-1 -1 2 2" preserveAspectRatio="none"><use href="#mI" x="-1" y="-1" width="2" height="2"/></svg><svg class="t" style="left:345.9px;top:75.5px;width:39.1px;height:38.9px" viewBox="-1 -1 2 2" preserveAspectRatio="none"><use href="#mD" x="-1" y="-1" width="2" height="2"/></svg><svg class="t" style="left:-6px;top:114.4px;width:39.1px;height:38.9px" viewBox="-1 -1 2 2" preserveAspectRatio="none"><use href="#mC" x="-1" y="-1" width="2" height="2"/></svg><svg class="t" style="left:33.1px;top:114.4px;width:39.1px;height:38.9px" viewBox="-1 -1 2 2" preserveAspectRatio="none"><use href="#mF" x="-1" y="-1" width="2" height="2"/></svg><svg class="t" style="left:72.2px;top:114.4px;width:39.1px;height:38.9px" viewBox="-1 -1 2 2" preserveAspectRatio="none"><use href="#mE" x="-1" y="-1" width="2" height="2"/></svg><svg class="t" style="left:111.3px;top:114.4px;width:39.1px;height:38.9px" viewBox="-1 -1 2 2" preserveAspectRatio="none"><use href="#mG" x="-1" y="-1" width="2" height="2"/></svg><svg class="t" style="left:150.4px;top:114.4px;width:39.1px;height:38.9px" viewBox="-1 -1 2 2" preserveAspectRatio="none"><use href="#mJ" x="-1" y="-1" width="2" height="2"/></svg><svg class="t" style="left:189.5px;top:114.4px;width:39.1px;height:38.9px" viewBox="-1 -1 2 2" preserveAspectRatio="none"><use href="#mC" x="-1" y="-1" width="2" height="2"/></svg><svg class="t" style="left:228.6px;top:114.4px;width:39.1px;height:38.9px" viewBox="-1 -1 2 2" preserveAspectRatio="none"><use href="#mF" x="-1" y="-1" width="2" height="2"/></svg><svg class="t" style="left:267.7px;top:114.4px;width:39.1px;height:38.9px" viewBox="-1 -1 2 2" preserveAspectRatio="none"><use href="#mE" x="-1" y="-1" width="2" height="2"/></svg><svg class="t" style="left:306.8px;top:114.4px;width:39.1px;height:38.9px" viewBox="-1 -1 2 2" preserveAspectRatio="none"><use href="#mG" x="-1" y="-1" width="2" height="2"/></svg><svg class="t" style="left:345.9px;top:114.4px;width:39.1px;height:38.9px" viewBox="-1 -1 2 2" preserveAspectRatio="none"><use href="#mJ" x="-1" y="-1" width="2" height="2"/></svg><svg class="t" style="left:-6px;top:153.3px;width:39.1px;height:38.9px" viewBox="-1 -1 2 2" preserveAspectRatio="none"><use href="#mD" x="-1" y="-1" width="2" height="2"/></svg><svg class="t" style="left:33.1px;top:153.3px;width:39.1px;height:38.9px" viewBox="-1 -1 2 2" preserveAspectRatio="none"><use href="#mB" x="-1" y="-1" width="2" height="2"/></svg><svg class="t" style="left:72.2px;top:153.3px;width:39.1px;height:38.9px" viewBox="-1 -1 2 2" preserveAspectRatio="none"><use href="#mA" x="-1" y="-1" width="2" height="2"/></svg><svg class="t" style="left:111.3px;top:153.3px;width:39.1px;height:38.9px" viewBox="-1 -1 2 2" preserveAspectRatio="none"><use href="#mH" x="-1" y="-1" width="2" height="2"/></svg><svg class="t" style="left:150.4px;top:153.3px;width:39.1px;height:38.9px" viewBox="-1 -1 2 2" preserveAspectRatio="none"><use href="#mI" x="-1" y="-1" width="2" height="2"/></svg><svg class="t" style="left:189.5px;top:153.3px;width:39.1px;height:38.9px" viewBox="-1 -1 2 2" preserveAspectRatio="none"><use href="#mD" x="-1" y="-1" width="2" height="2"/></svg><svg class="t" style="left:228.6px;top:153.3px;width:39.1px;height:38.9px" viewBox="-1 -1 2 2" preserveAspectRatio="none"><use href="#mB" x="-1" y="-1" width="2" height="2"/></svg><svg class="t" style="left:267.7px;top:153.3px;width:39.1px;height:38.9px" viewBox="-1 -1 2 2" preserveAspectRatio="none"><use href="#mA" x="-1" y="-1" width="2" height="2"/></svg><svg class="t" style="left:306.8px;top:153.3px;width:39.1px;height:38.9px" viewBox="-1 -1 2 2" preserveAspectRatio="none"><use href="#mH" x="-1" y="-1" width="2" height="2"/></svg><svg class="t" style="left:345.9px;top:153.3px;width:39.1px;height:38.9px" viewBox="-1 -1 2 2" preserveAspectRatio="none"><use href="#mI" x="-1" y="-1" width="2" height="2"/></svg><svg class="t" style="left:-6px;top:192.2px;width:39.1px;height:38.9px" viewBox="-1 -1 2 2" preserveAspectRatio="none"><use href="#mJ" x="-1" y="-1" width="2" height="2"/></svg><svg class="t" style="left:33.1px;top:192.2px;width:39.1px;height:38.9px" viewBox="-1 -1 2 2" preserveAspectRatio="none"><use href="#mC" x="-1" y="-1" width="2" height="2"/></svg><svg class="t" style="left:72.2px;top:192.2px;width:39.1px;height:38.9px" viewBox="-1 -1 2 2" preserveAspectRatio="none"><use href="#mF" x="-1" y="-1" width="2" height="2"/></svg><svg class="t" style="left:111.3px;top:192.2px;width:39.1px;height:38.9px" viewBox="-1 -1 2 2" preserveAspectRatio="none"><use href="#mE" x="-1" y="-1" width="2" height="2"/></svg><svg class="t" style="left:150.4px;top:192.2px;width:39.1px;height:38.9px" viewBox="-1 -1 2 2" preserveAspectRatio="none"><use href="#mG" x="-1" y="-1" width="2" height="2"/></svg><svg class="t" style="left:189.5px;top:192.2px;width:39.1px;height:38.9px" viewBox="-1 -1 2 2" preserveAspectRatio="none"><use href="#mJ" x="-1" y="-1" width="2" height="2"/></svg><svg class="t" style="left:228.6px;top:192.2px;width:39.1px;height:38.9px" viewBox="-1 -1 2 2" preserveAspectRatio="none"><use href="#mC" x="-1" y="-1" width="2" height="2"/></svg><svg class="t" style="left:267.7px;top:192.2px;width:39.1px;height:38.9px" viewBox="-1 -1 2 2" preserveAspectRatio="none"><use href="#mF" x="-1" y="-1" width="2" height="2"/></svg><svg class="t" style="left:306.8px;top:192.2px;width:39.1px;height:38.9px" viewBox="-1 -1 2 2" preserveAspectRatio="none"><use href="#mE" x="-1" y="-1" width="2" height="2"/></svg><svg class="t" style="left:345.9px;top:192.2px;width:39.1px;height:38.9px" viewBox="-1 -1 2 2" preserveAspectRatio="none"><use href="#mG" x="-1" y="-1" width="2" height="2"/></svg></div>
<svg class="a" style="left:0;top:0" width="1000" height="1000" viewBox="0 0 1000 1000"><defs><linearGradient id="gback" gradientUnits="userSpaceOnUse" x1="240" y1="823" x2="189" y2="895"><stop offset="0" stop-color="#a4a4a4"/><stop offset="0.35" stop-color="#bdbdbd"/><stop offset="1" stop-color="#d0d0d0"/></linearGradient><linearGradient id="gflap" gradientUnits="userSpaceOnUse" x1="240" y1="823" x2="282" y2="763"><stop offset="0" stop-color="#8c8c8c"/><stop offset="0.12" stop-color="#d8d8d8"/><stop offset="0.35" stop-color="#f8f8f8"/><stop offset="0.7" stop-color="#f0f0f0"/><stop offset="1" stop-color="#cfcfcf"/></linearGradient><linearGradient id="gwood" x1="0" y1="0" x2="0" y2="1"><stop offset="0" stop-color="#dcbc94"/><stop offset="1" stop-color="#cfa878"/></linearGradient><linearGradient id="gsink" x1="0" y1="0" x2="1" y2="0.3"><stop offset="0" stop-color="#cfcfcf"/><stop offset="1" stop-color="#ececec"/></linearGradient><linearGradient id="gbowl" x1="0" y1="0" x2="1" y2="0"><stop offset="0" stop-color="#d6d6d6"/><stop offset="0.3" stop-color="#f4f4f4"/><stop offset="0.8" stop-color="#eeeeee"/><stop offset="1" stop-color="#d8d8d8"/></linearGradient><linearGradient id="gskin" x1="0" y1="0" x2="0" y2="1"><stop offset="0" stop-color="#f4dcd0"/><stop offset="1" stop-color="#e8c2ac"/></linearGradient><linearGradient id="gwoodR" x1="0" y1="0" x2="1" y2="0"><stop offset="0" stop-color="#7a5a3c" stop-opacity="0"/><stop offset="0.5" stop-color="#7a5a3c" stop-opacity="0.8"/><stop offset="1" stop-color="#6a4c34" stop-opacity="1"/></linearGradient><clipPath id="cph"><rect x="594" y="618" width="382" height="259"/></clipPath></defs><path d="M164 768.5 C200 804.5 262 840.5 317 877 L164 877 Z" fill="url(#gback)"/><path d="M164 770 Q185 781 205 780 L287 767 C289 800 296 842 315 877 C262 842 200 806 164 770 Z" fill="url(#gflap)"/><g clip-path="url(#cph)"><path d="M594 850 L735 850 L703 877 L594 877 Z" fill="url(#gsink)"/><path d="M735 850 L976 850 L976 877 L703 877 Z" fill="url(#gwood)"/><line x1="729" y1="856" x2="976" y2="856" stroke="#c49a68" stroke-width="0.8" opacity="0.6"/><line x1="722" y1="862" x2="976" y2="862" stroke="#c49a68" stroke-width="0.8" opacity="0.6"/><line x1="713" y1="869" x2="976" y2="869" stroke="#c49a68" stroke-width="0.8" opacity="0.6"/><rect x="900" y="850" width="76" height="27" fill="url(#gwoodR)"/><circle cx="632" cy="876" r="10" fill="#b0b0b0" stroke="#808080" stroke-width="2"/><ellipse cx="970" cy="842" rx="26" ry="23" fill="#1a1616"/><path d="M965 851 C968 848 976 848 976 848 L976 876 L966 876 C963 868 962 858 965 851 Z" fill="#2a2a2a" stroke="#9a9a9a" stroke-width="1"/><path d="M781 818 C781 806 800 800 854 800 C908 800 928 806 928 818 L927 842 C924 866 900 877 855 877 C810 877 785 866 782 842 Z" fill="url(#gbowl)"/><path d="M787 818 C787 810 805 805 854 805 C903 805 922 810 922 818 C905 822 805 822 787 818 Z" fill="#dedede"/><polygon points="846,681 925,761 845,842 766,761" fill="#e8e6ee"/><rect x="802" y="740.5" width="86" height="42.5" rx="7" fill="#f2e4da" stroke="#e0c0a8" stroke-width="1.2"/><rect x="813" y="742.8" width="65.4" height="37" fill="#141414"/><circle cx="807.6" cy="761.5" r="3.2" fill="none" stroke="#d0b8a8" stroke-width="0.8"/><rect x="882" y="756" width="1.2" height="10" fill="#555"/><path d="M843 690 C843 680 845 673 848 668 C851 661 856 657 864 657 C875 656 887 659 897 662 C912 668 930 676 952 688 C962 693 970 697 976 699 L976 752 C962 742 948 730 932 718 C918 707 905 699 894 693 C885 698 877 702 868 703 C858 704 849 702 845 697 Z" fill="url(#gskin)"/><path d="M842 688 C846 685 856 686 860 690 L858 701 C852 704 845 702 843 698 Z" fill="#ece0e4"/></g><polygon points="123.7,645 142.5,641 136.78,656.776 212.5,679 139.42,649.224 133.7,665" fill="#000"/><polygon points="468.4,632.8 445.6,628.8 450.434,636.437 386.6,682.3 454.766,643.163 459.6,650.8" fill="#000"/><polygon points="444.8,766.6 461.4,765.2 454.91,777.793 518,804.8 457.99,771.507 451.5,784.1" fill="#000"/><polygon points="334,845 356,855 340.724,862.993 381.3,935 347.876,859.407 332.6,867.4" fill="#000"/><polygon points="182,821.8 167.7,811.3 169.108,818.341 104,832.2 170.092,824.259 171.5,831.3" fill="#000"/><path d="M841 716.5 C862 712 885 700 896 684 C906 668 912 645 912.4 621 C912.6 608 911 598 910 589 L903.5 589 C905 600 905.5 610 905.2 621 C904.5 645 900 664 894 674 C882 694 862 706 841 716.5 Z" fill="#000"/><polygon points="899,575 916.5,587.5 893,595" fill="#000"/></svg>
<div class="tx" style="left:131.257px;top:528.011px;font-size:28.592px;letter-spacing:0.1em;transform:scaleX(0.7619);transform-origin:0 0">DECORATIVE TILE STICKERS</div>
<div class="tx" style="left:678.713px;top:528.375px;font-size:28.169px;letter-spacing:0.1em;transform:scaleX(0.7721);transform-origin:0 0">STRONG STICKINESS</div>
<div class="tx" style="left:18.892px;top:605.054px;font-size:18.31px;letter-spacing:0.1em;transform:scaleX(0.8926);transform-origin:0 0">HEAT</div>
<div class="tx" style="left:18.974px;top:629.138px;font-size:17.746px;letter-spacing:0.1em;transform:scaleX(0.8633);transform-origin:0 0">RESISTANT</div>
<div class="tx" style="left:444.427px;top:593.954px;font-size:18.31px;letter-spacing:0.1em;transform:scaleX(0.8692);transform-origin:0 0">REMOVABLE</div>
<div class="tx" style="left:442.115px;top:820.754px;font-size:18.31px;letter-spacing:0.1em;transform:scaleX(0.8772);transform-origin:0 0">HIGH QVALITY</div>
<div class="tx" style="left:377.6px;top:955px;transform:rotate(-2.1deg);transform-origin:0 0"><div style="position:absolute;left:-83.656px;top:-9.246px;font-size:18.31px;letter-spacing:0.1em;transform:scaleX(0.8540);transform-origin:0 0">WATER RESISTANT</div></div>
<div class="tx" style="left:86.3px;top:812.2px;transform:rotate(-34deg);transform-origin:0 0"><div style="position:absolute;left:-67.543px;top:-8.749px;font-size:17.324px;letter-spacing:0.1em;transform:scaleX(0.9327);transform-origin:0 0">ELO-FRIENDLY</div></div>
</body></html>
